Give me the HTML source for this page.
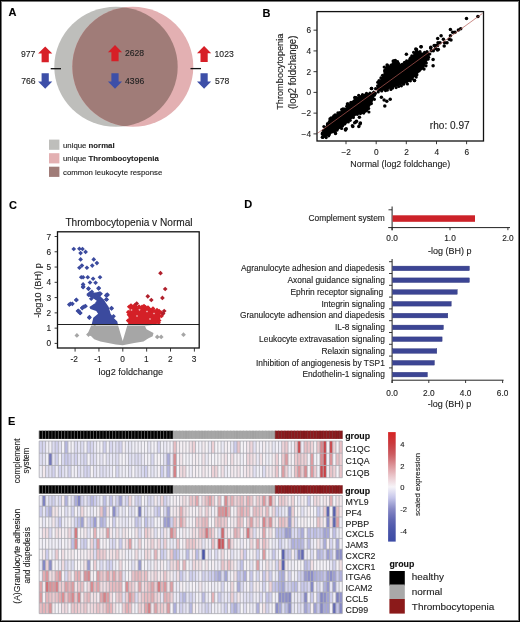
<!DOCTYPE html>
<html><head><meta charset="utf-8"><style>
html,body{margin:0;padding:0;background:#fff;}
body{width:520px;height:622px;overflow:hidden;}
svg{display:block;will-change:transform;}
svg text{font-family:"Liberation Sans",sans-serif;}
</style></head><body>
<svg width="520" height="622" viewBox="0 0 520 622"><rect x="0" y="0" width="520" height="622" fill="#fff"/><text x="8.6" y="16.4" font-size="11" text-anchor="start" fill="#000" stroke="#000" stroke-width="0.12" font-weight="bold">A</text><text x="262.4" y="16.5" font-size="11" text-anchor="start" fill="#000" stroke="#000" stroke-width="0.12" font-weight="bold">B</text><text x="8.9" y="208.6" font-size="11" text-anchor="start" fill="#000" stroke="#000" stroke-width="0.12" font-weight="bold">C</text><text x="244.3" y="208.4" font-size="11" text-anchor="start" fill="#000" stroke="#000" stroke-width="0.12" font-weight="bold">D</text><text x="8.0" y="424.6" font-size="11" text-anchor="start" fill="#000" stroke="#000" stroke-width="0.12" font-weight="bold">E</text><defs><clipPath id="cg"><ellipse cx="116" cy="66.8" rx="61.7" ry="60"/></clipPath></defs><ellipse cx="116" cy="66.8" rx="61.7" ry="60" fill="#bebebb"/><ellipse cx="132.8" cy="66.8" rx="60.5" ry="60" fill="#e3b0b2"/><ellipse cx="132.8" cy="66.8" rx="60.5" ry="60" fill="#a07c78" clip-path="url(#cg)"/><path d="M38.10,53.60 L45.20,46.40 L52.30,53.60 L48.80,53.60 L48.80,62.20 L41.60,62.20 L41.60,53.60 Z" fill="#d71f27"/><path d="M41.60,73.20 L48.80,73.20 L48.80,81.60 L52.30,81.60 L45.20,88.80 L38.10,81.60 L41.60,81.60 Z" fill="#3d4fa8"/><path d="M107.90,52.20 L115.00,45.00 L122.10,52.20 L118.60,52.20 L118.60,61.30 L111.40,61.30 L111.40,52.20 Z" fill="#d71f27"/><path d="M111.40,73.20 L118.60,73.20 L118.60,81.60 L122.10,81.60 L115.00,88.80 L107.90,81.60 L111.40,81.60 Z" fill="#3d4fa8"/><path d="M197.00,53.20 L204.10,46.00 L211.20,53.20 L207.70,53.20 L207.70,61.90 L200.50,61.90 L200.50,53.20 Z" fill="#d71f27"/><path d="M200.50,73.20 L207.70,73.20 L207.70,81.60 L211.20,81.60 L204.10,88.80 L197.00,81.60 L200.50,81.60 Z" fill="#3d4fa8"/><text x="21.0" y="56.9" font-size="8.6" text-anchor="start" fill="#222" stroke="#222" stroke-width="0.12">977</text><text x="21.3" y="84.0" font-size="8.6" text-anchor="start" fill="#222" stroke="#222" stroke-width="0.12">766</text><text x="124.9" y="56.2" font-size="8.6" text-anchor="start" fill="#222" stroke="#222" stroke-width="0.12">2628</text><text x="125.1" y="83.9" font-size="8.6" text-anchor="start" fill="#222" stroke="#222" stroke-width="0.12">4396</text><text x="214.6" y="56.7" font-size="8.6" text-anchor="start" fill="#222" stroke="#222" stroke-width="0.12">1023</text><text x="214.9" y="84.0" font-size="8.6" text-anchor="start" fill="#222" stroke="#222" stroke-width="0.12">578</text><line x1="50.7" y1="68.7" x2="61" y2="68.7" stroke="#111" stroke-width="1.3"/><line x1="190.5" y1="68.6" x2="201" y2="68.6" stroke="#111" stroke-width="1.3"/><rect x="49.00" y="139.60" width="10.40" height="10.20" fill="#bebebb"/><rect x="49.00" y="153.20" width="10.40" height="10.20" fill="#e3b0b2"/><rect x="49.00" y="166.70" width="10.40" height="10.20" fill="#a07c78"/><text x="63" y="147.8" font-size="7.8" fill="#222" stroke="#222" stroke-width="0.12">unique <tspan font-weight="bold">normal</tspan></text><text x="63" y="161.3" font-size="7.8" fill="#222" stroke="#222" stroke-width="0.12">unique <tspan font-weight="bold">Thrombocytopenia</tspan></text><text x="63" y="174.7" font-size="7.8" fill="#222" stroke="#222" stroke-width="0.12">common leukocyte response</text><g id="scatter"><polygon points="375.5,93.3 372.9,92.3 367.1,93.3 362.3,94.2 359.4,95.7 354.6,98.1 350.8,103.2 347.9,104.8 345.3,109.5 342.4,109.6 337.8,114.2 335.1,114.6 333.5,117.3 329.7,118.1 327.8,124.2 324.3,127.3 321.6,134.2 322.0,136.9 323.2,137.7 325.5,137.7 330.1,134.2 334.7,132.4 337.8,130.4 340.8,127.9 345.5,124.8 350.1,120.4 354.0,117.0 358.0,114.0 364.2,113.5 368.1,111.5 369.0,107.7 371.9,103.8 373.8,99.0 375.3,94.2" fill="#000"/><polygon points="376.1,89.1 378.1,83.1 381.4,77.7 384.1,73.0 384.8,67.6 386.8,64.9 391.5,65.6 393.6,60.2 396.9,61.5 398.9,64.2 403.0,63.6 407.0,60.2 410.4,58.2 414.4,52.8 416.4,48.7 419.8,52.1 423.8,52.8 427.9,52.1 429.9,54.8 429.2,57.5 426.5,62.2 423.8,68.9 419.8,71.6 415.8,76.3 410.4,80.4 407.7,83.1 401.0,85.1 392.9,87.8 384.8,90.5 378.1,91.8" fill="#000"/><circle cx="375.4" cy="93.4" r="1.6" fill="#000"/><circle cx="373.7" cy="92.2" r="1.6" fill="#000"/><circle cx="370.0" cy="93.0" r="1.6" fill="#000"/><circle cx="366.5" cy="93.3" r="1.6" fill="#000"/><circle cx="362.5" cy="94.7" r="1.6" fill="#000"/><circle cx="358.7" cy="95.3" r="1.6" fill="#000"/><circle cx="356.3" cy="97.5" r="1.6" fill="#000"/><circle cx="354.9" cy="97.3" r="1.6" fill="#000"/><circle cx="353.6" cy="101.5" r="1.6" fill="#000"/><circle cx="351.1" cy="103.4" r="1.6" fill="#000"/><circle cx="347.3" cy="103.9" r="1.6" fill="#000"/><circle cx="346.7" cy="106.4" r="1.6" fill="#000"/><circle cx="344.7" cy="109.0" r="1.6" fill="#000"/><circle cx="341.6" cy="109.5" r="1.6" fill="#000"/><circle cx="340.0" cy="112.5" r="1.6" fill="#000"/><circle cx="337.8" cy="114.5" r="1.6" fill="#000"/><circle cx="335.1" cy="114.9" r="1.6" fill="#000"/><circle cx="333.4" cy="116.9" r="1.6" fill="#000"/><circle cx="330.6" cy="119.0" r="1.6" fill="#000"/><circle cx="329.4" cy="121.5" r="1.6" fill="#000"/><circle cx="327.5" cy="123.7" r="1.6" fill="#000"/><circle cx="323.9" cy="126.5" r="1.6" fill="#000"/><circle cx="323.4" cy="130.6" r="1.6" fill="#000"/><circle cx="322.2" cy="134.0" r="1.6" fill="#000"/><circle cx="322.8" cy="137.5" r="1.6" fill="#000"/><circle cx="322.3" cy="137.2" r="1.6" fill="#000"/><circle cx="326.2" cy="137.6" r="1.6" fill="#000"/><circle cx="328.7" cy="135.8" r="1.6" fill="#000"/><circle cx="329.3" cy="134.4" r="1.6" fill="#000"/><circle cx="335.2" cy="132.0" r="1.6" fill="#000"/><circle cx="337.1" cy="130.1" r="1.6" fill="#000"/><circle cx="341.6" cy="128.4" r="1.6" fill="#000"/><circle cx="342.5" cy="125.9" r="1.6" fill="#000"/><circle cx="344.8" cy="124.0" r="1.6" fill="#000"/><circle cx="348.3" cy="122.0" r="1.6" fill="#000"/><circle cx="350.2" cy="120.3" r="1.6" fill="#000"/><circle cx="353.4" cy="117.4" r="1.6" fill="#000"/><circle cx="357.3" cy="114.3" r="1.6" fill="#000"/><circle cx="360.4" cy="113.6" r="1.6" fill="#000"/><circle cx="363.7" cy="113.1" r="1.6" fill="#000"/><circle cx="368.9" cy="112.0" r="1.6" fill="#000"/><circle cx="368.6" cy="108.4" r="1.6" fill="#000"/><circle cx="371.4" cy="103.6" r="1.6" fill="#000"/><circle cx="374.4" cy="99.3" r="1.6" fill="#000"/><circle cx="374.6" cy="95.1" r="1.6" fill="#000"/><circle cx="375.6" cy="88.7" r="1.6" fill="#000"/><circle cx="377.6" cy="85.8" r="1.6" fill="#000"/><circle cx="377.7" cy="82.3" r="1.6" fill="#000"/><circle cx="379.0" cy="80.5" r="1.6" fill="#000"/><circle cx="380.9" cy="77.9" r="1.6" fill="#000"/><circle cx="382.5" cy="75.3" r="1.6" fill="#000"/><circle cx="384.9" cy="73.0" r="1.6" fill="#000"/><circle cx="384.6" cy="71.0" r="1.6" fill="#000"/><circle cx="384.2" cy="67.0" r="1.6" fill="#000"/><circle cx="387.5" cy="65.5" r="1.6" fill="#000"/><circle cx="391.0" cy="65.0" r="1.6" fill="#000"/><circle cx="393.0" cy="63.7" r="1.6" fill="#000"/><circle cx="393.1" cy="61.0" r="1.6" fill="#000"/><circle cx="397.6" cy="61.7" r="1.6" fill="#000"/><circle cx="398.8" cy="63.5" r="1.6" fill="#000"/><circle cx="402.2" cy="64.4" r="1.6" fill="#000"/><circle cx="404.5" cy="62.3" r="1.6" fill="#000"/><circle cx="406.6" cy="60.8" r="1.6" fill="#000"/><circle cx="410.6" cy="57.8" r="1.6" fill="#000"/><circle cx="411.8" cy="55.9" r="1.6" fill="#000"/><circle cx="413.6" cy="52.3" r="1.6" fill="#000"/><circle cx="416.5" cy="49.3" r="1.6" fill="#000"/><circle cx="420.0" cy="51.7" r="1.6" fill="#000"/><circle cx="424.6" cy="52.3" r="1.6" fill="#000"/><circle cx="427.0" cy="51.7" r="1.6" fill="#000"/><circle cx="429.8" cy="54.0" r="1.6" fill="#000"/><circle cx="428.6" cy="57.3" r="1.6" fill="#000"/><circle cx="428.0" cy="59.2" r="1.6" fill="#000"/><circle cx="426.3" cy="62.9" r="1.6" fill="#000"/><circle cx="426.0" cy="65.8" r="1.6" fill="#000"/><circle cx="424.1" cy="69.1" r="1.6" fill="#000"/><circle cx="419.2" cy="70.8" r="1.6" fill="#000"/><circle cx="416.9" cy="74.7" r="1.6" fill="#000"/><circle cx="416.2" cy="77.1" r="1.6" fill="#000"/><circle cx="412.2" cy="78.6" r="1.6" fill="#000"/><circle cx="410.4" cy="80.8" r="1.6" fill="#000"/><circle cx="407.4" cy="84.0" r="1.6" fill="#000"/><circle cx="403.6" cy="84.2" r="1.6" fill="#000"/><circle cx="401.4" cy="85.8" r="1.6" fill="#000"/><circle cx="398.7" cy="86.4" r="1.6" fill="#000"/><circle cx="396.1" cy="87.6" r="1.6" fill="#000"/><circle cx="392.6" cy="88.1" r="1.6" fill="#000"/><circle cx="390.9" cy="89.4" r="1.6" fill="#000"/><circle cx="387.4" cy="90.1" r="1.6" fill="#000"/><circle cx="385.5" cy="90.6" r="1.6" fill="#000"/><circle cx="381.7" cy="90.9" r="1.6" fill="#000"/><circle cx="378.2" cy="92.0" r="1.6" fill="#000"/><circle cx="352.4" cy="125.8" r="1.75" fill="#000"/><circle cx="354.7" cy="122.7" r="1.75" fill="#000"/><circle cx="345.5" cy="130" r="1.75" fill="#000"/><circle cx="346.2" cy="128.8" r="1.75" fill="#000"/><circle cx="335.5" cy="133.5" r="1.75" fill="#000"/><circle cx="359.4" cy="117.3" r="1.75" fill="#000"/><circle cx="361.8" cy="112.5" r="1.75" fill="#000"/><circle cx="356.5" cy="121.2" r="1.75" fill="#000"/><circle cx="360.4" cy="123.1" r="1.75" fill="#000"/><circle cx="371.4" cy="88.5" r="1.75" fill="#000"/><circle cx="331.2" cy="118.1" r="1.75" fill="#000"/><circle cx="355.8" cy="122.1" r="1.75" fill="#000"/><circle cx="352.8" cy="126.4" r="1.75" fill="#000"/><circle cx="360" cy="124" r="1.75" fill="#000"/><circle cx="358.8" cy="126.4" r="1.75" fill="#000"/><circle cx="345.5" cy="129.4" r="1.75" fill="#000"/><circle cx="406.4" cy="54.3" r="1.75" fill="#000"/><circle cx="414.5" cy="80.6" r="1.75" fill="#000"/><circle cx="395.3" cy="60.6" r="1.75" fill="#000"/><circle cx="387.1" cy="64.9" r="1.75" fill="#000"/><circle cx="466.5" cy="18.5" r="1.75" fill="#000"/><circle cx="477.9" cy="16.4" r="1.75" fill="#000"/><circle cx="421" cy="46.7" r="1.75" fill="#000"/><circle cx="415.8" cy="49" r="1.75" fill="#000"/><circle cx="416.9" cy="51.9" r="1.75" fill="#000"/><circle cx="430.8" cy="47.3" r="1.75" fill="#000"/><circle cx="431.3" cy="50.8" r="1.75" fill="#000"/><circle cx="434.2" cy="45.6" r="1.75" fill="#000"/><circle cx="437.7" cy="38.6" r="1.75" fill="#000"/><circle cx="441.1" cy="35.8" r="1.75" fill="#000"/><circle cx="443.4" cy="39.2" r="1.75" fill="#000"/><circle cx="444.6" cy="42.7" r="1.75" fill="#000"/><circle cx="440" cy="42.7" r="1.75" fill="#000"/><circle cx="438.3" cy="49.6" r="1.75" fill="#000"/><circle cx="435.4" cy="48.4" r="1.75" fill="#000"/><circle cx="450.4" cy="29.4" r="1.75" fill="#000"/><circle cx="452.7" cy="32.3" r="1.75" fill="#000"/><circle cx="450.4" cy="35.8" r="1.75" fill="#000"/><circle cx="449.2" cy="39.2" r="1.75" fill="#000"/><circle cx="455" cy="32.3" r="1.75" fill="#000"/><circle cx="458.4" cy="30" r="1.75" fill="#000"/><circle cx="460.7" cy="28.8" r="1.75" fill="#000"/><circle cx="433.1" cy="59.4" r="1.75" fill="#000"/><circle cx="433.1" cy="65.7" r="1.75" fill="#000"/><circle cx="427.3" cy="53.1" r="1.75" fill="#000"/><circle cx="425" cy="54.8" r="1.75" fill="#000"/><circle cx="324" cy="136" r="1.75" fill="#000"/><circle cx="322.5" cy="133" r="1.75" fill="#000"/><circle cx="327.5" cy="125" r="1.75" fill="#000"/><circle cx="330" cy="119" r="1.75" fill="#000"/><circle cx="334" cy="116" r="1.75" fill="#000"/><circle cx="338" cy="113" r="1.75" fill="#000"/><circle cx="343" cy="109" r="1.75" fill="#000"/><circle cx="348" cy="104" r="1.75" fill="#000"/><circle cx="351" cy="102.5" r="1.75" fill="#000"/><circle cx="355" cy="98" r="1.75" fill="#000"/><circle cx="385" cy="70" r="1.75" fill="#000"/><circle cx="393.6" cy="61" r="1.75" fill="#000"/><circle cx="410" cy="59" r="1.75" fill="#000"/><circle cx="416.4" cy="50" r="1.75" fill="#000"/><circle cx="421.1" cy="46.7" r="1.75" fill="#000"/><circle cx="430.6" cy="48.1" r="1.75" fill="#000"/><circle cx="436" cy="45.4" r="1.75" fill="#000"/><circle cx="438" cy="42.7" r="1.75" fill="#000"/><circle cx="433.3" cy="50.8" r="1.75" fill="#000"/><circle cx="414.4" cy="80.4" r="1.75" fill="#000"/><circle cx="371.6" cy="88.5" r="1.75" fill="#000"/><circle cx="386.8" cy="101.2" r="1.75" fill="#000"/><circle cx="384.1" cy="99.9" r="1.75" fill="#000"/><circle cx="381.4" cy="97.2" r="1.75" fill="#000"/><circle cx="390.2" cy="99.2" r="1.75" fill="#000"/><circle cx="384.8" cy="106" r="1.75" fill="#000"/><circle cx="437.5" cy="45.4" r="1.75" fill="#000"/><circle cx="444.2" cy="46" r="1.75" fill="#000"/><circle cx="437.5" cy="50" r="1.75" fill="#000"/><circle cx="451" cy="40" r="1.75" fill="#000"/><circle cx="447" cy="42.7" r="1.75" fill="#000"/></g><line x1="317.6" y1="133.2" x2="482.5" y2="13.4" stroke="#b45a55" stroke-width="0.7"/><rect x="317" y="11.6" width="166.5" height="129.4" fill="none" stroke="#111" stroke-width="1.3"/><line x1="346.0" y1="141" x2="346.0" y2="144.2" stroke="#222" stroke-width="0.9"/><text x="346.2" y="154.6" font-size="8.3" text-anchor="middle" fill="#222" stroke="#222" stroke-width="0.12">&#8722;2</text><line x1="376.2" y1="141" x2="376.2" y2="144.2" stroke="#222" stroke-width="0.9"/><text x="376.4" y="154.6" font-size="8.3" text-anchor="middle" fill="#222" stroke="#222" stroke-width="0.12">0</text><line x1="406.3" y1="141" x2="406.3" y2="144.2" stroke="#222" stroke-width="0.9"/><text x="406.5" y="154.6" font-size="8.3" text-anchor="middle" fill="#222" stroke="#222" stroke-width="0.12">2</text><line x1="436.5" y1="141" x2="436.5" y2="144.2" stroke="#222" stroke-width="0.9"/><text x="436.7" y="154.6" font-size="8.3" text-anchor="middle" fill="#222" stroke="#222" stroke-width="0.12">4</text><line x1="466.6" y1="141" x2="466.6" y2="144.2" stroke="#222" stroke-width="0.9"/><text x="466.8" y="154.6" font-size="8.3" text-anchor="middle" fill="#222" stroke="#222" stroke-width="0.12">6</text><line x1="313.5" y1="30.180000000000007" x2="317" y2="30.180000000000007" stroke="#222" stroke-width="0.9"/><text x="311.0" y="33.18000000000001" font-size="8.3" text-anchor="end" fill="#222" stroke="#222" stroke-width="0.12">6</text><line x1="313.5" y1="50.92000000000001" x2="317" y2="50.92000000000001" stroke="#222" stroke-width="0.9"/><text x="311.0" y="53.92000000000001" font-size="8.3" text-anchor="end" fill="#222" stroke="#222" stroke-width="0.12">4</text><line x1="313.5" y1="71.66000000000001" x2="317" y2="71.66000000000001" stroke="#222" stroke-width="0.9"/><text x="311.0" y="74.66000000000001" font-size="8.3" text-anchor="end" fill="#222" stroke="#222" stroke-width="0.12">2</text><line x1="313.5" y1="92.4" x2="317" y2="92.4" stroke="#222" stroke-width="0.9"/><text x="311.0" y="95.4" font-size="8.3" text-anchor="end" fill="#222" stroke="#222" stroke-width="0.12">0</text><line x1="313.5" y1="113.14" x2="317" y2="113.14" stroke="#222" stroke-width="0.9"/><text x="311.0" y="116.14" font-size="8.3" text-anchor="end" fill="#222" stroke="#222" stroke-width="0.12">&#8722;2</text><line x1="313.5" y1="133.88" x2="317" y2="133.88" stroke="#222" stroke-width="0.9"/><text x="311.0" y="136.88" font-size="8.3" text-anchor="end" fill="#222" stroke="#222" stroke-width="0.12">&#8722;4</text><text x="400.3" y="167.2" font-size="9.5" text-anchor="middle" fill="#222" stroke="#222" stroke-width="0.12" textLength="99.9" lengthAdjust="spacingAndGlyphs">Normal (log2 foldchange)</text><text x="282.6" y="71.7" font-size="9.7" text-anchor="middle" fill="#222" stroke="#222" stroke-width="0.12" transform="rotate(-90 282.6 71.7)" textLength="76.2" lengthAdjust="spacingAndGlyphs">Thrombocytopenia</text><text x="295.8" y="72.4" font-size="10.0" text-anchor="middle" fill="#222" stroke="#222" stroke-width="0.12" transform="rotate(-90 295.8 72.4)" textLength="73.4" lengthAdjust="spacingAndGlyphs">(log2 foldchange)</text><text x="429.8" y="128.7" font-size="10.1" text-anchor="start" fill="#222" stroke="#222" stroke-width="0.12">rho: 0.97</text><g id="volcano"><polygon points="91.2,325.4 89.6,329.2 87.3,334.6 91.2,336.2 94.2,339.2 100.4,341.5 108.1,343.1 115.8,344.6 122.7,345.2 134.2,343.1 143.5,341.5 148.1,338.5 152.7,336.2 153.5,333.1 146.5,329.2 145.0,326.2 152.7,325.4 127.3,325.4 122.7,341.0 118.1,325.4" fill="#a6a6a6"/><path d="M154.90,336.90L157.30,334.50L159.70,336.90L157.30,339.30Z" fill="#a6a6a6"/><path d="M158.80,336.90L161.20,334.50L163.60,336.90L161.20,339.30Z" fill="#a6a6a6"/><path d="M181.10,334.70L183.50,332.30L185.90,334.70L183.50,337.10Z" fill="#a6a6a6"/><path d="M74.50,335.40L76.90,333.00L79.30,335.40L76.90,337.80Z" fill="#a6a6a6"/><path d="M86.10,334.60L88.50,332.20L90.90,334.60L88.50,337.00Z" fill="#a6a6a6"/><path d="M92.30,327.00L94.70,324.60L97.10,327.00L94.70,329.40Z" fill="#a6a6a6"/><polygon points="91.8,323.9 93.3,317.7 98.1,313.8 96.2,311.0 90.4,309.0 89.4,307.1 94.2,303.8 98.1,301.8 94.2,298.9 87.5,295.6 86.5,294.1 90.4,290.8 93.3,292.7 97.1,292.2 100.0,291.3 101.9,293.7 100.5,296.5 103.8,299.4 105.8,302.8 108.7,307.1 110.6,313.8 113.5,317.7 117.3,321.5 117.8,323.9" fill="#3b4a9e"/><path d="M71.40,249.00L73.75,246.65L76.10,249.00L73.75,251.35Z" fill="#3b4a9e"/><path d="M77.05,248.75L79.40,246.40L81.75,248.75L79.40,251.10Z" fill="#3b4a9e"/><path d="M80.15,249.00L82.50,246.65L84.85,249.00L82.50,251.35Z" fill="#3b4a9e"/><path d="M78.25,253.10L80.60,250.75L82.95,253.10L80.60,255.45Z" fill="#3b4a9e"/><path d="M83.25,251.90L85.60,249.55L87.95,251.90L85.60,254.25Z" fill="#3b4a9e"/><path d="M78.25,259.40L80.60,257.05L82.95,259.40L80.60,261.75Z" fill="#3b4a9e"/><path d="M91.40,259.40L93.75,257.05L96.10,259.40L93.75,261.75Z" fill="#3b4a9e"/><path d="M94.55,263.10L96.90,260.75L99.25,263.10L96.90,265.45Z" fill="#3b4a9e"/><path d="M89.90,265.60L92.25,263.25L94.60,265.60L92.25,267.95Z" fill="#3b4a9e"/><path d="M79.55,265.60L81.90,263.25L84.25,265.60L81.90,267.95Z" fill="#3b4a9e"/><path d="M77.05,267.75L79.40,265.40L81.75,267.75L79.40,270.10Z" fill="#3b4a9e"/><path d="M84.55,267.75L86.90,265.40L89.25,267.75L86.90,270.10Z" fill="#3b4a9e"/><path d="M78.90,277.25L81.25,274.90L83.60,277.25L81.25,279.60Z" fill="#3b4a9e"/><path d="M80.75,277.25L83.10,274.90L85.45,277.25L83.10,279.60Z" fill="#3b4a9e"/><path d="M85.40,277.25L87.75,274.90L90.10,277.25L87.75,279.60Z" fill="#3b4a9e"/><path d="M90.75,278.75L93.10,276.40L95.45,278.75L93.10,281.10Z" fill="#3b4a9e"/><path d="M97.65,277.25L100.00,274.90L102.35,277.25L100.00,279.60Z" fill="#3b4a9e"/><path d="M87.65,282.50L90.00,280.15L92.35,282.50L90.00,284.85Z" fill="#3b4a9e"/><path d="M93.25,282.75L95.60,280.40L97.95,282.75L95.60,285.10Z" fill="#3b4a9e"/><path d="M80.75,284.40L83.10,282.05L85.45,284.40L83.10,286.75Z" fill="#3b4a9e"/><path d="M80.75,287.25L83.10,284.90L85.45,287.25L83.10,289.60Z" fill="#3b4a9e"/><path d="M86.15,288.50L88.50,286.15L90.85,288.50L88.50,290.85Z" fill="#3b4a9e"/><path d="M96.40,288.10L98.75,285.75L101.10,288.10L98.75,290.45Z" fill="#3b4a9e"/><path d="M89.55,291.90L91.90,289.55L94.25,291.90L91.90,294.25Z" fill="#3b4a9e"/><path d="M86.40,295.00L88.75,292.65L91.10,295.00L88.75,297.35Z" fill="#3b4a9e"/><path d="M90.75,296.25L93.10,293.90L95.45,296.25L93.10,298.60Z" fill="#3b4a9e"/><path d="M95.15,295.00L97.50,292.65L99.85,295.00L97.50,297.35Z" fill="#3b4a9e"/><path d="M98.25,293.75L100.60,291.40L102.95,293.75L100.60,296.10Z" fill="#3b4a9e"/><path d="M105.15,295.00L107.50,292.65L109.85,295.00L107.50,297.35Z" fill="#3b4a9e"/><path d="M103.90,299.40L106.25,297.05L108.60,299.40L106.25,301.75Z" fill="#3b4a9e"/><path d="M73.90,300.00L76.25,297.65L78.60,300.00L76.25,302.35Z" fill="#3b4a9e"/><path d="M68.25,303.75L70.60,301.40L72.95,303.75L70.60,306.10Z" fill="#3b4a9e"/><path d="M100.15,302.50L102.50,300.15L104.85,302.50L102.50,304.85Z" fill="#3b4a9e"/><path d="M95.15,302.50L97.50,300.15L99.85,302.50L97.50,304.85Z" fill="#3b4a9e"/><path d="M88.90,298.75L91.25,296.40L93.60,298.75L91.25,301.10Z" fill="#3b4a9e"/><path d="M80.85,286.40L83.20,284.05L85.55,286.40L83.20,288.75Z" fill="#3b4a9e"/><path d="M86.15,288.80L88.50,286.45L90.85,288.80L88.50,291.15Z" fill="#3b4a9e"/><path d="M96.25,288.40L98.60,286.05L100.95,288.40L98.60,290.75Z" fill="#3b4a9e"/><path d="M104.85,294.60L107.20,292.25L109.55,294.60L107.20,296.95Z" fill="#3b4a9e"/><path d="M104.35,299.40L106.70,297.05L109.05,299.40L106.70,301.75Z" fill="#3b4a9e"/><path d="M74.05,299.90L76.40,297.55L78.75,299.90L76.40,302.25Z" fill="#3b4a9e"/><path d="M81.75,306.60L84.10,304.25L86.45,306.60L84.10,308.95Z" fill="#3b4a9e"/><path d="M79.85,308.10L82.20,305.75L84.55,308.10L82.20,310.45Z" fill="#3b4a9e"/><path d="M75.55,311.00L77.90,308.65L80.25,311.00L77.90,313.35Z" fill="#3b4a9e"/><path d="M77.95,312.90L80.30,310.55L82.65,312.90L80.30,315.25Z" fill="#3b4a9e"/><path d="M87.05,317.20L89.40,314.85L91.75,317.20L89.40,319.55Z" fill="#3b4a9e"/><path d="M109.15,308.10L111.50,305.75L113.85,308.10L111.50,310.45Z" fill="#3b4a9e"/><path d="M111.15,316.30L113.50,313.95L115.85,316.30L113.50,318.65Z" fill="#3b4a9e"/><path d="M66.95,304.60L69.30,302.25L71.65,304.60L69.30,306.95Z" fill="#3b4a9e"/><path d="M70.05,303.80L72.40,301.45L74.75,303.80L72.40,306.15Z" fill="#3b4a9e"/><path d="M76.15,310.80L78.50,308.45L80.85,310.80L78.50,313.15Z" fill="#3b4a9e"/><path d="M77.65,313.00L80.00,310.65L82.35,313.00L80.00,315.35Z" fill="#3b4a9e"/><path d="M80.05,307.70L82.40,305.35L84.75,307.70L82.40,310.05Z" fill="#3b4a9e"/><path d="M83.15,306.20L85.50,303.85L87.85,306.20L85.50,308.55Z" fill="#3b4a9e"/><path d="M86.95,317.70L89.30,315.35L91.65,317.70L89.30,320.05Z" fill="#3b4a9e"/><path d="M103.85,295.40L106.20,293.05L108.55,295.40L106.20,297.75Z" fill="#3b4a9e"/><path d="M109.25,308.50L111.60,306.15L113.95,308.50L111.60,310.85Z" fill="#3b4a9e"/><polygon points="128.1,324.6 128.7,315.2 129.7,306.8 133.4,306.3 137.5,307.8 141.7,307.3 145.9,307.8 150.1,308.9 154.3,309.9 158.4,311.5 160.5,314.1 160.5,318.3 158.4,321.4 156.3,324.6" fill="#d42027"/><path d="M125.79,320.61L128.14,318.26L130.49,320.61L128.14,322.96Z" fill="#d42027"/><path d="M126.60,314.83L128.95,312.48L131.30,314.83L128.95,317.18Z" fill="#d42027"/><path d="M125.88,312.17L128.23,309.82L130.58,312.17L128.23,314.52Z" fill="#d42027"/><path d="M126.87,306.77L129.22,304.42L131.57,306.77L129.22,309.12Z" fill="#d42027"/><path d="M130.19,306.99L132.54,304.64L134.89,306.99L132.54,309.34Z" fill="#d42027"/><path d="M131.72,306.75L134.07,304.40L136.42,306.75L134.07,309.10Z" fill="#d42027"/><path d="M133.38,306.85L135.73,304.50L138.08,306.85L135.73,309.20Z" fill="#d42027"/><path d="M135.42,309.04L137.77,306.69L140.12,309.04L137.77,311.39Z" fill="#d42027"/><path d="M137.30,308.53L139.65,306.18L142.00,308.53L139.65,310.88Z" fill="#d42027"/><path d="M139.69,306.93L142.04,304.58L144.39,306.93L142.04,309.28Z" fill="#d42027"/><path d="M141.97,308.23L144.32,305.88L146.67,308.23L144.32,310.58Z" fill="#d42027"/><path d="M143.15,307.36L145.50,305.01L147.85,307.36L145.50,309.71Z" fill="#d42027"/><path d="M146.38,308.80L148.73,306.45L151.08,308.80L148.73,311.15Z" fill="#d42027"/><path d="M148.19,310.16L150.54,307.81L152.89,310.16L150.54,312.51Z" fill="#d42027"/><path d="M150.28,310.74L152.63,308.39L154.98,310.74L152.63,313.09Z" fill="#d42027"/><path d="M151.74,311.00L154.09,308.65L156.44,311.00L154.09,313.35Z" fill="#d42027"/><path d="M153.89,312.07L156.24,309.72L158.59,312.07L156.24,314.42Z" fill="#d42027"/><path d="M156.81,311.19L159.16,308.84L161.51,311.19L159.16,313.54Z" fill="#d42027"/><path d="M156.37,312.73L158.72,310.38L161.07,312.73L158.72,315.08Z" fill="#d42027"/><path d="M156.80,320.52L159.15,318.17L161.50,320.52L159.15,322.87Z" fill="#d42027"/><path d="M156.22,322.71L158.57,320.36L160.92,322.71L158.57,325.06Z" fill="#d42027"/><path d="M128.65,305.50L131.00,303.15L133.35,305.50L131.00,307.85Z" fill="#d42027"/><path d="M132.65,305.00L135.00,302.65L137.35,305.00L135.00,307.35Z" fill="#d42027"/><path d="M136.65,306.50L139.00,304.15L141.35,306.50L139.00,308.85Z" fill="#d42027"/><path d="M141.65,306.00L144.00,303.65L146.35,306.00L144.00,308.35Z" fill="#d42027"/><path d="M145.65,307.50L148.00,305.15L150.35,307.50L148.00,309.85Z" fill="#d42027"/><path d="M150.65,308.50L153.00,306.15L155.35,308.50L153.00,310.85Z" fill="#d42027"/><path d="M154.65,310.00L157.00,307.65L159.35,310.00L157.00,312.35Z" fill="#d42027"/><path d="M158.65,312.50L161.00,310.15L163.35,312.50L161.00,314.85Z" fill="#d42027"/><path d="M159.15,316.00L161.50,313.65L163.85,316.00L161.50,318.35Z" fill="#d42027"/><path d="M130.40,310.00L131.50,308.90L132.60,310.00L131.50,311.10Z" fill="#eeb0b0"/><path d="M138.40,309.80L139.50,308.70L140.60,309.80L139.50,310.90Z" fill="#eeb0b0"/><path d="M145.90,311.50L147.00,310.40L148.10,311.50L147.00,312.60Z" fill="#eeb0b0"/><path d="M152.90,313.50L154.00,312.40L155.10,313.50L154.00,314.60Z" fill="#eeb0b0"/><path d="M135.90,316.00L137.00,314.90L138.10,316.00L137.00,317.10Z" fill="#eeb0b0"/><path d="M148.90,319.00L150.00,317.90L151.10,319.00L150.00,320.10Z" fill="#eeb0b0"/><path d="M158.15,273.20L160.50,270.85L162.85,273.20L160.50,275.55Z" fill="#b0202c"/><path d="M162.85,289.00L165.20,286.65L167.55,289.00L165.20,291.35Z" fill="#b0202c"/><path d="M145.45,296.30L147.80,293.95L150.15,296.30L147.80,298.65Z" fill="#b0202c"/><path d="M148.95,300.00L151.30,297.65L153.65,300.00L151.30,302.35Z" fill="#b0202c"/><path d="M160.05,297.90L162.40,295.55L164.75,297.90L162.40,300.25Z" fill="#b0202c"/><path d="M134.35,303.50L136.70,301.15L139.05,303.50L136.70,305.85Z" fill="#b0202c"/><path d="M161.85,311.00L164.20,308.65L166.55,311.00L164.20,313.35Z" fill="#b0202c"/><path d="M160.75,313.60L163.10,311.25L165.45,313.60L163.10,315.95Z" fill="#b0202c"/></g><line x1="57.5" y1="324.5" x2="199.2" y2="324.5" stroke="#222" stroke-width="1.0"/><rect x="57.5" y="231.8" width="141.7" height="116.19999999999999" fill="none" stroke="#111" stroke-width="1.3"/><text x="129" y="226.4" font-size="10.15" text-anchor="middle" fill="#222" stroke="#222" stroke-width="0.12">Thrombocytopenia v Normal</text><line x1="54.6" y1="343.4" x2="57.5" y2="343.4" stroke="#222" stroke-width="0.9"/><text x="51.2" y="346.4" font-size="8.3" text-anchor="end" fill="#222" stroke="#222" stroke-width="0.12">0</text><line x1="54.6" y1="328.13" x2="57.5" y2="328.13" stroke="#222" stroke-width="0.9"/><text x="51.2" y="331.13" font-size="8.3" text-anchor="end" fill="#222" stroke="#222" stroke-width="0.12">1</text><line x1="54.6" y1="312.85999999999996" x2="57.5" y2="312.85999999999996" stroke="#222" stroke-width="0.9"/><text x="51.2" y="315.85999999999996" font-size="8.3" text-anchor="end" fill="#222" stroke="#222" stroke-width="0.12">2</text><line x1="54.6" y1="297.59" x2="57.5" y2="297.59" stroke="#222" stroke-width="0.9"/><text x="51.2" y="300.59" font-size="8.3" text-anchor="end" fill="#222" stroke="#222" stroke-width="0.12">3</text><line x1="54.6" y1="282.32" x2="57.5" y2="282.32" stroke="#222" stroke-width="0.9"/><text x="51.2" y="285.32" font-size="8.3" text-anchor="end" fill="#222" stroke="#222" stroke-width="0.12">4</text><line x1="54.6" y1="267.04999999999995" x2="57.5" y2="267.04999999999995" stroke="#222" stroke-width="0.9"/><text x="51.2" y="270.04999999999995" font-size="8.3" text-anchor="end" fill="#222" stroke="#222" stroke-width="0.12">5</text><line x1="54.6" y1="251.77999999999997" x2="57.5" y2="251.77999999999997" stroke="#222" stroke-width="0.9"/><text x="51.2" y="254.77999999999997" font-size="8.3" text-anchor="end" fill="#222" stroke="#222" stroke-width="0.12">6</text><line x1="54.6" y1="236.51" x2="57.5" y2="236.51" stroke="#222" stroke-width="0.9"/><text x="51.2" y="239.51" font-size="8.3" text-anchor="end" fill="#222" stroke="#222" stroke-width="0.12">7</text><line x1="75.08" y1="348.0" x2="75.08" y2="351.6" stroke="#222" stroke-width="0.9"/><text x="74.17999999999999" y="362.3" font-size="8.3" text-anchor="middle" fill="#222" stroke="#222" stroke-width="0.12">-2</text><line x1="98.94" y1="348.0" x2="98.94" y2="351.6" stroke="#222" stroke-width="0.9"/><text x="98.03999999999999" y="362.3" font-size="8.3" text-anchor="middle" fill="#222" stroke="#222" stroke-width="0.12">-1</text><line x1="122.8" y1="348.0" x2="122.8" y2="351.6" stroke="#222" stroke-width="0.9"/><text x="122.5" y="362.3" font-size="8.3" text-anchor="middle" fill="#222" stroke="#222" stroke-width="0.12">0</text><line x1="146.66" y1="348.0" x2="146.66" y2="351.6" stroke="#222" stroke-width="0.9"/><text x="146.35999999999999" y="362.3" font-size="8.3" text-anchor="middle" fill="#222" stroke="#222" stroke-width="0.12">1</text><line x1="170.51999999999998" y1="348.0" x2="170.51999999999998" y2="351.6" stroke="#222" stroke-width="0.9"/><text x="170.21999999999997" y="362.3" font-size="8.3" text-anchor="middle" fill="#222" stroke="#222" stroke-width="0.12">2</text><line x1="194.38" y1="348.0" x2="194.38" y2="351.6" stroke="#222" stroke-width="0.9"/><text x="194.07999999999998" y="362.3" font-size="8.3" text-anchor="middle" fill="#222" stroke="#222" stroke-width="0.12">3</text><text x="130.8" y="374.8" font-size="9.7" text-anchor="middle" fill="#222" stroke="#222" stroke-width="0.12" textLength="64.6" lengthAdjust="spacingAndGlyphs">log2 foldchange</text><text x="41.2" y="290.5" font-size="9.7" text-anchor="middle" fill="#222" stroke="#222" stroke-width="0.12" transform="rotate(-90 41.2 290.5)" textLength="54.7" lengthAdjust="spacingAndGlyphs">-log10 (BH) p</text><line x1="392.1" y1="206.5" x2="392.1" y2="230.3" stroke="#222" stroke-width="1.0"/><line x1="388.5" y1="209.8" x2="392.1" y2="209.8" stroke="#222" stroke-width="0.9"/><line x1="388.2" y1="227.6" x2="510" y2="227.6" stroke="#222" stroke-width="1.0"/><line x1="392.1" y1="227.6" x2="392.1" y2="230.2" stroke="#222" stroke-width="0.9"/><text x="392.1" y="241.3" font-size="8.3" text-anchor="middle" fill="#222" stroke="#222" stroke-width="0.12">0.0</text><line x1="450" y1="227.6" x2="450" y2="230.2" stroke="#222" stroke-width="0.9"/><text x="450" y="241.3" font-size="8.3" text-anchor="middle" fill="#222" stroke="#222" stroke-width="0.12">1.0</text><line x1="507.9" y1="227.6" x2="507.9" y2="230.2" stroke="#222" stroke-width="0.9"/><text x="507.9" y="241.3" font-size="8.3" text-anchor="middle" fill="#222" stroke="#222" stroke-width="0.12">2.0</text><rect x="392.60" y="215.30" width="82.40" height="6.50" fill="#cc2229"/><text x="384.8" y="220.8" font-size="8.4" text-anchor="end" fill="#222" stroke="#222" stroke-width="0.12">Complement system</text><text x="449.7" y="253.8" font-size="9.5" text-anchor="middle" fill="#222" stroke="#222" stroke-width="0.12" textLength="43.5" lengthAdjust="spacingAndGlyphs">-log (BH) p</text><line x1="392.1" y1="259" x2="392.1" y2="383" stroke="#222" stroke-width="1.0"/><line x1="392.1" y1="380.2" x2="503.6" y2="380.2" stroke="#222" stroke-width="1.0"/><line x1="392.1" y1="380.2" x2="392.1" y2="383" stroke="#222" stroke-width="0.9"/><text x="392.1" y="395.6" font-size="8.3" text-anchor="middle" fill="#222" stroke="#222" stroke-width="0.12">0.0</text><line x1="428.8" y1="380.2" x2="428.8" y2="383" stroke="#222" stroke-width="0.9"/><text x="428.8" y="395.6" font-size="8.3" text-anchor="middle" fill="#222" stroke="#222" stroke-width="0.12">2.0</text><line x1="465.6" y1="380.2" x2="465.6" y2="383" stroke="#222" stroke-width="0.9"/><text x="465.6" y="395.6" font-size="8.3" text-anchor="middle" fill="#222" stroke="#222" stroke-width="0.12">4.0</text><line x1="502.6" y1="380.2" x2="502.6" y2="383" stroke="#222" stroke-width="0.9"/><text x="502.6" y="395.6" font-size="8.3" text-anchor="middle" fill="#222" stroke="#222" stroke-width="0.12">6.0</text><text x="449.5" y="406.8" font-size="9.5" text-anchor="middle" fill="#222" stroke="#222" stroke-width="0.12" textLength="43.5" lengthAdjust="spacingAndGlyphs">-log (BH) p</text><line x1="389" y1="261.7" x2="392.1" y2="261.7" stroke="#222" stroke-width="0.9"/><rect x="392.60" y="266.10" width="76.80" height="4.60" fill="#3c4594" stroke="#2c3378" stroke-width="0.4"/><text x="384.8" y="271.09999999999997" font-size="8.4" text-anchor="end" fill="#222" stroke="#222" stroke-width="0.12">Agranulocyte adhesion and diapedesis</text><line x1="389" y1="273.5" x2="392.1" y2="273.5" stroke="#222" stroke-width="0.9"/><rect x="392.60" y="277.90" width="76.80" height="4.60" fill="#3c4594" stroke="#2c3378" stroke-width="0.4"/><text x="384.8" y="282.9" font-size="8.4" text-anchor="end" fill="#222" stroke="#222" stroke-width="0.12">Axonal guidance signaling</text><line x1="389" y1="285.3" x2="392.1" y2="285.3" stroke="#222" stroke-width="0.9"/><rect x="392.60" y="289.70" width="64.60" height="4.60" fill="#3c4594" stroke="#2c3378" stroke-width="0.4"/><text x="383.2" y="294.7" font-size="8.4" text-anchor="end" fill="#222" stroke="#222" stroke-width="0.12">Ephrin receptor signaling</text><line x1="389" y1="297.1" x2="392.1" y2="297.1" stroke="#222" stroke-width="0.9"/><rect x="392.60" y="301.50" width="58.60" height="4.60" fill="#3c4594" stroke="#2c3378" stroke-width="0.4"/><text x="384.8" y="306.5" font-size="8.4" text-anchor="end" fill="#222" stroke="#222" stroke-width="0.12">Integrin signaling</text><line x1="389" y1="308.9" x2="392.1" y2="308.9" stroke="#222" stroke-width="0.9"/><rect x="392.60" y="313.30" width="55.20" height="4.60" fill="#3c4594" stroke="#2c3378" stroke-width="0.4"/><text x="384.8" y="318.29999999999995" font-size="8.4" text-anchor="end" fill="#222" stroke="#222" stroke-width="0.12">Granulocyte adhension and diapedesis</text><line x1="389" y1="320.7" x2="392.1" y2="320.7" stroke="#222" stroke-width="0.9"/><rect x="392.60" y="325.10" width="50.80" height="4.60" fill="#3c4594" stroke="#2c3378" stroke-width="0.4"/><text x="384.8" y="330.09999999999997" font-size="8.4" text-anchor="end" fill="#222" stroke="#222" stroke-width="0.12">IL-8 signaling</text><line x1="389" y1="332.5" x2="392.1" y2="332.5" stroke="#222" stroke-width="0.9"/><rect x="392.60" y="336.90" width="49.50" height="4.60" fill="#3c4594" stroke="#2c3378" stroke-width="0.4"/><text x="384.8" y="341.9" font-size="8.4" text-anchor="end" fill="#222" stroke="#222" stroke-width="0.12">Leukocyte extravasation signaling</text><line x1="389" y1="344.3" x2="392.1" y2="344.3" stroke="#222" stroke-width="0.9"/><rect x="392.60" y="348.70" width="44.20" height="4.60" fill="#3c4594" stroke="#2c3378" stroke-width="0.4"/><text x="384.8" y="353.7" font-size="8.4" text-anchor="end" fill="#222" stroke="#222" stroke-width="0.12">Relaxin signaling</text><line x1="389" y1="356.1" x2="392.1" y2="356.1" stroke="#222" stroke-width="0.9"/><rect x="392.60" y="360.50" width="41.80" height="4.60" fill="#3c4594" stroke="#2c3378" stroke-width="0.4"/><text x="384.8" y="365.5" font-size="8.4" text-anchor="end" fill="#222" stroke="#222" stroke-width="0.12">Inhibition of angiogenesis by TSP1</text><line x1="389" y1="367.9" x2="392.1" y2="367.9" stroke="#222" stroke-width="0.9"/><rect x="392.60" y="372.30" width="34.80" height="4.60" fill="#3c4594" stroke="#2c3378" stroke-width="0.4"/><text x="384.8" y="377.29999999999995" font-size="8.4" text-anchor="end" fill="#222" stroke="#222" stroke-width="0.12">Endothelin-1 signaling</text><g id="heat"><rect x="39.20" y="430.7" width="3.19" height="8.2" fill="#000000"/><rect x="42.39" y="430.7" width="3.19" height="8.2" fill="#000000"/><rect x="45.58" y="430.7" width="3.19" height="8.2" fill="#000000"/><rect x="48.77" y="430.7" width="3.19" height="8.2" fill="#000000"/><rect x="51.96" y="430.7" width="3.19" height="8.2" fill="#000000"/><rect x="55.15" y="430.7" width="3.19" height="8.2" fill="#000000"/><rect x="58.34" y="430.7" width="3.19" height="8.2" fill="#000000"/><rect x="61.53" y="430.7" width="3.19" height="8.2" fill="#000000"/><rect x="64.72" y="430.7" width="3.19" height="8.2" fill="#000000"/><rect x="67.91" y="430.7" width="3.19" height="8.2" fill="#000000"/><rect x="71.11" y="430.7" width="3.19" height="8.2" fill="#000000"/><rect x="74.30" y="430.7" width="3.19" height="8.2" fill="#000000"/><rect x="77.49" y="430.7" width="3.19" height="8.2" fill="#000000"/><rect x="80.68" y="430.7" width="3.19" height="8.2" fill="#000000"/><rect x="83.87" y="430.7" width="3.19" height="8.2" fill="#000000"/><rect x="87.06" y="430.7" width="3.19" height="8.2" fill="#000000"/><rect x="90.25" y="430.7" width="3.19" height="8.2" fill="#000000"/><rect x="93.44" y="430.7" width="3.19" height="8.2" fill="#000000"/><rect x="96.63" y="430.7" width="3.19" height="8.2" fill="#000000"/><rect x="99.82" y="430.7" width="3.19" height="8.2" fill="#000000"/><rect x="103.01" y="430.7" width="3.19" height="8.2" fill="#000000"/><rect x="106.20" y="430.7" width="3.19" height="8.2" fill="#000000"/><rect x="109.39" y="430.7" width="3.19" height="8.2" fill="#000000"/><rect x="112.58" y="430.7" width="3.19" height="8.2" fill="#000000"/><rect x="115.77" y="430.7" width="3.19" height="8.2" fill="#000000"/><rect x="118.96" y="430.7" width="3.19" height="8.2" fill="#000000"/><rect x="122.15" y="430.7" width="3.19" height="8.2" fill="#000000"/><rect x="125.34" y="430.7" width="3.19" height="8.2" fill="#000000"/><rect x="128.53" y="430.7" width="3.19" height="8.2" fill="#000000"/><rect x="131.73" y="430.7" width="3.19" height="8.2" fill="#000000"/><rect x="134.92" y="430.7" width="3.19" height="8.2" fill="#000000"/><rect x="138.11" y="430.7" width="3.19" height="8.2" fill="#000000"/><rect x="141.30" y="430.7" width="3.19" height="8.2" fill="#000000"/><rect x="144.49" y="430.7" width="3.19" height="8.2" fill="#000000"/><rect x="147.68" y="430.7" width="3.19" height="8.2" fill="#000000"/><rect x="150.87" y="430.7" width="3.19" height="8.2" fill="#000000"/><rect x="154.06" y="430.7" width="3.19" height="8.2" fill="#000000"/><rect x="157.25" y="430.7" width="3.19" height="8.2" fill="#000000"/><rect x="160.44" y="430.7" width="3.19" height="8.2" fill="#000000"/><rect x="163.63" y="430.7" width="3.19" height="8.2" fill="#000000"/><rect x="166.82" y="430.7" width="3.19" height="8.2" fill="#000000"/><rect x="170.01" y="430.7" width="3.19" height="8.2" fill="#000000"/><rect x="173.20" y="430.7" width="3.19" height="8.2" fill="#a6a6a6"/><rect x="176.39" y="430.7" width="3.19" height="8.2" fill="#a6a6a6"/><rect x="179.58" y="430.7" width="3.19" height="8.2" fill="#a6a6a6"/><rect x="182.77" y="430.7" width="3.19" height="8.2" fill="#a6a6a6"/><rect x="185.96" y="430.7" width="3.19" height="8.2" fill="#a6a6a6"/><rect x="189.15" y="430.7" width="3.19" height="8.2" fill="#a6a6a6"/><rect x="192.35" y="430.7" width="3.19" height="8.2" fill="#a6a6a6"/><rect x="195.54" y="430.7" width="3.19" height="8.2" fill="#a6a6a6"/><rect x="198.73" y="430.7" width="3.19" height="8.2" fill="#a6a6a6"/><rect x="201.92" y="430.7" width="3.19" height="8.2" fill="#a6a6a6"/><rect x="205.11" y="430.7" width="3.19" height="8.2" fill="#a6a6a6"/><rect x="208.30" y="430.7" width="3.19" height="8.2" fill="#a6a6a6"/><rect x="211.49" y="430.7" width="3.19" height="8.2" fill="#a6a6a6"/><rect x="214.68" y="430.7" width="3.19" height="8.2" fill="#a6a6a6"/><rect x="217.87" y="430.7" width="3.19" height="8.2" fill="#a6a6a6"/><rect x="221.06" y="430.7" width="3.19" height="8.2" fill="#a6a6a6"/><rect x="224.25" y="430.7" width="3.19" height="8.2" fill="#a6a6a6"/><rect x="227.44" y="430.7" width="3.19" height="8.2" fill="#a6a6a6"/><rect x="230.63" y="430.7" width="3.19" height="8.2" fill="#a6a6a6"/><rect x="233.82" y="430.7" width="3.19" height="8.2" fill="#a6a6a6"/><rect x="237.01" y="430.7" width="3.19" height="8.2" fill="#a6a6a6"/><rect x="240.20" y="430.7" width="3.19" height="8.2" fill="#a6a6a6"/><rect x="243.39" y="430.7" width="3.19" height="8.2" fill="#a6a6a6"/><rect x="246.58" y="430.7" width="3.19" height="8.2" fill="#a6a6a6"/><rect x="249.77" y="430.7" width="3.19" height="8.2" fill="#a6a6a6"/><rect x="252.97" y="430.7" width="3.19" height="8.2" fill="#a6a6a6"/><rect x="256.16" y="430.7" width="3.19" height="8.2" fill="#a6a6a6"/><rect x="259.35" y="430.7" width="3.19" height="8.2" fill="#a6a6a6"/><rect x="262.54" y="430.7" width="3.19" height="8.2" fill="#a6a6a6"/><rect x="265.73" y="430.7" width="3.19" height="8.2" fill="#a6a6a6"/><rect x="268.92" y="430.7" width="3.19" height="8.2" fill="#a6a6a6"/><rect x="272.11" y="430.7" width="3.19" height="8.2" fill="#a6a6a6"/><rect x="275.30" y="430.7" width="3.19" height="8.2" fill="#8b1a1e"/><rect x="278.49" y="430.7" width="3.19" height="8.2" fill="#8b1a1e"/><rect x="281.68" y="430.7" width="3.19" height="8.2" fill="#8b1a1e"/><rect x="284.87" y="430.7" width="3.19" height="8.2" fill="#8b1a1e"/><rect x="288.06" y="430.7" width="3.19" height="8.2" fill="#8b1a1e"/><rect x="291.25" y="430.7" width="3.19" height="8.2" fill="#8b1a1e"/><rect x="294.44" y="430.7" width="3.19" height="8.2" fill="#8b1a1e"/><rect x="297.63" y="430.7" width="3.19" height="8.2" fill="#8b1a1e"/><rect x="300.82" y="430.7" width="3.19" height="8.2" fill="#8b1a1e"/><rect x="304.01" y="430.7" width="3.19" height="8.2" fill="#8b1a1e"/><rect x="307.20" y="430.7" width="3.19" height="8.2" fill="#8b1a1e"/><rect x="310.39" y="430.7" width="3.19" height="8.2" fill="#8b1a1e"/><rect x="313.59" y="430.7" width="3.19" height="8.2" fill="#8b1a1e"/><rect x="316.78" y="430.7" width="3.19" height="8.2" fill="#8b1a1e"/><rect x="319.97" y="430.7" width="3.19" height="8.2" fill="#8b1a1e"/><rect x="323.16" y="430.7" width="3.19" height="8.2" fill="#8b1a1e"/><rect x="326.35" y="430.7" width="3.19" height="8.2" fill="#8b1a1e"/><rect x="329.54" y="430.7" width="3.19" height="8.2" fill="#8b1a1e"/><rect x="332.73" y="430.7" width="3.19" height="8.2" fill="#8b1a1e"/><rect x="335.92" y="430.7" width="3.19" height="8.2" fill="#8b1a1e"/><rect x="339.11" y="430.7" width="3.19" height="8.2" fill="#8b1a1e"/><line x1="39.20" y1="430.7" x2="39.20" y2="438.9" stroke="#5a5a5a" stroke-width="0.7"/><line x1="42.39" y1="430.7" x2="42.39" y2="438.9" stroke="#5a5a5a" stroke-width="0.7"/><line x1="45.58" y1="430.7" x2="45.58" y2="438.9" stroke="#5a5a5a" stroke-width="0.7"/><line x1="48.77" y1="430.7" x2="48.77" y2="438.9" stroke="#5a5a5a" stroke-width="0.7"/><line x1="51.96" y1="430.7" x2="51.96" y2="438.9" stroke="#5a5a5a" stroke-width="0.7"/><line x1="55.15" y1="430.7" x2="55.15" y2="438.9" stroke="#5a5a5a" stroke-width="0.7"/><line x1="58.34" y1="430.7" x2="58.34" y2="438.9" stroke="#5a5a5a" stroke-width="0.7"/><line x1="61.53" y1="430.7" x2="61.53" y2="438.9" stroke="#5a5a5a" stroke-width="0.7"/><line x1="64.72" y1="430.7" x2="64.72" y2="438.9" stroke="#5a5a5a" stroke-width="0.7"/><line x1="67.91" y1="430.7" x2="67.91" y2="438.9" stroke="#5a5a5a" stroke-width="0.7"/><line x1="71.11" y1="430.7" x2="71.11" y2="438.9" stroke="#5a5a5a" stroke-width="0.7"/><line x1="74.30" y1="430.7" x2="74.30" y2="438.9" stroke="#5a5a5a" stroke-width="0.7"/><line x1="77.49" y1="430.7" x2="77.49" y2="438.9" stroke="#5a5a5a" stroke-width="0.7"/><line x1="80.68" y1="430.7" x2="80.68" y2="438.9" stroke="#5a5a5a" stroke-width="0.7"/><line x1="83.87" y1="430.7" x2="83.87" y2="438.9" stroke="#5a5a5a" stroke-width="0.7"/><line x1="87.06" y1="430.7" x2="87.06" y2="438.9" stroke="#5a5a5a" stroke-width="0.7"/><line x1="90.25" y1="430.7" x2="90.25" y2="438.9" stroke="#5a5a5a" stroke-width="0.7"/><line x1="93.44" y1="430.7" x2="93.44" y2="438.9" stroke="#5a5a5a" stroke-width="0.7"/><line x1="96.63" y1="430.7" x2="96.63" y2="438.9" stroke="#5a5a5a" stroke-width="0.7"/><line x1="99.82" y1="430.7" x2="99.82" y2="438.9" stroke="#5a5a5a" stroke-width="0.7"/><line x1="103.01" y1="430.7" x2="103.01" y2="438.9" stroke="#5a5a5a" stroke-width="0.7"/><line x1="106.20" y1="430.7" x2="106.20" y2="438.9" stroke="#5a5a5a" stroke-width="0.7"/><line x1="109.39" y1="430.7" x2="109.39" y2="438.9" stroke="#5a5a5a" stroke-width="0.7"/><line x1="112.58" y1="430.7" x2="112.58" y2="438.9" stroke="#5a5a5a" stroke-width="0.7"/><line x1="115.77" y1="430.7" x2="115.77" y2="438.9" stroke="#5a5a5a" stroke-width="0.7"/><line x1="118.96" y1="430.7" x2="118.96" y2="438.9" stroke="#5a5a5a" stroke-width="0.7"/><line x1="122.15" y1="430.7" x2="122.15" y2="438.9" stroke="#5a5a5a" stroke-width="0.7"/><line x1="125.34" y1="430.7" x2="125.34" y2="438.9" stroke="#5a5a5a" stroke-width="0.7"/><line x1="128.53" y1="430.7" x2="128.53" y2="438.9" stroke="#5a5a5a" stroke-width="0.7"/><line x1="131.73" y1="430.7" x2="131.73" y2="438.9" stroke="#5a5a5a" stroke-width="0.7"/><line x1="134.92" y1="430.7" x2="134.92" y2="438.9" stroke="#5a5a5a" stroke-width="0.7"/><line x1="138.11" y1="430.7" x2="138.11" y2="438.9" stroke="#5a5a5a" stroke-width="0.7"/><line x1="141.30" y1="430.7" x2="141.30" y2="438.9" stroke="#5a5a5a" stroke-width="0.7"/><line x1="144.49" y1="430.7" x2="144.49" y2="438.9" stroke="#5a5a5a" stroke-width="0.7"/><line x1="147.68" y1="430.7" x2="147.68" y2="438.9" stroke="#5a5a5a" stroke-width="0.7"/><line x1="150.87" y1="430.7" x2="150.87" y2="438.9" stroke="#5a5a5a" stroke-width="0.7"/><line x1="154.06" y1="430.7" x2="154.06" y2="438.9" stroke="#5a5a5a" stroke-width="0.7"/><line x1="157.25" y1="430.7" x2="157.25" y2="438.9" stroke="#5a5a5a" stroke-width="0.7"/><line x1="160.44" y1="430.7" x2="160.44" y2="438.9" stroke="#5a5a5a" stroke-width="0.7"/><line x1="163.63" y1="430.7" x2="163.63" y2="438.9" stroke="#5a5a5a" stroke-width="0.7"/><line x1="166.82" y1="430.7" x2="166.82" y2="438.9" stroke="#5a5a5a" stroke-width="0.7"/><line x1="170.01" y1="430.7" x2="170.01" y2="438.9" stroke="#5a5a5a" stroke-width="0.7"/><line x1="173.20" y1="430.7" x2="173.20" y2="438.9" stroke="#9a9a9a" stroke-width="0.7"/><line x1="176.39" y1="430.7" x2="176.39" y2="438.9" stroke="#9a9a9a" stroke-width="0.7"/><line x1="179.58" y1="430.7" x2="179.58" y2="438.9" stroke="#9a9a9a" stroke-width="0.7"/><line x1="182.77" y1="430.7" x2="182.77" y2="438.9" stroke="#9a9a9a" stroke-width="0.7"/><line x1="185.96" y1="430.7" x2="185.96" y2="438.9" stroke="#9a9a9a" stroke-width="0.7"/><line x1="189.15" y1="430.7" x2="189.15" y2="438.9" stroke="#9a9a9a" stroke-width="0.7"/><line x1="192.35" y1="430.7" x2="192.35" y2="438.9" stroke="#9a9a9a" stroke-width="0.7"/><line x1="195.54" y1="430.7" x2="195.54" y2="438.9" stroke="#9a9a9a" stroke-width="0.7"/><line x1="198.73" y1="430.7" x2="198.73" y2="438.9" stroke="#9a9a9a" stroke-width="0.7"/><line x1="201.92" y1="430.7" x2="201.92" y2="438.9" stroke="#9a9a9a" stroke-width="0.7"/><line x1="205.11" y1="430.7" x2="205.11" y2="438.9" stroke="#9a9a9a" stroke-width="0.7"/><line x1="208.30" y1="430.7" x2="208.30" y2="438.9" stroke="#9a9a9a" stroke-width="0.7"/><line x1="211.49" y1="430.7" x2="211.49" y2="438.9" stroke="#9a9a9a" stroke-width="0.7"/><line x1="214.68" y1="430.7" x2="214.68" y2="438.9" stroke="#9a9a9a" stroke-width="0.7"/><line x1="217.87" y1="430.7" x2="217.87" y2="438.9" stroke="#9a9a9a" stroke-width="0.7"/><line x1="221.06" y1="430.7" x2="221.06" y2="438.9" stroke="#9a9a9a" stroke-width="0.7"/><line x1="224.25" y1="430.7" x2="224.25" y2="438.9" stroke="#9a9a9a" stroke-width="0.7"/><line x1="227.44" y1="430.7" x2="227.44" y2="438.9" stroke="#9a9a9a" stroke-width="0.7"/><line x1="230.63" y1="430.7" x2="230.63" y2="438.9" stroke="#9a9a9a" stroke-width="0.7"/><line x1="233.82" y1="430.7" x2="233.82" y2="438.9" stroke="#9a9a9a" stroke-width="0.7"/><line x1="237.01" y1="430.7" x2="237.01" y2="438.9" stroke="#9a9a9a" stroke-width="0.7"/><line x1="240.20" y1="430.7" x2="240.20" y2="438.9" stroke="#9a9a9a" stroke-width="0.7"/><line x1="243.39" y1="430.7" x2="243.39" y2="438.9" stroke="#9a9a9a" stroke-width="0.7"/><line x1="246.58" y1="430.7" x2="246.58" y2="438.9" stroke="#9a9a9a" stroke-width="0.7"/><line x1="249.77" y1="430.7" x2="249.77" y2="438.9" stroke="#9a9a9a" stroke-width="0.7"/><line x1="252.97" y1="430.7" x2="252.97" y2="438.9" stroke="#9a9a9a" stroke-width="0.7"/><line x1="256.16" y1="430.7" x2="256.16" y2="438.9" stroke="#9a9a9a" stroke-width="0.7"/><line x1="259.35" y1="430.7" x2="259.35" y2="438.9" stroke="#9a9a9a" stroke-width="0.7"/><line x1="262.54" y1="430.7" x2="262.54" y2="438.9" stroke="#9a9a9a" stroke-width="0.7"/><line x1="265.73" y1="430.7" x2="265.73" y2="438.9" stroke="#9a9a9a" stroke-width="0.7"/><line x1="268.92" y1="430.7" x2="268.92" y2="438.9" stroke="#9a9a9a" stroke-width="0.7"/><line x1="272.11" y1="430.7" x2="272.11" y2="438.9" stroke="#9a9a9a" stroke-width="0.7"/><line x1="275.30" y1="430.7" x2="275.30" y2="438.9" stroke="#6a1a1a" stroke-width="0.7"/><line x1="278.49" y1="430.7" x2="278.49" y2="438.9" stroke="#6a1a1a" stroke-width="0.7"/><line x1="281.68" y1="430.7" x2="281.68" y2="438.9" stroke="#6a1a1a" stroke-width="0.7"/><line x1="284.87" y1="430.7" x2="284.87" y2="438.9" stroke="#6a1a1a" stroke-width="0.7"/><line x1="288.06" y1="430.7" x2="288.06" y2="438.9" stroke="#6a1a1a" stroke-width="0.7"/><line x1="291.25" y1="430.7" x2="291.25" y2="438.9" stroke="#6a1a1a" stroke-width="0.7"/><line x1="294.44" y1="430.7" x2="294.44" y2="438.9" stroke="#6a1a1a" stroke-width="0.7"/><line x1="297.63" y1="430.7" x2="297.63" y2="438.9" stroke="#6a1a1a" stroke-width="0.7"/><line x1="300.82" y1="430.7" x2="300.82" y2="438.9" stroke="#6a1a1a" stroke-width="0.7"/><line x1="304.01" y1="430.7" x2="304.01" y2="438.9" stroke="#6a1a1a" stroke-width="0.7"/><line x1="307.20" y1="430.7" x2="307.20" y2="438.9" stroke="#6a1a1a" stroke-width="0.7"/><line x1="310.39" y1="430.7" x2="310.39" y2="438.9" stroke="#6a1a1a" stroke-width="0.7"/><line x1="313.59" y1="430.7" x2="313.59" y2="438.9" stroke="#6a1a1a" stroke-width="0.7"/><line x1="316.78" y1="430.7" x2="316.78" y2="438.9" stroke="#6a1a1a" stroke-width="0.7"/><line x1="319.97" y1="430.7" x2="319.97" y2="438.9" stroke="#6a1a1a" stroke-width="0.7"/><line x1="323.16" y1="430.7" x2="323.16" y2="438.9" stroke="#6a1a1a" stroke-width="0.7"/><line x1="326.35" y1="430.7" x2="326.35" y2="438.9" stroke="#6a1a1a" stroke-width="0.7"/><line x1="329.54" y1="430.7" x2="329.54" y2="438.9" stroke="#6a1a1a" stroke-width="0.7"/><line x1="332.73" y1="430.7" x2="332.73" y2="438.9" stroke="#6a1a1a" stroke-width="0.7"/><line x1="335.92" y1="430.7" x2="335.92" y2="438.9" stroke="#6a1a1a" stroke-width="0.7"/><line x1="339.11" y1="430.7" x2="339.11" y2="438.9" stroke="#6a1a1a" stroke-width="0.7"/><line x1="342.30" y1="430.7" x2="342.30" y2="438.9" stroke="#6a1a1a" stroke-width="0.7"/><rect x="39.20" y="441.00" width="3.19" height="12.23" fill="#d3d3ee"/><rect x="42.39" y="441.00" width="3.19" height="12.23" fill="#d8d7ef"/><rect x="45.58" y="441.00" width="3.19" height="12.23" fill="#efedf6"/><rect x="48.77" y="441.00" width="3.19" height="12.23" fill="#f1eff7"/><rect x="51.96" y="441.00" width="3.19" height="12.23" fill="#dcdbf1"/><rect x="55.15" y="441.00" width="3.19" height="12.23" fill="#d0cfed"/><rect x="58.34" y="441.00" width="3.19" height="12.23" fill="#dfdef1"/><rect x="61.53" y="441.00" width="3.19" height="12.23" fill="#f4f2f8"/><rect x="64.72" y="441.00" width="3.19" height="12.23" fill="#b6b7e0"/><rect x="67.91" y="441.00" width="3.19" height="12.23" fill="#f2f0f7"/><rect x="71.11" y="441.00" width="3.19" height="12.23" fill="#f2f0f7"/><rect x="74.30" y="441.00" width="3.19" height="12.23" fill="#dbdaf0"/><rect x="77.49" y="441.00" width="3.19" height="12.23" fill="#e5e4f3"/><rect x="80.68" y="441.00" width="3.19" height="12.23" fill="#ddddf1"/><rect x="83.87" y="441.00" width="3.19" height="12.23" fill="#f3f1f7"/><rect x="87.06" y="441.00" width="3.19" height="12.23" fill="#d1d1ee"/><rect x="90.25" y="441.00" width="3.19" height="12.23" fill="#d7d6ef"/><rect x="93.44" y="441.00" width="3.19" height="12.23" fill="#e7e6f4"/><rect x="96.63" y="441.00" width="3.19" height="12.23" fill="#f3f1f7"/><rect x="99.82" y="441.00" width="3.19" height="12.23" fill="#f3f1f7"/><rect x="103.01" y="441.00" width="3.19" height="12.23" fill="#d0d0ed"/><rect x="106.20" y="441.00" width="3.19" height="12.23" fill="#f2f0f7"/><rect x="109.39" y="441.00" width="3.19" height="12.23" fill="#d7d6ef"/><rect x="112.58" y="441.00" width="3.19" height="12.23" fill="#e7e6f4"/><rect x="115.77" y="441.00" width="3.19" height="12.23" fill="#dcdbf1"/><rect x="118.96" y="441.00" width="3.19" height="12.23" fill="#d3d2ee"/><rect x="122.15" y="441.00" width="3.19" height="12.23" fill="#f5eff3"/><rect x="125.34" y="441.00" width="3.19" height="12.23" fill="#eae9f5"/><rect x="128.53" y="441.00" width="3.19" height="12.23" fill="#e5e4f3"/><rect x="131.73" y="441.00" width="3.19" height="12.23" fill="#efeef6"/><rect x="134.92" y="441.00" width="3.19" height="12.23" fill="#f1eff7"/><rect x="138.11" y="441.00" width="3.19" height="12.23" fill="#f1eff7"/><rect x="141.30" y="441.00" width="3.19" height="12.23" fill="#f3f1f7"/><rect x="144.49" y="441.00" width="3.19" height="12.23" fill="#f4f2f7"/><rect x="147.68" y="441.00" width="3.19" height="12.23" fill="#e5e4f3"/><rect x="150.87" y="441.00" width="3.19" height="12.23" fill="#f3f1f7"/><rect x="154.06" y="441.00" width="3.19" height="12.23" fill="#f4f2f8"/><rect x="157.25" y="441.00" width="3.19" height="12.23" fill="#d5d4ef"/><rect x="160.44" y="441.00" width="3.19" height="12.23" fill="#f0eff6"/><rect x="163.63" y="441.00" width="3.19" height="12.23" fill="#ebeaf5"/><rect x="166.82" y="441.00" width="3.19" height="12.23" fill="#f0eef6"/><rect x="170.01" y="441.00" width="3.19" height="12.23" fill="#f2f0f7"/><rect x="173.20" y="441.00" width="3.19" height="12.23" fill="#e8bec3"/><rect x="176.39" y="441.00" width="3.19" height="12.23" fill="#f3e8ec"/><rect x="179.58" y="441.00" width="3.19" height="12.23" fill="#f5f0f4"/><rect x="182.77" y="441.00" width="3.19" height="12.23" fill="#f5eff3"/><rect x="185.96" y="441.00" width="3.19" height="12.23" fill="#f5f1f5"/><rect x="189.15" y="441.00" width="3.19" height="12.23" fill="#f1e0e5"/><rect x="192.35" y="441.00" width="3.19" height="12.23" fill="#edcfd4"/><rect x="195.54" y="441.00" width="3.19" height="12.23" fill="#f3f1f7"/><rect x="198.73" y="441.00" width="3.19" height="12.23" fill="#f1eff7"/><rect x="201.92" y="441.00" width="3.19" height="12.23" fill="#f3eaee"/><rect x="205.11" y="441.00" width="3.19" height="12.23" fill="#f6f3f7"/><rect x="208.30" y="441.00" width="3.19" height="12.23" fill="#e8e7f4"/><rect x="211.49" y="441.00" width="3.19" height="12.23" fill="#edd0d4"/><rect x="214.68" y="441.00" width="3.19" height="12.23" fill="#f5f3f8"/><rect x="217.87" y="441.00" width="3.19" height="12.23" fill="#f6f3f7"/><rect x="221.06" y="441.00" width="3.19" height="12.23" fill="#ebeaf5"/><rect x="224.25" y="441.00" width="3.19" height="12.23" fill="#f4eef2"/><rect x="227.44" y="441.00" width="3.19" height="12.23" fill="#f5f1f5"/><rect x="230.63" y="441.00" width="3.19" height="12.23" fill="#e8e7f4"/><rect x="233.82" y="441.00" width="3.19" height="12.23" fill="#cdcdec"/><rect x="237.01" y="441.00" width="3.19" height="12.23" fill="#eac6cb"/><rect x="240.20" y="441.00" width="3.19" height="12.23" fill="#f6f4f8"/><rect x="243.39" y="441.00" width="3.19" height="12.23" fill="#f6f3f7"/><rect x="246.58" y="441.00" width="3.19" height="12.23" fill="#f3e6eb"/><rect x="249.77" y="441.00" width="3.19" height="12.23" fill="#efd6db"/><rect x="252.97" y="441.00" width="3.19" height="12.23" fill="#e4e2f3"/><rect x="256.16" y="441.00" width="3.19" height="12.23" fill="#f5f0f4"/><rect x="259.35" y="441.00" width="3.19" height="12.23" fill="#f1eff7"/><rect x="262.54" y="441.00" width="3.19" height="12.23" fill="#f4ecf0"/><rect x="265.73" y="441.00" width="3.19" height="12.23" fill="#f0eff6"/><rect x="268.92" y="441.00" width="3.19" height="12.23" fill="#f4eef2"/><rect x="272.11" y="441.00" width="3.19" height="12.23" fill="#e8e7f4"/><rect x="275.30" y="441.00" width="3.19" height="12.23" fill="#f2f0f7"/><rect x="278.49" y="441.00" width="3.19" height="12.23" fill="#ecebf5"/><rect x="281.68" y="441.00" width="3.19" height="12.23" fill="#edd2d7"/><rect x="284.87" y="441.00" width="3.19" height="12.23" fill="#ebc9ce"/><rect x="288.06" y="441.00" width="3.19" height="12.23" fill="#f4f2f8"/><rect x="291.25" y="441.00" width="3.19" height="12.23" fill="#f0eef6"/><rect x="294.44" y="441.00" width="3.19" height="12.23" fill="#eac6cb"/><rect x="297.63" y="441.00" width="3.19" height="12.23" fill="#cb4e53"/><rect x="300.82" y="441.00" width="3.19" height="12.23" fill="#eeecf6"/><rect x="304.01" y="441.00" width="3.19" height="12.23" fill="#e9c0c5"/><rect x="307.20" y="441.00" width="3.19" height="12.23" fill="#eac5ca"/><rect x="310.39" y="441.00" width="3.19" height="12.23" fill="#edd2d6"/><rect x="313.59" y="441.00" width="3.19" height="12.23" fill="#f5f0f4"/><rect x="316.78" y="441.00" width="3.19" height="12.23" fill="#eac6cb"/><rect x="319.97" y="441.00" width="3.19" height="12.23" fill="#d8888d"/><rect x="323.16" y="441.00" width="3.19" height="12.23" fill="#c9454a"/><rect x="326.35" y="441.00" width="3.19" height="12.23" fill="#f5eff3"/><rect x="329.54" y="441.00" width="3.19" height="12.23" fill="#ca4d52"/><rect x="332.73" y="441.00" width="3.19" height="12.23" fill="#edd0d4"/><rect x="335.92" y="441.00" width="3.19" height="12.23" fill="#f5f0f4"/><rect x="339.11" y="441.00" width="3.19" height="12.23" fill="#e8bfc4"/><rect x="39.20" y="453.23" width="3.19" height="12.23" fill="#deddf1"/><rect x="42.39" y="453.23" width="3.19" height="12.23" fill="#e2e1f2"/><rect x="45.58" y="453.23" width="3.19" height="12.23" fill="#f2f0f7"/><rect x="48.77" y="453.23" width="3.19" height="12.23" fill="#7478bc"/><rect x="51.96" y="453.23" width="3.19" height="12.23" fill="#e5e3f3"/><rect x="55.15" y="453.23" width="3.19" height="12.23" fill="#d1d1ee"/><rect x="58.34" y="453.23" width="3.19" height="12.23" fill="#f1f0f7"/><rect x="61.53" y="453.23" width="3.19" height="12.23" fill="#d8d8f0"/><rect x="64.72" y="453.23" width="3.19" height="12.23" fill="#c8c8eb"/><rect x="67.91" y="453.23" width="3.19" height="12.23" fill="#d1d0ed"/><rect x="71.11" y="453.23" width="3.19" height="12.23" fill="#e0dff2"/><rect x="74.30" y="453.23" width="3.19" height="12.23" fill="#d1d0ed"/><rect x="77.49" y="453.23" width="3.19" height="12.23" fill="#e7e6f4"/><rect x="80.68" y="453.23" width="3.19" height="12.23" fill="#dcdbf1"/><rect x="83.87" y="453.23" width="3.19" height="12.23" fill="#d4d4ee"/><rect x="87.06" y="453.23" width="3.19" height="12.23" fill="#f4f2f7"/><rect x="90.25" y="453.23" width="3.19" height="12.23" fill="#dad9f0"/><rect x="93.44" y="453.23" width="3.19" height="12.23" fill="#e0dff2"/><rect x="96.63" y="453.23" width="3.19" height="12.23" fill="#f2f0f7"/><rect x="99.82" y="453.23" width="3.19" height="12.23" fill="#e6e4f3"/><rect x="103.01" y="453.23" width="3.19" height="12.23" fill="#f3f1f7"/><rect x="106.20" y="453.23" width="3.19" height="12.23" fill="#e2e0f2"/><rect x="109.39" y="453.23" width="3.19" height="12.23" fill="#e6e5f4"/><rect x="112.58" y="453.23" width="3.19" height="12.23" fill="#e7e6f4"/><rect x="115.77" y="453.23" width="3.19" height="12.23" fill="#dddcf1"/><rect x="118.96" y="453.23" width="3.19" height="12.23" fill="#f2f0f7"/><rect x="122.15" y="453.23" width="3.19" height="12.23" fill="#f6f4f8"/><rect x="125.34" y="453.23" width="3.19" height="12.23" fill="#eeecf6"/><rect x="128.53" y="453.23" width="3.19" height="12.23" fill="#ddddf1"/><rect x="131.73" y="453.23" width="3.19" height="12.23" fill="#e5e4f3"/><rect x="134.92" y="453.23" width="3.19" height="12.23" fill="#dbdaf0"/><rect x="138.11" y="453.23" width="3.19" height="12.23" fill="#dddcf1"/><rect x="141.30" y="453.23" width="3.19" height="12.23" fill="#e9e7f4"/><rect x="144.49" y="453.23" width="3.19" height="12.23" fill="#f2f0f7"/><rect x="147.68" y="453.23" width="3.19" height="12.23" fill="#f2f0f7"/><rect x="150.87" y="453.23" width="3.19" height="12.23" fill="#d8d8f0"/><rect x="154.06" y="453.23" width="3.19" height="12.23" fill="#f5f3f8"/><rect x="157.25" y="453.23" width="3.19" height="12.23" fill="#f6f2f6"/><rect x="160.44" y="453.23" width="3.19" height="12.23" fill="#f1f0f7"/><rect x="163.63" y="453.23" width="3.19" height="12.23" fill="#e1e0f2"/><rect x="166.82" y="453.23" width="3.19" height="12.23" fill="#aaabda"/><rect x="170.01" y="453.23" width="3.19" height="12.23" fill="#ebe9f5"/><rect x="173.20" y="453.23" width="3.19" height="12.23" fill="#d98b90"/><rect x="176.39" y="453.23" width="3.19" height="12.23" fill="#f5f0f4"/><rect x="179.58" y="453.23" width="3.19" height="12.23" fill="#f2e6ea"/><rect x="182.77" y="453.23" width="3.19" height="12.23" fill="#f6f4f8"/><rect x="185.96" y="453.23" width="3.19" height="12.23" fill="#f3f1f7"/><rect x="189.15" y="453.23" width="3.19" height="12.23" fill="#f4f2f8"/><rect x="192.35" y="453.23" width="3.19" height="12.23" fill="#f4edf1"/><rect x="195.54" y="453.23" width="3.19" height="12.23" fill="#f4edf1"/><rect x="198.73" y="453.23" width="3.19" height="12.23" fill="#f5f3f8"/><rect x="201.92" y="453.23" width="3.19" height="12.23" fill="#f2e3e7"/><rect x="205.11" y="453.23" width="3.19" height="12.23" fill="#ebeaf5"/><rect x="208.30" y="453.23" width="3.19" height="12.23" fill="#f5f1f5"/><rect x="211.49" y="453.23" width="3.19" height="12.23" fill="#f4f2f7"/><rect x="214.68" y="453.23" width="3.19" height="12.23" fill="#f6f3f7"/><rect x="217.87" y="453.23" width="3.19" height="12.23" fill="#f5f1f5"/><rect x="221.06" y="453.23" width="3.19" height="12.23" fill="#f4ebef"/><rect x="224.25" y="453.23" width="3.19" height="12.23" fill="#f1e1e6"/><rect x="227.44" y="453.23" width="3.19" height="12.23" fill="#f6f4f8"/><rect x="230.63" y="453.23" width="3.19" height="12.23" fill="#f0dce0"/><rect x="233.82" y="453.23" width="3.19" height="12.23" fill="#f5f0f5"/><rect x="237.01" y="453.23" width="3.19" height="12.23" fill="#f5eef2"/><rect x="240.20" y="453.23" width="3.19" height="12.23" fill="#efeef6"/><rect x="243.39" y="453.23" width="3.19" height="12.23" fill="#f6f3f7"/><rect x="246.58" y="453.23" width="3.19" height="12.23" fill="#efd6db"/><rect x="249.77" y="453.23" width="3.19" height="12.23" fill="#f0dbe0"/><rect x="252.97" y="453.23" width="3.19" height="12.23" fill="#f3e7eb"/><rect x="256.16" y="453.23" width="3.19" height="12.23" fill="#ebe9f5"/><rect x="259.35" y="453.23" width="3.19" height="12.23" fill="#f1e0e4"/><rect x="262.54" y="453.23" width="3.19" height="12.23" fill="#f5f1f5"/><rect x="265.73" y="453.23" width="3.19" height="12.23" fill="#eeedf6"/><rect x="268.92" y="453.23" width="3.19" height="12.23" fill="#f4f2f7"/><rect x="272.11" y="453.23" width="3.19" height="12.23" fill="#f4ebef"/><rect x="275.30" y="453.23" width="3.19" height="12.23" fill="#edd0d5"/><rect x="278.49" y="453.23" width="3.19" height="12.23" fill="#f6f3f7"/><rect x="281.68" y="453.23" width="3.19" height="12.23" fill="#ebc8cd"/><rect x="284.87" y="453.23" width="3.19" height="12.23" fill="#de9ca1"/><rect x="288.06" y="453.23" width="3.19" height="12.23" fill="#f4edf1"/><rect x="291.25" y="453.23" width="3.19" height="12.23" fill="#f5f1f5"/><rect x="294.44" y="453.23" width="3.19" height="12.23" fill="#eccacf"/><rect x="297.63" y="453.23" width="3.19" height="12.23" fill="#e8bfc4"/><rect x="300.82" y="453.23" width="3.19" height="12.23" fill="#edd0d5"/><rect x="304.01" y="453.23" width="3.19" height="12.23" fill="#edcfd4"/><rect x="307.20" y="453.23" width="3.19" height="12.23" fill="#f3f1f7"/><rect x="310.39" y="453.23" width="3.19" height="12.23" fill="#de9ca1"/><rect x="313.59" y="453.23" width="3.19" height="12.23" fill="#f4f2f8"/><rect x="316.78" y="453.23" width="3.19" height="12.23" fill="#f5f3f8"/><rect x="319.97" y="453.23" width="3.19" height="12.23" fill="#d98b90"/><rect x="323.16" y="453.23" width="3.19" height="12.23" fill="#c9464b"/><rect x="326.35" y="453.23" width="3.19" height="12.23" fill="#f1eff7"/><rect x="329.54" y="453.23" width="3.19" height="12.23" fill="#db9398"/><rect x="332.73" y="453.23" width="3.19" height="12.23" fill="#f6f4f8"/><rect x="335.92" y="453.23" width="3.19" height="12.23" fill="#e9c1c6"/><rect x="339.11" y="453.23" width="3.19" height="12.23" fill="#ecccd1"/><rect x="39.20" y="465.46" width="3.19" height="12.23" fill="#eeedf6"/><rect x="42.39" y="465.46" width="3.19" height="12.23" fill="#f3e8ec"/><rect x="45.58" y="465.46" width="3.19" height="12.23" fill="#dfdef1"/><rect x="48.77" y="465.46" width="3.19" height="12.23" fill="#deddf1"/><rect x="51.96" y="465.46" width="3.19" height="12.23" fill="#d3d2ee"/><rect x="55.15" y="465.46" width="3.19" height="12.23" fill="#efedf6"/><rect x="58.34" y="465.46" width="3.19" height="12.23" fill="#d2d2ee"/><rect x="61.53" y="465.46" width="3.19" height="12.23" fill="#dfdef2"/><rect x="64.72" y="465.46" width="3.19" height="12.23" fill="#e9e8f4"/><rect x="67.91" y="465.46" width="3.19" height="12.23" fill="#d2d2ee"/><rect x="71.11" y="465.46" width="3.19" height="12.23" fill="#f1eff7"/><rect x="74.30" y="465.46" width="3.19" height="12.23" fill="#f0eef6"/><rect x="77.49" y="465.46" width="3.19" height="12.23" fill="#dddcf1"/><rect x="80.68" y="465.46" width="3.19" height="12.23" fill="#e6e5f3"/><rect x="83.87" y="465.46" width="3.19" height="12.23" fill="#d5d4ef"/><rect x="87.06" y="465.46" width="3.19" height="12.23" fill="#d4d4ee"/><rect x="90.25" y="465.46" width="3.19" height="12.23" fill="#f5f2f6"/><rect x="93.44" y="465.46" width="3.19" height="12.23" fill="#e2e1f2"/><rect x="96.63" y="465.46" width="3.19" height="12.23" fill="#eeedf6"/><rect x="99.82" y="465.46" width="3.19" height="12.23" fill="#dddcf1"/><rect x="103.01" y="465.46" width="3.19" height="12.23" fill="#e1e0f2"/><rect x="106.20" y="465.46" width="3.19" height="12.23" fill="#e6e5f4"/><rect x="109.39" y="465.46" width="3.19" height="12.23" fill="#e7e6f4"/><rect x="112.58" y="465.46" width="3.19" height="12.23" fill="#f6f4f8"/><rect x="115.77" y="465.46" width="3.19" height="12.23" fill="#d6d6ef"/><rect x="118.96" y="465.46" width="3.19" height="12.23" fill="#ebeaf5"/><rect x="122.15" y="465.46" width="3.19" height="12.23" fill="#efedf6"/><rect x="125.34" y="465.46" width="3.19" height="12.23" fill="#efeef6"/><rect x="128.53" y="465.46" width="3.19" height="12.23" fill="#e1e0f2"/><rect x="131.73" y="465.46" width="3.19" height="12.23" fill="#f6f3f8"/><rect x="134.92" y="465.46" width="3.19" height="12.23" fill="#e6e5f3"/><rect x="138.11" y="465.46" width="3.19" height="12.23" fill="#e2e1f2"/><rect x="141.30" y="465.46" width="3.19" height="12.23" fill="#dadaf0"/><rect x="144.49" y="465.46" width="3.19" height="12.23" fill="#cfcfed"/><rect x="147.68" y="465.46" width="3.19" height="12.23" fill="#efedf6"/><rect x="150.87" y="465.46" width="3.19" height="12.23" fill="#e4e3f3"/><rect x="154.06" y="465.46" width="3.19" height="12.23" fill="#ecebf5"/><rect x="157.25" y="465.46" width="3.19" height="12.23" fill="#f5f1f6"/><rect x="160.44" y="465.46" width="3.19" height="12.23" fill="#cacaec"/><rect x="163.63" y="465.46" width="3.19" height="12.23" fill="#e7e6f4"/><rect x="166.82" y="465.46" width="3.19" height="12.23" fill="#b6b7e0"/><rect x="170.01" y="465.46" width="3.19" height="12.23" fill="#f4f2f7"/><rect x="173.20" y="465.46" width="3.19" height="12.23" fill="#d68085"/><rect x="176.39" y="465.46" width="3.19" height="12.23" fill="#f6f4f8"/><rect x="179.58" y="465.46" width="3.19" height="12.23" fill="#efdade"/><rect x="182.77" y="465.46" width="3.19" height="12.23" fill="#efd7dc"/><rect x="185.96" y="465.46" width="3.19" height="12.23" fill="#f6f3f7"/><rect x="189.15" y="465.46" width="3.19" height="12.23" fill="#eeecf6"/><rect x="192.35" y="465.46" width="3.19" height="12.23" fill="#f5eef2"/><rect x="195.54" y="465.46" width="3.19" height="12.23" fill="#f5eff3"/><rect x="198.73" y="465.46" width="3.19" height="12.23" fill="#f6f3f7"/><rect x="201.92" y="465.46" width="3.19" height="12.23" fill="#f3e6eb"/><rect x="205.11" y="465.46" width="3.19" height="12.23" fill="#f5eff3"/><rect x="208.30" y="465.46" width="3.19" height="12.23" fill="#f5f0f5"/><rect x="211.49" y="465.46" width="3.19" height="12.23" fill="#eed2d7"/><rect x="214.68" y="465.46" width="3.19" height="12.23" fill="#eed4d9"/><rect x="217.87" y="465.46" width="3.19" height="12.23" fill="#f6f4f8"/><rect x="221.06" y="465.46" width="3.19" height="12.23" fill="#f1dfe4"/><rect x="224.25" y="465.46" width="3.19" height="12.23" fill="#eceaf5"/><rect x="227.44" y="465.46" width="3.19" height="12.23" fill="#f1f0f7"/><rect x="230.63" y="465.46" width="3.19" height="12.23" fill="#f3e8ec"/><rect x="233.82" y="465.46" width="3.19" height="12.23" fill="#f4edf1"/><rect x="237.01" y="465.46" width="3.19" height="12.23" fill="#f2e3e8"/><rect x="240.20" y="465.46" width="3.19" height="12.23" fill="#f5f3f8"/><rect x="243.39" y="465.46" width="3.19" height="12.23" fill="#f3e9ee"/><rect x="246.58" y="465.46" width="3.19" height="12.23" fill="#f1e0e4"/><rect x="249.77" y="465.46" width="3.19" height="12.23" fill="#f3e6ea"/><rect x="252.97" y="465.46" width="3.19" height="12.23" fill="#e3e1f3"/><rect x="256.16" y="465.46" width="3.19" height="12.23" fill="#f1f0f7"/><rect x="259.35" y="465.46" width="3.19" height="12.23" fill="#f2f0f7"/><rect x="262.54" y="465.46" width="3.19" height="12.23" fill="#dddcf1"/><rect x="265.73" y="465.46" width="3.19" height="12.23" fill="#f3e7eb"/><rect x="268.92" y="465.46" width="3.19" height="12.23" fill="#f4ebf0"/><rect x="272.11" y="465.46" width="3.19" height="12.23" fill="#f2e3e8"/><rect x="275.30" y="465.46" width="3.19" height="12.23" fill="#eac4c9"/><rect x="278.49" y="465.46" width="3.19" height="12.23" fill="#f3f1f7"/><rect x="281.68" y="465.46" width="3.19" height="12.23" fill="#de9da2"/><rect x="284.87" y="465.46" width="3.19" height="12.23" fill="#edd1d6"/><rect x="288.06" y="465.46" width="3.19" height="12.23" fill="#edecf6"/><rect x="291.25" y="465.46" width="3.19" height="12.23" fill="#f4eaee"/><rect x="294.44" y="465.46" width="3.19" height="12.23" fill="#e7bcc1"/><rect x="297.63" y="465.46" width="3.19" height="12.23" fill="#dc969b"/><rect x="300.82" y="465.46" width="3.19" height="12.23" fill="#ecccd1"/><rect x="304.01" y="465.46" width="3.19" height="12.23" fill="#da8e93"/><rect x="307.20" y="465.46" width="3.19" height="12.23" fill="#f6f3f7"/><rect x="310.39" y="465.46" width="3.19" height="12.23" fill="#dd989d"/><rect x="313.59" y="465.46" width="3.19" height="12.23" fill="#ecccd1"/><rect x="316.78" y="465.46" width="3.19" height="12.23" fill="#f1f0f7"/><rect x="319.97" y="465.46" width="3.19" height="12.23" fill="#ca4b50"/><rect x="323.16" y="465.46" width="3.19" height="12.23" fill="#c94045"/><rect x="326.35" y="465.46" width="3.19" height="12.23" fill="#f3e9ee"/><rect x="329.54" y="465.46" width="3.19" height="12.23" fill="#e9c2c7"/><rect x="332.73" y="465.46" width="3.19" height="12.23" fill="#eed2d7"/><rect x="335.92" y="465.46" width="3.19" height="12.23" fill="#f6f2f6"/><rect x="339.11" y="465.46" width="3.19" height="12.23" fill="#eac3c8"/><line x1="39.20" y1="441.0" x2="39.20" y2="477.69" stroke="#a8a8b0" stroke-width="0.8"/><line x1="42.39" y1="441.0" x2="42.39" y2="477.69" stroke="#a8a8b0" stroke-width="0.8"/><line x1="45.58" y1="441.0" x2="45.58" y2="477.69" stroke="#a8a8b0" stroke-width="0.8"/><line x1="48.77" y1="441.0" x2="48.77" y2="477.69" stroke="#a8a8b0" stroke-width="0.8"/><line x1="51.96" y1="441.0" x2="51.96" y2="477.69" stroke="#a8a8b0" stroke-width="0.8"/><line x1="55.15" y1="441.0" x2="55.15" y2="477.69" stroke="#a8a8b0" stroke-width="0.8"/><line x1="58.34" y1="441.0" x2="58.34" y2="477.69" stroke="#a8a8b0" stroke-width="0.8"/><line x1="61.53" y1="441.0" x2="61.53" y2="477.69" stroke="#a8a8b0" stroke-width="0.8"/><line x1="64.72" y1="441.0" x2="64.72" y2="477.69" stroke="#a8a8b0" stroke-width="0.8"/><line x1="67.91" y1="441.0" x2="67.91" y2="477.69" stroke="#a8a8b0" stroke-width="0.8"/><line x1="71.11" y1="441.0" x2="71.11" y2="477.69" stroke="#a8a8b0" stroke-width="0.8"/><line x1="74.30" y1="441.0" x2="74.30" y2="477.69" stroke="#a8a8b0" stroke-width="0.8"/><line x1="77.49" y1="441.0" x2="77.49" y2="477.69" stroke="#a8a8b0" stroke-width="0.8"/><line x1="80.68" y1="441.0" x2="80.68" y2="477.69" stroke="#a8a8b0" stroke-width="0.8"/><line x1="83.87" y1="441.0" x2="83.87" y2="477.69" stroke="#a8a8b0" stroke-width="0.8"/><line x1="87.06" y1="441.0" x2="87.06" y2="477.69" stroke="#a8a8b0" stroke-width="0.8"/><line x1="90.25" y1="441.0" x2="90.25" y2="477.69" stroke="#a8a8b0" stroke-width="0.8"/><line x1="93.44" y1="441.0" x2="93.44" y2="477.69" stroke="#a8a8b0" stroke-width="0.8"/><line x1="96.63" y1="441.0" x2="96.63" y2="477.69" stroke="#a8a8b0" stroke-width="0.8"/><line x1="99.82" y1="441.0" x2="99.82" y2="477.69" stroke="#a8a8b0" stroke-width="0.8"/><line x1="103.01" y1="441.0" x2="103.01" y2="477.69" stroke="#a8a8b0" stroke-width="0.8"/><line x1="106.20" y1="441.0" x2="106.20" y2="477.69" stroke="#a8a8b0" stroke-width="0.8"/><line x1="109.39" y1="441.0" x2="109.39" y2="477.69" stroke="#a8a8b0" stroke-width="0.8"/><line x1="112.58" y1="441.0" x2="112.58" y2="477.69" stroke="#a8a8b0" stroke-width="0.8"/><line x1="115.77" y1="441.0" x2="115.77" y2="477.69" stroke="#a8a8b0" stroke-width="0.8"/><line x1="118.96" y1="441.0" x2="118.96" y2="477.69" stroke="#a8a8b0" stroke-width="0.8"/><line x1="122.15" y1="441.0" x2="122.15" y2="477.69" stroke="#a8a8b0" stroke-width="0.8"/><line x1="125.34" y1="441.0" x2="125.34" y2="477.69" stroke="#a8a8b0" stroke-width="0.8"/><line x1="128.53" y1="441.0" x2="128.53" y2="477.69" stroke="#a8a8b0" stroke-width="0.8"/><line x1="131.73" y1="441.0" x2="131.73" y2="477.69" stroke="#a8a8b0" stroke-width="0.8"/><line x1="134.92" y1="441.0" x2="134.92" y2="477.69" stroke="#a8a8b0" stroke-width="0.8"/><line x1="138.11" y1="441.0" x2="138.11" y2="477.69" stroke="#a8a8b0" stroke-width="0.8"/><line x1="141.30" y1="441.0" x2="141.30" y2="477.69" stroke="#a8a8b0" stroke-width="0.8"/><line x1="144.49" y1="441.0" x2="144.49" y2="477.69" stroke="#a8a8b0" stroke-width="0.8"/><line x1="147.68" y1="441.0" x2="147.68" y2="477.69" stroke="#a8a8b0" stroke-width="0.8"/><line x1="150.87" y1="441.0" x2="150.87" y2="477.69" stroke="#a8a8b0" stroke-width="0.8"/><line x1="154.06" y1="441.0" x2="154.06" y2="477.69" stroke="#a8a8b0" stroke-width="0.8"/><line x1="157.25" y1="441.0" x2="157.25" y2="477.69" stroke="#a8a8b0" stroke-width="0.8"/><line x1="160.44" y1="441.0" x2="160.44" y2="477.69" stroke="#a8a8b0" stroke-width="0.8"/><line x1="163.63" y1="441.0" x2="163.63" y2="477.69" stroke="#a8a8b0" stroke-width="0.8"/><line x1="166.82" y1="441.0" x2="166.82" y2="477.69" stroke="#a8a8b0" stroke-width="0.8"/><line x1="170.01" y1="441.0" x2="170.01" y2="477.69" stroke="#a8a8b0" stroke-width="0.8"/><line x1="173.20" y1="441.0" x2="173.20" y2="477.69" stroke="#a8a8b0" stroke-width="0.8"/><line x1="176.39" y1="441.0" x2="176.39" y2="477.69" stroke="#a8a8b0" stroke-width="0.8"/><line x1="179.58" y1="441.0" x2="179.58" y2="477.69" stroke="#a8a8b0" stroke-width="0.8"/><line x1="182.77" y1="441.0" x2="182.77" y2="477.69" stroke="#a8a8b0" stroke-width="0.8"/><line x1="185.96" y1="441.0" x2="185.96" y2="477.69" stroke="#a8a8b0" stroke-width="0.8"/><line x1="189.15" y1="441.0" x2="189.15" y2="477.69" stroke="#a8a8b0" stroke-width="0.8"/><line x1="192.35" y1="441.0" x2="192.35" y2="477.69" stroke="#a8a8b0" stroke-width="0.8"/><line x1="195.54" y1="441.0" x2="195.54" y2="477.69" stroke="#a8a8b0" stroke-width="0.8"/><line x1="198.73" y1="441.0" x2="198.73" y2="477.69" stroke="#a8a8b0" stroke-width="0.8"/><line x1="201.92" y1="441.0" x2="201.92" y2="477.69" stroke="#a8a8b0" stroke-width="0.8"/><line x1="205.11" y1="441.0" x2="205.11" y2="477.69" stroke="#a8a8b0" stroke-width="0.8"/><line x1="208.30" y1="441.0" x2="208.30" y2="477.69" stroke="#a8a8b0" stroke-width="0.8"/><line x1="211.49" y1="441.0" x2="211.49" y2="477.69" stroke="#a8a8b0" stroke-width="0.8"/><line x1="214.68" y1="441.0" x2="214.68" y2="477.69" stroke="#a8a8b0" stroke-width="0.8"/><line x1="217.87" y1="441.0" x2="217.87" y2="477.69" stroke="#a8a8b0" stroke-width="0.8"/><line x1="221.06" y1="441.0" x2="221.06" y2="477.69" stroke="#a8a8b0" stroke-width="0.8"/><line x1="224.25" y1="441.0" x2="224.25" y2="477.69" stroke="#a8a8b0" stroke-width="0.8"/><line x1="227.44" y1="441.0" x2="227.44" y2="477.69" stroke="#a8a8b0" stroke-width="0.8"/><line x1="230.63" y1="441.0" x2="230.63" y2="477.69" stroke="#a8a8b0" stroke-width="0.8"/><line x1="233.82" y1="441.0" x2="233.82" y2="477.69" stroke="#a8a8b0" stroke-width="0.8"/><line x1="237.01" y1="441.0" x2="237.01" y2="477.69" stroke="#a8a8b0" stroke-width="0.8"/><line x1="240.20" y1="441.0" x2="240.20" y2="477.69" stroke="#a8a8b0" stroke-width="0.8"/><line x1="243.39" y1="441.0" x2="243.39" y2="477.69" stroke="#a8a8b0" stroke-width="0.8"/><line x1="246.58" y1="441.0" x2="246.58" y2="477.69" stroke="#a8a8b0" stroke-width="0.8"/><line x1="249.77" y1="441.0" x2="249.77" y2="477.69" stroke="#a8a8b0" stroke-width="0.8"/><line x1="252.97" y1="441.0" x2="252.97" y2="477.69" stroke="#a8a8b0" stroke-width="0.8"/><line x1="256.16" y1="441.0" x2="256.16" y2="477.69" stroke="#a8a8b0" stroke-width="0.8"/><line x1="259.35" y1="441.0" x2="259.35" y2="477.69" stroke="#a8a8b0" stroke-width="0.8"/><line x1="262.54" y1="441.0" x2="262.54" y2="477.69" stroke="#a8a8b0" stroke-width="0.8"/><line x1="265.73" y1="441.0" x2="265.73" y2="477.69" stroke="#a8a8b0" stroke-width="0.8"/><line x1="268.92" y1="441.0" x2="268.92" y2="477.69" stroke="#a8a8b0" stroke-width="0.8"/><line x1="272.11" y1="441.0" x2="272.11" y2="477.69" stroke="#a8a8b0" stroke-width="0.8"/><line x1="275.30" y1="441.0" x2="275.30" y2="477.69" stroke="#a8a8b0" stroke-width="0.8"/><line x1="278.49" y1="441.0" x2="278.49" y2="477.69" stroke="#a8a8b0" stroke-width="0.8"/><line x1="281.68" y1="441.0" x2="281.68" y2="477.69" stroke="#a8a8b0" stroke-width="0.8"/><line x1="284.87" y1="441.0" x2="284.87" y2="477.69" stroke="#a8a8b0" stroke-width="0.8"/><line x1="288.06" y1="441.0" x2="288.06" y2="477.69" stroke="#a8a8b0" stroke-width="0.8"/><line x1="291.25" y1="441.0" x2="291.25" y2="477.69" stroke="#a8a8b0" stroke-width="0.8"/><line x1="294.44" y1="441.0" x2="294.44" y2="477.69" stroke="#a8a8b0" stroke-width="0.8"/><line x1="297.63" y1="441.0" x2="297.63" y2="477.69" stroke="#a8a8b0" stroke-width="0.8"/><line x1="300.82" y1="441.0" x2="300.82" y2="477.69" stroke="#a8a8b0" stroke-width="0.8"/><line x1="304.01" y1="441.0" x2="304.01" y2="477.69" stroke="#a8a8b0" stroke-width="0.8"/><line x1="307.20" y1="441.0" x2="307.20" y2="477.69" stroke="#a8a8b0" stroke-width="0.8"/><line x1="310.39" y1="441.0" x2="310.39" y2="477.69" stroke="#a8a8b0" stroke-width="0.8"/><line x1="313.59" y1="441.0" x2="313.59" y2="477.69" stroke="#a8a8b0" stroke-width="0.8"/><line x1="316.78" y1="441.0" x2="316.78" y2="477.69" stroke="#a8a8b0" stroke-width="0.8"/><line x1="319.97" y1="441.0" x2="319.97" y2="477.69" stroke="#a8a8b0" stroke-width="0.8"/><line x1="323.16" y1="441.0" x2="323.16" y2="477.69" stroke="#a8a8b0" stroke-width="0.8"/><line x1="326.35" y1="441.0" x2="326.35" y2="477.69" stroke="#a8a8b0" stroke-width="0.8"/><line x1="329.54" y1="441.0" x2="329.54" y2="477.69" stroke="#a8a8b0" stroke-width="0.8"/><line x1="332.73" y1="441.0" x2="332.73" y2="477.69" stroke="#a8a8b0" stroke-width="0.8"/><line x1="335.92" y1="441.0" x2="335.92" y2="477.69" stroke="#a8a8b0" stroke-width="0.8"/><line x1="339.11" y1="441.0" x2="339.11" y2="477.69" stroke="#a8a8b0" stroke-width="0.8"/><line x1="342.30" y1="441.0" x2="342.30" y2="477.69" stroke="#a8a8b0" stroke-width="0.8"/><line x1="39.2" y1="441.00" x2="342.3" y2="441.00" stroke="#a8a8b0" stroke-width="0.8"/><line x1="39.2" y1="453.23" x2="342.3" y2="453.23" stroke="#a8a8b0" stroke-width="0.8"/><line x1="39.2" y1="465.46" x2="342.3" y2="465.46" stroke="#a8a8b0" stroke-width="0.8"/><line x1="39.2" y1="477.69" x2="342.3" y2="477.69" stroke="#a8a8b0" stroke-width="0.8"/><rect x="39.20" y="485.3" width="3.19" height="8.3" fill="#000000"/><rect x="42.39" y="485.3" width="3.19" height="8.3" fill="#000000"/><rect x="45.58" y="485.3" width="3.19" height="8.3" fill="#000000"/><rect x="48.77" y="485.3" width="3.19" height="8.3" fill="#000000"/><rect x="51.96" y="485.3" width="3.19" height="8.3" fill="#000000"/><rect x="55.15" y="485.3" width="3.19" height="8.3" fill="#000000"/><rect x="58.34" y="485.3" width="3.19" height="8.3" fill="#000000"/><rect x="61.53" y="485.3" width="3.19" height="8.3" fill="#000000"/><rect x="64.72" y="485.3" width="3.19" height="8.3" fill="#000000"/><rect x="67.91" y="485.3" width="3.19" height="8.3" fill="#000000"/><rect x="71.11" y="485.3" width="3.19" height="8.3" fill="#000000"/><rect x="74.30" y="485.3" width="3.19" height="8.3" fill="#000000"/><rect x="77.49" y="485.3" width="3.19" height="8.3" fill="#000000"/><rect x="80.68" y="485.3" width="3.19" height="8.3" fill="#000000"/><rect x="83.87" y="485.3" width="3.19" height="8.3" fill="#000000"/><rect x="87.06" y="485.3" width="3.19" height="8.3" fill="#000000"/><rect x="90.25" y="485.3" width="3.19" height="8.3" fill="#000000"/><rect x="93.44" y="485.3" width="3.19" height="8.3" fill="#000000"/><rect x="96.63" y="485.3" width="3.19" height="8.3" fill="#000000"/><rect x="99.82" y="485.3" width="3.19" height="8.3" fill="#000000"/><rect x="103.01" y="485.3" width="3.19" height="8.3" fill="#000000"/><rect x="106.20" y="485.3" width="3.19" height="8.3" fill="#000000"/><rect x="109.39" y="485.3" width="3.19" height="8.3" fill="#000000"/><rect x="112.58" y="485.3" width="3.19" height="8.3" fill="#000000"/><rect x="115.77" y="485.3" width="3.19" height="8.3" fill="#000000"/><rect x="118.96" y="485.3" width="3.19" height="8.3" fill="#000000"/><rect x="122.15" y="485.3" width="3.19" height="8.3" fill="#000000"/><rect x="125.34" y="485.3" width="3.19" height="8.3" fill="#000000"/><rect x="128.53" y="485.3" width="3.19" height="8.3" fill="#000000"/><rect x="131.73" y="485.3" width="3.19" height="8.3" fill="#000000"/><rect x="134.92" y="485.3" width="3.19" height="8.3" fill="#000000"/><rect x="138.11" y="485.3" width="3.19" height="8.3" fill="#000000"/><rect x="141.30" y="485.3" width="3.19" height="8.3" fill="#000000"/><rect x="144.49" y="485.3" width="3.19" height="8.3" fill="#000000"/><rect x="147.68" y="485.3" width="3.19" height="8.3" fill="#000000"/><rect x="150.87" y="485.3" width="3.19" height="8.3" fill="#000000"/><rect x="154.06" y="485.3" width="3.19" height="8.3" fill="#000000"/><rect x="157.25" y="485.3" width="3.19" height="8.3" fill="#000000"/><rect x="160.44" y="485.3" width="3.19" height="8.3" fill="#000000"/><rect x="163.63" y="485.3" width="3.19" height="8.3" fill="#000000"/><rect x="166.82" y="485.3" width="3.19" height="8.3" fill="#000000"/><rect x="170.01" y="485.3" width="3.19" height="8.3" fill="#000000"/><rect x="173.20" y="485.3" width="3.19" height="8.3" fill="#a6a6a6"/><rect x="176.39" y="485.3" width="3.19" height="8.3" fill="#a6a6a6"/><rect x="179.58" y="485.3" width="3.19" height="8.3" fill="#a6a6a6"/><rect x="182.77" y="485.3" width="3.19" height="8.3" fill="#a6a6a6"/><rect x="185.96" y="485.3" width="3.19" height="8.3" fill="#a6a6a6"/><rect x="189.15" y="485.3" width="3.19" height="8.3" fill="#a6a6a6"/><rect x="192.35" y="485.3" width="3.19" height="8.3" fill="#a6a6a6"/><rect x="195.54" y="485.3" width="3.19" height="8.3" fill="#a6a6a6"/><rect x="198.73" y="485.3" width="3.19" height="8.3" fill="#a6a6a6"/><rect x="201.92" y="485.3" width="3.19" height="8.3" fill="#a6a6a6"/><rect x="205.11" y="485.3" width="3.19" height="8.3" fill="#a6a6a6"/><rect x="208.30" y="485.3" width="3.19" height="8.3" fill="#a6a6a6"/><rect x="211.49" y="485.3" width="3.19" height="8.3" fill="#a6a6a6"/><rect x="214.68" y="485.3" width="3.19" height="8.3" fill="#a6a6a6"/><rect x="217.87" y="485.3" width="3.19" height="8.3" fill="#a6a6a6"/><rect x="221.06" y="485.3" width="3.19" height="8.3" fill="#a6a6a6"/><rect x="224.25" y="485.3" width="3.19" height="8.3" fill="#a6a6a6"/><rect x="227.44" y="485.3" width="3.19" height="8.3" fill="#a6a6a6"/><rect x="230.63" y="485.3" width="3.19" height="8.3" fill="#a6a6a6"/><rect x="233.82" y="485.3" width="3.19" height="8.3" fill="#a6a6a6"/><rect x="237.01" y="485.3" width="3.19" height="8.3" fill="#a6a6a6"/><rect x="240.20" y="485.3" width="3.19" height="8.3" fill="#a6a6a6"/><rect x="243.39" y="485.3" width="3.19" height="8.3" fill="#a6a6a6"/><rect x="246.58" y="485.3" width="3.19" height="8.3" fill="#a6a6a6"/><rect x="249.77" y="485.3" width="3.19" height="8.3" fill="#a6a6a6"/><rect x="252.97" y="485.3" width="3.19" height="8.3" fill="#a6a6a6"/><rect x="256.16" y="485.3" width="3.19" height="8.3" fill="#a6a6a6"/><rect x="259.35" y="485.3" width="3.19" height="8.3" fill="#a6a6a6"/><rect x="262.54" y="485.3" width="3.19" height="8.3" fill="#a6a6a6"/><rect x="265.73" y="485.3" width="3.19" height="8.3" fill="#a6a6a6"/><rect x="268.92" y="485.3" width="3.19" height="8.3" fill="#a6a6a6"/><rect x="272.11" y="485.3" width="3.19" height="8.3" fill="#a6a6a6"/><rect x="275.30" y="485.3" width="3.19" height="8.3" fill="#8b1a1e"/><rect x="278.49" y="485.3" width="3.19" height="8.3" fill="#8b1a1e"/><rect x="281.68" y="485.3" width="3.19" height="8.3" fill="#8b1a1e"/><rect x="284.87" y="485.3" width="3.19" height="8.3" fill="#8b1a1e"/><rect x="288.06" y="485.3" width="3.19" height="8.3" fill="#8b1a1e"/><rect x="291.25" y="485.3" width="3.19" height="8.3" fill="#8b1a1e"/><rect x="294.44" y="485.3" width="3.19" height="8.3" fill="#8b1a1e"/><rect x="297.63" y="485.3" width="3.19" height="8.3" fill="#8b1a1e"/><rect x="300.82" y="485.3" width="3.19" height="8.3" fill="#8b1a1e"/><rect x="304.01" y="485.3" width="3.19" height="8.3" fill="#8b1a1e"/><rect x="307.20" y="485.3" width="3.19" height="8.3" fill="#8b1a1e"/><rect x="310.39" y="485.3" width="3.19" height="8.3" fill="#8b1a1e"/><rect x="313.59" y="485.3" width="3.19" height="8.3" fill="#8b1a1e"/><rect x="316.78" y="485.3" width="3.19" height="8.3" fill="#8b1a1e"/><rect x="319.97" y="485.3" width="3.19" height="8.3" fill="#8b1a1e"/><rect x="323.16" y="485.3" width="3.19" height="8.3" fill="#8b1a1e"/><rect x="326.35" y="485.3" width="3.19" height="8.3" fill="#8b1a1e"/><rect x="329.54" y="485.3" width="3.19" height="8.3" fill="#8b1a1e"/><rect x="332.73" y="485.3" width="3.19" height="8.3" fill="#8b1a1e"/><rect x="335.92" y="485.3" width="3.19" height="8.3" fill="#8b1a1e"/><rect x="339.11" y="485.3" width="3.19" height="8.3" fill="#8b1a1e"/><line x1="39.20" y1="485.3" x2="39.20" y2="493.6" stroke="#5a5a5a" stroke-width="0.7"/><line x1="42.39" y1="485.3" x2="42.39" y2="493.6" stroke="#5a5a5a" stroke-width="0.7"/><line x1="45.58" y1="485.3" x2="45.58" y2="493.6" stroke="#5a5a5a" stroke-width="0.7"/><line x1="48.77" y1="485.3" x2="48.77" y2="493.6" stroke="#5a5a5a" stroke-width="0.7"/><line x1="51.96" y1="485.3" x2="51.96" y2="493.6" stroke="#5a5a5a" stroke-width="0.7"/><line x1="55.15" y1="485.3" x2="55.15" y2="493.6" stroke="#5a5a5a" stroke-width="0.7"/><line x1="58.34" y1="485.3" x2="58.34" y2="493.6" stroke="#5a5a5a" stroke-width="0.7"/><line x1="61.53" y1="485.3" x2="61.53" y2="493.6" stroke="#5a5a5a" stroke-width="0.7"/><line x1="64.72" y1="485.3" x2="64.72" y2="493.6" stroke="#5a5a5a" stroke-width="0.7"/><line x1="67.91" y1="485.3" x2="67.91" y2="493.6" stroke="#5a5a5a" stroke-width="0.7"/><line x1="71.11" y1="485.3" x2="71.11" y2="493.6" stroke="#5a5a5a" stroke-width="0.7"/><line x1="74.30" y1="485.3" x2="74.30" y2="493.6" stroke="#5a5a5a" stroke-width="0.7"/><line x1="77.49" y1="485.3" x2="77.49" y2="493.6" stroke="#5a5a5a" stroke-width="0.7"/><line x1="80.68" y1="485.3" x2="80.68" y2="493.6" stroke="#5a5a5a" stroke-width="0.7"/><line x1="83.87" y1="485.3" x2="83.87" y2="493.6" stroke="#5a5a5a" stroke-width="0.7"/><line x1="87.06" y1="485.3" x2="87.06" y2="493.6" stroke="#5a5a5a" stroke-width="0.7"/><line x1="90.25" y1="485.3" x2="90.25" y2="493.6" stroke="#5a5a5a" stroke-width="0.7"/><line x1="93.44" y1="485.3" x2="93.44" y2="493.6" stroke="#5a5a5a" stroke-width="0.7"/><line x1="96.63" y1="485.3" x2="96.63" y2="493.6" stroke="#5a5a5a" stroke-width="0.7"/><line x1="99.82" y1="485.3" x2="99.82" y2="493.6" stroke="#5a5a5a" stroke-width="0.7"/><line x1="103.01" y1="485.3" x2="103.01" y2="493.6" stroke="#5a5a5a" stroke-width="0.7"/><line x1="106.20" y1="485.3" x2="106.20" y2="493.6" stroke="#5a5a5a" stroke-width="0.7"/><line x1="109.39" y1="485.3" x2="109.39" y2="493.6" stroke="#5a5a5a" stroke-width="0.7"/><line x1="112.58" y1="485.3" x2="112.58" y2="493.6" stroke="#5a5a5a" stroke-width="0.7"/><line x1="115.77" y1="485.3" x2="115.77" y2="493.6" stroke="#5a5a5a" stroke-width="0.7"/><line x1="118.96" y1="485.3" x2="118.96" y2="493.6" stroke="#5a5a5a" stroke-width="0.7"/><line x1="122.15" y1="485.3" x2="122.15" y2="493.6" stroke="#5a5a5a" stroke-width="0.7"/><line x1="125.34" y1="485.3" x2="125.34" y2="493.6" stroke="#5a5a5a" stroke-width="0.7"/><line x1="128.53" y1="485.3" x2="128.53" y2="493.6" stroke="#5a5a5a" stroke-width="0.7"/><line x1="131.73" y1="485.3" x2="131.73" y2="493.6" stroke="#5a5a5a" stroke-width="0.7"/><line x1="134.92" y1="485.3" x2="134.92" y2="493.6" stroke="#5a5a5a" stroke-width="0.7"/><line x1="138.11" y1="485.3" x2="138.11" y2="493.6" stroke="#5a5a5a" stroke-width="0.7"/><line x1="141.30" y1="485.3" x2="141.30" y2="493.6" stroke="#5a5a5a" stroke-width="0.7"/><line x1="144.49" y1="485.3" x2="144.49" y2="493.6" stroke="#5a5a5a" stroke-width="0.7"/><line x1="147.68" y1="485.3" x2="147.68" y2="493.6" stroke="#5a5a5a" stroke-width="0.7"/><line x1="150.87" y1="485.3" x2="150.87" y2="493.6" stroke="#5a5a5a" stroke-width="0.7"/><line x1="154.06" y1="485.3" x2="154.06" y2="493.6" stroke="#5a5a5a" stroke-width="0.7"/><line x1="157.25" y1="485.3" x2="157.25" y2="493.6" stroke="#5a5a5a" stroke-width="0.7"/><line x1="160.44" y1="485.3" x2="160.44" y2="493.6" stroke="#5a5a5a" stroke-width="0.7"/><line x1="163.63" y1="485.3" x2="163.63" y2="493.6" stroke="#5a5a5a" stroke-width="0.7"/><line x1="166.82" y1="485.3" x2="166.82" y2="493.6" stroke="#5a5a5a" stroke-width="0.7"/><line x1="170.01" y1="485.3" x2="170.01" y2="493.6" stroke="#5a5a5a" stroke-width="0.7"/><line x1="173.20" y1="485.3" x2="173.20" y2="493.6" stroke="#9a9a9a" stroke-width="0.7"/><line x1="176.39" y1="485.3" x2="176.39" y2="493.6" stroke="#9a9a9a" stroke-width="0.7"/><line x1="179.58" y1="485.3" x2="179.58" y2="493.6" stroke="#9a9a9a" stroke-width="0.7"/><line x1="182.77" y1="485.3" x2="182.77" y2="493.6" stroke="#9a9a9a" stroke-width="0.7"/><line x1="185.96" y1="485.3" x2="185.96" y2="493.6" stroke="#9a9a9a" stroke-width="0.7"/><line x1="189.15" y1="485.3" x2="189.15" y2="493.6" stroke="#9a9a9a" stroke-width="0.7"/><line x1="192.35" y1="485.3" x2="192.35" y2="493.6" stroke="#9a9a9a" stroke-width="0.7"/><line x1="195.54" y1="485.3" x2="195.54" y2="493.6" stroke="#9a9a9a" stroke-width="0.7"/><line x1="198.73" y1="485.3" x2="198.73" y2="493.6" stroke="#9a9a9a" stroke-width="0.7"/><line x1="201.92" y1="485.3" x2="201.92" y2="493.6" stroke="#9a9a9a" stroke-width="0.7"/><line x1="205.11" y1="485.3" x2="205.11" y2="493.6" stroke="#9a9a9a" stroke-width="0.7"/><line x1="208.30" y1="485.3" x2="208.30" y2="493.6" stroke="#9a9a9a" stroke-width="0.7"/><line x1="211.49" y1="485.3" x2="211.49" y2="493.6" stroke="#9a9a9a" stroke-width="0.7"/><line x1="214.68" y1="485.3" x2="214.68" y2="493.6" stroke="#9a9a9a" stroke-width="0.7"/><line x1="217.87" y1="485.3" x2="217.87" y2="493.6" stroke="#9a9a9a" stroke-width="0.7"/><line x1="221.06" y1="485.3" x2="221.06" y2="493.6" stroke="#9a9a9a" stroke-width="0.7"/><line x1="224.25" y1="485.3" x2="224.25" y2="493.6" stroke="#9a9a9a" stroke-width="0.7"/><line x1="227.44" y1="485.3" x2="227.44" y2="493.6" stroke="#9a9a9a" stroke-width="0.7"/><line x1="230.63" y1="485.3" x2="230.63" y2="493.6" stroke="#9a9a9a" stroke-width="0.7"/><line x1="233.82" y1="485.3" x2="233.82" y2="493.6" stroke="#9a9a9a" stroke-width="0.7"/><line x1="237.01" y1="485.3" x2="237.01" y2="493.6" stroke="#9a9a9a" stroke-width="0.7"/><line x1="240.20" y1="485.3" x2="240.20" y2="493.6" stroke="#9a9a9a" stroke-width="0.7"/><line x1="243.39" y1="485.3" x2="243.39" y2="493.6" stroke="#9a9a9a" stroke-width="0.7"/><line x1="246.58" y1="485.3" x2="246.58" y2="493.6" stroke="#9a9a9a" stroke-width="0.7"/><line x1="249.77" y1="485.3" x2="249.77" y2="493.6" stroke="#9a9a9a" stroke-width="0.7"/><line x1="252.97" y1="485.3" x2="252.97" y2="493.6" stroke="#9a9a9a" stroke-width="0.7"/><line x1="256.16" y1="485.3" x2="256.16" y2="493.6" stroke="#9a9a9a" stroke-width="0.7"/><line x1="259.35" y1="485.3" x2="259.35" y2="493.6" stroke="#9a9a9a" stroke-width="0.7"/><line x1="262.54" y1="485.3" x2="262.54" y2="493.6" stroke="#9a9a9a" stroke-width="0.7"/><line x1="265.73" y1="485.3" x2="265.73" y2="493.6" stroke="#9a9a9a" stroke-width="0.7"/><line x1="268.92" y1="485.3" x2="268.92" y2="493.6" stroke="#9a9a9a" stroke-width="0.7"/><line x1="272.11" y1="485.3" x2="272.11" y2="493.6" stroke="#9a9a9a" stroke-width="0.7"/><line x1="275.30" y1="485.3" x2="275.30" y2="493.6" stroke="#6a1a1a" stroke-width="0.7"/><line x1="278.49" y1="485.3" x2="278.49" y2="493.6" stroke="#6a1a1a" stroke-width="0.7"/><line x1="281.68" y1="485.3" x2="281.68" y2="493.6" stroke="#6a1a1a" stroke-width="0.7"/><line x1="284.87" y1="485.3" x2="284.87" y2="493.6" stroke="#6a1a1a" stroke-width="0.7"/><line x1="288.06" y1="485.3" x2="288.06" y2="493.6" stroke="#6a1a1a" stroke-width="0.7"/><line x1="291.25" y1="485.3" x2="291.25" y2="493.6" stroke="#6a1a1a" stroke-width="0.7"/><line x1="294.44" y1="485.3" x2="294.44" y2="493.6" stroke="#6a1a1a" stroke-width="0.7"/><line x1="297.63" y1="485.3" x2="297.63" y2="493.6" stroke="#6a1a1a" stroke-width="0.7"/><line x1="300.82" y1="485.3" x2="300.82" y2="493.6" stroke="#6a1a1a" stroke-width="0.7"/><line x1="304.01" y1="485.3" x2="304.01" y2="493.6" stroke="#6a1a1a" stroke-width="0.7"/><line x1="307.20" y1="485.3" x2="307.20" y2="493.6" stroke="#6a1a1a" stroke-width="0.7"/><line x1="310.39" y1="485.3" x2="310.39" y2="493.6" stroke="#6a1a1a" stroke-width="0.7"/><line x1="313.59" y1="485.3" x2="313.59" y2="493.6" stroke="#6a1a1a" stroke-width="0.7"/><line x1="316.78" y1="485.3" x2="316.78" y2="493.6" stroke="#6a1a1a" stroke-width="0.7"/><line x1="319.97" y1="485.3" x2="319.97" y2="493.6" stroke="#6a1a1a" stroke-width="0.7"/><line x1="323.16" y1="485.3" x2="323.16" y2="493.6" stroke="#6a1a1a" stroke-width="0.7"/><line x1="326.35" y1="485.3" x2="326.35" y2="493.6" stroke="#6a1a1a" stroke-width="0.7"/><line x1="329.54" y1="485.3" x2="329.54" y2="493.6" stroke="#6a1a1a" stroke-width="0.7"/><line x1="332.73" y1="485.3" x2="332.73" y2="493.6" stroke="#6a1a1a" stroke-width="0.7"/><line x1="335.92" y1="485.3" x2="335.92" y2="493.6" stroke="#6a1a1a" stroke-width="0.7"/><line x1="339.11" y1="485.3" x2="339.11" y2="493.6" stroke="#6a1a1a" stroke-width="0.7"/><line x1="342.30" y1="485.3" x2="342.30" y2="493.6" stroke="#6a1a1a" stroke-width="0.7"/><rect x="39.20" y="495.50" width="3.19" height="10.74" fill="#e6e4f3"/><rect x="42.39" y="495.50" width="3.19" height="10.74" fill="#7e82c1"/><rect x="45.58" y="495.50" width="3.19" height="10.74" fill="#e7e6f4"/><rect x="48.77" y="495.50" width="3.19" height="10.74" fill="#d6d6ef"/><rect x="51.96" y="495.50" width="3.19" height="10.74" fill="#d0d0ed"/><rect x="55.15" y="495.50" width="3.19" height="10.74" fill="#e6e5f4"/><rect x="58.34" y="495.50" width="3.19" height="10.74" fill="#d5d5ef"/><rect x="61.53" y="495.50" width="3.19" height="10.74" fill="#f4eaee"/><rect x="64.72" y="495.50" width="3.19" height="10.74" fill="#b1b2de"/><rect x="67.91" y="495.50" width="3.19" height="10.74" fill="#eeedf6"/><rect x="71.11" y="495.50" width="3.19" height="10.74" fill="#dddcf1"/><rect x="74.30" y="495.50" width="3.19" height="10.74" fill="#abacda"/><rect x="77.49" y="495.50" width="3.19" height="10.74" fill="#8285c3"/><rect x="80.68" y="495.50" width="3.19" height="10.74" fill="#d2d1ee"/><rect x="83.87" y="495.50" width="3.19" height="10.74" fill="#e8e6f4"/><rect x="87.06" y="495.50" width="3.19" height="10.74" fill="#d3d3ee"/><rect x="90.25" y="495.50" width="3.19" height="10.74" fill="#b6b6e0"/><rect x="93.44" y="495.50" width="3.19" height="10.74" fill="#cacaec"/><rect x="96.63" y="495.50" width="3.19" height="10.74" fill="#ddddf1"/><rect x="99.82" y="495.50" width="3.19" height="10.74" fill="#edecf6"/><rect x="103.01" y="495.50" width="3.19" height="10.74" fill="#bfc0e6"/><rect x="106.20" y="495.50" width="3.19" height="10.74" fill="#e9e8f4"/><rect x="109.39" y="495.50" width="3.19" height="10.74" fill="#bebee5"/><rect x="112.58" y="495.50" width="3.19" height="10.74" fill="#e8e6f4"/><rect x="115.77" y="495.50" width="3.19" height="10.74" fill="#d1d0ed"/><rect x="118.96" y="495.50" width="3.19" height="10.74" fill="#a0a1d4"/><rect x="122.15" y="495.50" width="3.19" height="10.74" fill="#e5e3f3"/><rect x="125.34" y="495.50" width="3.19" height="10.74" fill="#d0d0ed"/><rect x="128.53" y="495.50" width="3.19" height="10.74" fill="#edd2d7"/><rect x="131.73" y="495.50" width="3.19" height="10.74" fill="#f1eff7"/><rect x="134.92" y="495.50" width="3.19" height="10.74" fill="#d4d3ee"/><rect x="138.11" y="495.50" width="3.19" height="10.74" fill="#cdcdec"/><rect x="141.30" y="495.50" width="3.19" height="10.74" fill="#f6f3f7"/><rect x="144.49" y="495.50" width="3.19" height="10.74" fill="#e9e8f4"/><rect x="147.68" y="495.50" width="3.19" height="10.74" fill="#d5d4ef"/><rect x="150.87" y="495.50" width="3.19" height="10.74" fill="#e0dff2"/><rect x="154.06" y="495.50" width="3.19" height="10.74" fill="#f3eaee"/><rect x="157.25" y="495.50" width="3.19" height="10.74" fill="#e5e3f3"/><rect x="160.44" y="495.50" width="3.19" height="10.74" fill="#edd2d7"/><rect x="163.63" y="495.50" width="3.19" height="10.74" fill="#d1d1ee"/><rect x="166.82" y="495.50" width="3.19" height="10.74" fill="#e4e2f3"/><rect x="170.01" y="495.50" width="3.19" height="10.74" fill="#f5f3f8"/><rect x="173.20" y="495.50" width="3.19" height="10.74" fill="#f5eef2"/><rect x="176.39" y="495.50" width="3.19" height="10.74" fill="#f5f1f5"/><rect x="179.58" y="495.50" width="3.19" height="10.74" fill="#f3e8ec"/><rect x="182.77" y="495.50" width="3.19" height="10.74" fill="#f0dce0"/><rect x="185.96" y="495.50" width="3.19" height="10.74" fill="#f3eaee"/><rect x="189.15" y="495.50" width="3.19" height="10.74" fill="#e9c2c7"/><rect x="192.35" y="495.50" width="3.19" height="10.74" fill="#ebc9ce"/><rect x="195.54" y="495.50" width="3.19" height="10.74" fill="#e1a6ab"/><rect x="198.73" y="495.50" width="3.19" height="10.74" fill="#f4ebef"/><rect x="201.92" y="495.50" width="3.19" height="10.74" fill="#eed5da"/><rect x="205.11" y="495.50" width="3.19" height="10.74" fill="#e7bbc0"/><rect x="208.30" y="495.50" width="3.19" height="10.74" fill="#df9fa4"/><rect x="211.49" y="495.50" width="3.19" height="10.74" fill="#eac4c9"/><rect x="214.68" y="495.50" width="3.19" height="10.74" fill="#f4eef2"/><rect x="217.87" y="495.50" width="3.19" height="10.74" fill="#e7bcc1"/><rect x="221.06" y="495.50" width="3.19" height="10.74" fill="#f6f4f8"/><rect x="224.25" y="495.50" width="3.19" height="10.74" fill="#d98c91"/><rect x="227.44" y="495.50" width="3.19" height="10.74" fill="#eac5ca"/><rect x="230.63" y="495.50" width="3.19" height="10.74" fill="#e4b0b5"/><rect x="233.82" y="495.50" width="3.19" height="10.74" fill="#eed5d9"/><rect x="237.01" y="495.50" width="3.19" height="10.74" fill="#ebc9ce"/><rect x="240.20" y="495.50" width="3.19" height="10.74" fill="#e7bbc0"/><rect x="243.39" y="495.50" width="3.19" height="10.74" fill="#eed5da"/><rect x="246.58" y="495.50" width="3.19" height="10.74" fill="#e3adb2"/><rect x="249.77" y="495.50" width="3.19" height="10.74" fill="#ebc7cc"/><rect x="252.97" y="495.50" width="3.19" height="10.74" fill="#f4ebef"/><rect x="256.16" y="495.50" width="3.19" height="10.74" fill="#eccbcf"/><rect x="259.35" y="495.50" width="3.19" height="10.74" fill="#edced3"/><rect x="262.54" y="495.50" width="3.19" height="10.74" fill="#dd989d"/><rect x="265.73" y="495.50" width="3.19" height="10.74" fill="#efd6db"/><rect x="268.92" y="495.50" width="3.19" height="10.74" fill="#d57b80"/><rect x="272.11" y="495.50" width="3.19" height="10.74" fill="#edd2d6"/><rect x="275.30" y="495.50" width="3.19" height="10.74" fill="#f2f1f7"/><rect x="278.49" y="495.50" width="3.19" height="10.74" fill="#ebc8cd"/><rect x="281.68" y="495.50" width="3.19" height="10.74" fill="#ebc8cd"/><rect x="284.87" y="495.50" width="3.19" height="10.74" fill="#efd9de"/><rect x="288.06" y="495.50" width="3.19" height="10.74" fill="#f4eaef"/><rect x="291.25" y="495.50" width="3.19" height="10.74" fill="#eed3d7"/><rect x="294.44" y="495.50" width="3.19" height="10.74" fill="#f5f3f8"/><rect x="297.63" y="495.50" width="3.19" height="10.74" fill="#eae8f5"/><rect x="300.82" y="495.50" width="3.19" height="10.74" fill="#f4ebef"/><rect x="304.01" y="495.50" width="3.19" height="10.74" fill="#f5f1f5"/><rect x="307.20" y="495.50" width="3.19" height="10.74" fill="#c6c6ea"/><rect x="310.39" y="495.50" width="3.19" height="10.74" fill="#f1eff7"/><rect x="313.59" y="495.50" width="3.19" height="10.74" fill="#efd8dc"/><rect x="316.78" y="495.50" width="3.19" height="10.74" fill="#f0dde2"/><rect x="319.97" y="495.50" width="3.19" height="10.74" fill="#f5f1f5"/><rect x="323.16" y="495.50" width="3.19" height="10.74" fill="#f3e7eb"/><rect x="326.35" y="495.50" width="3.19" height="10.74" fill="#f4eaef"/><rect x="329.54" y="495.50" width="3.19" height="10.74" fill="#e4b1b6"/><rect x="332.73" y="495.50" width="3.19" height="10.74" fill="#f5f3f8"/><rect x="335.92" y="495.50" width="3.19" height="10.74" fill="#f2e2e7"/><rect x="339.11" y="495.50" width="3.19" height="10.74" fill="#f3e7eb"/><rect x="39.20" y="506.24" width="3.19" height="10.74" fill="#cbcbec"/><rect x="42.39" y="506.24" width="3.19" height="10.74" fill="#e6e5f3"/><rect x="45.58" y="506.24" width="3.19" height="10.74" fill="#c9c9eb"/><rect x="48.77" y="506.24" width="3.19" height="10.74" fill="#adaedb"/><rect x="51.96" y="506.24" width="3.19" height="10.74" fill="#f2e3e7"/><rect x="55.15" y="506.24" width="3.19" height="10.74" fill="#f2e5e9"/><rect x="58.34" y="506.24" width="3.19" height="10.74" fill="#ebe9f5"/><rect x="61.53" y="506.24" width="3.19" height="10.74" fill="#f5f2f6"/><rect x="64.72" y="506.24" width="3.19" height="10.74" fill="#dfdef2"/><rect x="67.91" y="506.24" width="3.19" height="10.74" fill="#f0eef6"/><rect x="71.11" y="506.24" width="3.19" height="10.74" fill="#d1d1ee"/><rect x="74.30" y="506.24" width="3.19" height="10.74" fill="#f5f1f5"/><rect x="77.49" y="506.24" width="3.19" height="10.74" fill="#e5e4f3"/><rect x="80.68" y="506.24" width="3.19" height="10.74" fill="#efd7dc"/><rect x="83.87" y="506.24" width="3.19" height="10.74" fill="#f5f0f5"/><rect x="87.06" y="506.24" width="3.19" height="10.74" fill="#f3f1f7"/><rect x="90.25" y="506.24" width="3.19" height="10.74" fill="#e6e5f4"/><rect x="93.44" y="506.24" width="3.19" height="10.74" fill="#f1eff6"/><rect x="96.63" y="506.24" width="3.19" height="10.74" fill="#f4eef2"/><rect x="99.82" y="506.24" width="3.19" height="10.74" fill="#eac3c8"/><rect x="103.01" y="506.24" width="3.19" height="10.74" fill="#b1b1dd"/><rect x="106.20" y="506.24" width="3.19" height="10.74" fill="#f1e1e6"/><rect x="109.39" y="506.24" width="3.19" height="10.74" fill="#f4f2f7"/><rect x="112.58" y="506.24" width="3.19" height="10.74" fill="#8b8dc8"/><rect x="115.77" y="506.24" width="3.19" height="10.74" fill="#d0d0ed"/><rect x="118.96" y="506.24" width="3.19" height="10.74" fill="#efedf6"/><rect x="122.15" y="506.24" width="3.19" height="10.74" fill="#e5e4f3"/><rect x="125.34" y="506.24" width="3.19" height="10.74" fill="#f5f3f8"/><rect x="128.53" y="506.24" width="3.19" height="10.74" fill="#e0dff2"/><rect x="131.73" y="506.24" width="3.19" height="10.74" fill="#e3e2f3"/><rect x="134.92" y="506.24" width="3.19" height="10.74" fill="#f3f2f7"/><rect x="138.11" y="506.24" width="3.19" height="10.74" fill="#787cbe"/><rect x="141.30" y="506.24" width="3.19" height="10.74" fill="#efeef6"/><rect x="144.49" y="506.24" width="3.19" height="10.74" fill="#dcdbf1"/><rect x="147.68" y="506.24" width="3.19" height="10.74" fill="#e9e8f4"/><rect x="150.87" y="506.24" width="3.19" height="10.74" fill="#efedf6"/><rect x="154.06" y="506.24" width="3.19" height="10.74" fill="#d5d4ef"/><rect x="157.25" y="506.24" width="3.19" height="10.74" fill="#c1c1e7"/><rect x="160.44" y="506.24" width="3.19" height="10.74" fill="#f6f3f7"/><rect x="163.63" y="506.24" width="3.19" height="10.74" fill="#d8d7ef"/><rect x="166.82" y="506.24" width="3.19" height="10.74" fill="#a4a5d6"/><rect x="170.01" y="506.24" width="3.19" height="10.74" fill="#f4eef2"/><rect x="173.20" y="506.24" width="3.19" height="10.74" fill="#f3e8ed"/><rect x="176.39" y="506.24" width="3.19" height="10.74" fill="#f2e3e7"/><rect x="179.58" y="506.24" width="3.19" height="10.74" fill="#e3adb2"/><rect x="182.77" y="506.24" width="3.19" height="10.74" fill="#efd9de"/><rect x="185.96" y="506.24" width="3.19" height="10.74" fill="#f3e7eb"/><rect x="189.15" y="506.24" width="3.19" height="10.74" fill="#f5eff4"/><rect x="192.35" y="506.24" width="3.19" height="10.74" fill="#f5eef2"/><rect x="195.54" y="506.24" width="3.19" height="10.74" fill="#f4eef2"/><rect x="198.73" y="506.24" width="3.19" height="10.74" fill="#f0dce0"/><rect x="201.92" y="506.24" width="3.19" height="10.74" fill="#f5eff3"/><rect x="205.11" y="506.24" width="3.19" height="10.74" fill="#edcfd4"/><rect x="208.30" y="506.24" width="3.19" height="10.74" fill="#f2e5e9"/><rect x="211.49" y="506.24" width="3.19" height="10.74" fill="#efedf6"/><rect x="214.68" y="506.24" width="3.19" height="10.74" fill="#f4ebef"/><rect x="217.87" y="506.24" width="3.19" height="10.74" fill="#db9297"/><rect x="221.06" y="506.24" width="3.19" height="10.74" fill="#db9196"/><rect x="224.25" y="506.24" width="3.19" height="10.74" fill="#d68186"/><rect x="227.44" y="506.24" width="3.19" height="10.74" fill="#e4b0b5"/><rect x="230.63" y="506.24" width="3.19" height="10.74" fill="#f6f3f7"/><rect x="233.82" y="506.24" width="3.19" height="10.74" fill="#f4ecf0"/><rect x="237.01" y="506.24" width="3.19" height="10.74" fill="#e9c2c7"/><rect x="240.20" y="506.24" width="3.19" height="10.74" fill="#e1a8ad"/><rect x="243.39" y="506.24" width="3.19" height="10.74" fill="#e8bfc4"/><rect x="246.58" y="506.24" width="3.19" height="10.74" fill="#e5b4b9"/><rect x="249.77" y="506.24" width="3.19" height="10.74" fill="#f4edf1"/><rect x="252.97" y="506.24" width="3.19" height="10.74" fill="#e8bdc2"/><rect x="256.16" y="506.24" width="3.19" height="10.74" fill="#e9c1c6"/><rect x="259.35" y="506.24" width="3.19" height="10.74" fill="#eccdd2"/><rect x="262.54" y="506.24" width="3.19" height="10.74" fill="#f1e1e5"/><rect x="265.73" y="506.24" width="3.19" height="10.74" fill="#e7babf"/><rect x="268.92" y="506.24" width="3.19" height="10.74" fill="#f4eef2"/><rect x="272.11" y="506.24" width="3.19" height="10.74" fill="#eed4d9"/><rect x="275.30" y="506.24" width="3.19" height="10.74" fill="#d2d1ee"/><rect x="278.49" y="506.24" width="3.19" height="10.74" fill="#dddcf1"/><rect x="281.68" y="506.24" width="3.19" height="10.74" fill="#e7e6f4"/><rect x="284.87" y="506.24" width="3.19" height="10.74" fill="#efeef6"/><rect x="288.06" y="506.24" width="3.19" height="10.74" fill="#989acf"/><rect x="291.25" y="506.24" width="3.19" height="10.74" fill="#eccdd2"/><rect x="294.44" y="506.24" width="3.19" height="10.74" fill="#f6f3f7"/><rect x="297.63" y="506.24" width="3.19" height="10.74" fill="#f5f0f4"/><rect x="300.82" y="506.24" width="3.19" height="10.74" fill="#e1e0f2"/><rect x="304.01" y="506.24" width="3.19" height="10.74" fill="#f2f0f7"/><rect x="307.20" y="506.24" width="3.19" height="10.74" fill="#f5eef2"/><rect x="310.39" y="506.24" width="3.19" height="10.74" fill="#f6f3f7"/><rect x="313.59" y="506.24" width="3.19" height="10.74" fill="#f5f3f8"/><rect x="316.78" y="506.24" width="3.19" height="10.74" fill="#cacaec"/><rect x="319.97" y="506.24" width="3.19" height="10.74" fill="#eae8f5"/><rect x="323.16" y="506.24" width="3.19" height="10.74" fill="#eccdd2"/><rect x="326.35" y="506.24" width="3.19" height="10.74" fill="#5f66b2"/><rect x="329.54" y="506.24" width="3.19" height="10.74" fill="#f4f2f7"/><rect x="332.73" y="506.24" width="3.19" height="10.74" fill="#5860af"/><rect x="335.92" y="506.24" width="3.19" height="10.74" fill="#e8bec3"/><rect x="339.11" y="506.24" width="3.19" height="10.74" fill="#f2e4e8"/><rect x="39.20" y="516.98" width="3.19" height="10.74" fill="#f6f3f7"/><rect x="42.39" y="516.98" width="3.19" height="10.74" fill="#e8e7f4"/><rect x="45.58" y="516.98" width="3.19" height="10.74" fill="#f6f3f7"/><rect x="48.77" y="516.98" width="3.19" height="10.74" fill="#ecebf5"/><rect x="51.96" y="516.98" width="3.19" height="10.74" fill="#f3e6eb"/><rect x="55.15" y="516.98" width="3.19" height="10.74" fill="#e1dff2"/><rect x="58.34" y="516.98" width="3.19" height="10.74" fill="#c4c4e9"/><rect x="61.53" y="516.98" width="3.19" height="10.74" fill="#eeecf6"/><rect x="64.72" y="516.98" width="3.19" height="10.74" fill="#f0eef6"/><rect x="67.91" y="516.98" width="3.19" height="10.74" fill="#f6f2f6"/><rect x="71.11" y="516.98" width="3.19" height="10.74" fill="#ebe9f5"/><rect x="74.30" y="516.98" width="3.19" height="10.74" fill="#d2d2ee"/><rect x="77.49" y="516.98" width="3.19" height="10.74" fill="#bebfe5"/><rect x="80.68" y="516.98" width="3.19" height="10.74" fill="#9fa1d3"/><rect x="83.87" y="516.98" width="3.19" height="10.74" fill="#f4edf1"/><rect x="87.06" y="516.98" width="3.19" height="10.74" fill="#d9d8f0"/><rect x="90.25" y="516.98" width="3.19" height="10.74" fill="#c5c5e9"/><rect x="93.44" y="516.98" width="3.19" height="10.74" fill="#9b9cd1"/><rect x="96.63" y="516.98" width="3.19" height="10.74" fill="#efeef6"/><rect x="99.82" y="516.98" width="3.19" height="10.74" fill="#b1b2de"/><rect x="103.01" y="516.98" width="3.19" height="10.74" fill="#c0c0e6"/><rect x="106.20" y="516.98" width="3.19" height="10.74" fill="#f2f1f7"/><rect x="109.39" y="516.98" width="3.19" height="10.74" fill="#f5f0f4"/><rect x="112.58" y="516.98" width="3.19" height="10.74" fill="#ceceed"/><rect x="115.77" y="516.98" width="3.19" height="10.74" fill="#f5f1f5"/><rect x="118.96" y="516.98" width="3.19" height="10.74" fill="#eceaf5"/><rect x="122.15" y="516.98" width="3.19" height="10.74" fill="#eae8f5"/><rect x="125.34" y="516.98" width="3.19" height="10.74" fill="#e7e6f4"/><rect x="128.53" y="516.98" width="3.19" height="10.74" fill="#f0eef6"/><rect x="131.73" y="516.98" width="3.19" height="10.74" fill="#f1eff6"/><rect x="134.92" y="516.98" width="3.19" height="10.74" fill="#c5c5e9"/><rect x="138.11" y="516.98" width="3.19" height="10.74" fill="#d1d1ee"/><rect x="141.30" y="516.98" width="3.19" height="10.74" fill="#eeedf6"/><rect x="144.49" y="516.98" width="3.19" height="10.74" fill="#c0c0e6"/><rect x="147.68" y="516.98" width="3.19" height="10.74" fill="#dfdef2"/><rect x="150.87" y="516.98" width="3.19" height="10.74" fill="#dbdaf0"/><rect x="154.06" y="516.98" width="3.19" height="10.74" fill="#f6f4f8"/><rect x="157.25" y="516.98" width="3.19" height="10.74" fill="#f2f0f7"/><rect x="160.44" y="516.98" width="3.19" height="10.74" fill="#ecebf5"/><rect x="163.63" y="516.98" width="3.19" height="10.74" fill="#9fa0d3"/><rect x="166.82" y="516.98" width="3.19" height="10.74" fill="#9697ce"/><rect x="170.01" y="516.98" width="3.19" height="10.74" fill="#ceceed"/><rect x="173.20" y="516.98" width="3.19" height="10.74" fill="#eac3c8"/><rect x="176.39" y="516.98" width="3.19" height="10.74" fill="#f1e0e4"/><rect x="179.58" y="516.98" width="3.19" height="10.74" fill="#e0a3a8"/><rect x="182.77" y="516.98" width="3.19" height="10.74" fill="#eccacf"/><rect x="185.96" y="516.98" width="3.19" height="10.74" fill="#f5eff4"/><rect x="189.15" y="516.98" width="3.19" height="10.74" fill="#f5f1f5"/><rect x="192.35" y="516.98" width="3.19" height="10.74" fill="#f4ecf1"/><rect x="195.54" y="516.98" width="3.19" height="10.74" fill="#ebc7cc"/><rect x="198.73" y="516.98" width="3.19" height="10.74" fill="#ecccd1"/><rect x="201.92" y="516.98" width="3.19" height="10.74" fill="#e7bbc0"/><rect x="205.11" y="516.98" width="3.19" height="10.74" fill="#e6b7bc"/><rect x="208.30" y="516.98" width="3.19" height="10.74" fill="#f5f2f6"/><rect x="211.49" y="516.98" width="3.19" height="10.74" fill="#f5f0f4"/><rect x="214.68" y="516.98" width="3.19" height="10.74" fill="#eccbd0"/><rect x="217.87" y="516.98" width="3.19" height="10.74" fill="#e8bec3"/><rect x="221.06" y="516.98" width="3.19" height="10.74" fill="#ebc9ce"/><rect x="224.25" y="516.98" width="3.19" height="10.74" fill="#eccbd0"/><rect x="227.44" y="516.98" width="3.19" height="10.74" fill="#f5f3f8"/><rect x="230.63" y="516.98" width="3.19" height="10.74" fill="#f3e9ed"/><rect x="233.82" y="516.98" width="3.19" height="10.74" fill="#f3e8ec"/><rect x="237.01" y="516.98" width="3.19" height="10.74" fill="#e7babf"/><rect x="240.20" y="516.98" width="3.19" height="10.74" fill="#ebc8cd"/><rect x="243.39" y="516.98" width="3.19" height="10.74" fill="#f6f3f7"/><rect x="246.58" y="516.98" width="3.19" height="10.74" fill="#ecccd1"/><rect x="249.77" y="516.98" width="3.19" height="10.74" fill="#dfa0a5"/><rect x="252.97" y="516.98" width="3.19" height="10.74" fill="#f0dee2"/><rect x="256.16" y="516.98" width="3.19" height="10.74" fill="#eccbd0"/><rect x="259.35" y="516.98" width="3.19" height="10.74" fill="#f3e9ed"/><rect x="262.54" y="516.98" width="3.19" height="10.74" fill="#d8868b"/><rect x="265.73" y="516.98" width="3.19" height="10.74" fill="#eac3c8"/><rect x="268.92" y="516.98" width="3.19" height="10.74" fill="#db9398"/><rect x="272.11" y="516.98" width="3.19" height="10.74" fill="#f2e3e7"/><rect x="275.30" y="516.98" width="3.19" height="10.74" fill="#f3e8ed"/><rect x="278.49" y="516.98" width="3.19" height="10.74" fill="#e8bec3"/><rect x="281.68" y="516.98" width="3.19" height="10.74" fill="#e8bec3"/><rect x="284.87" y="516.98" width="3.19" height="10.74" fill="#ecced3"/><rect x="288.06" y="516.98" width="3.19" height="10.74" fill="#989acf"/><rect x="291.25" y="516.98" width="3.19" height="10.74" fill="#f0dbdf"/><rect x="294.44" y="516.98" width="3.19" height="10.74" fill="#e4e3f3"/><rect x="297.63" y="516.98" width="3.19" height="10.74" fill="#f6f4f8"/><rect x="300.82" y="516.98" width="3.19" height="10.74" fill="#f5eff3"/><rect x="304.01" y="516.98" width="3.19" height="10.74" fill="#f5f0f4"/><rect x="307.20" y="516.98" width="3.19" height="10.74" fill="#f6f4f8"/><rect x="310.39" y="516.98" width="3.19" height="10.74" fill="#f5eef2"/><rect x="313.59" y="516.98" width="3.19" height="10.74" fill="#f5f3f8"/><rect x="316.78" y="516.98" width="3.19" height="10.74" fill="#eac3c8"/><rect x="319.97" y="516.98" width="3.19" height="10.74" fill="#f2e2e7"/><rect x="323.16" y="516.98" width="3.19" height="10.74" fill="#f5eef2"/><rect x="326.35" y="516.98" width="3.19" height="10.74" fill="#8c8ec8"/><rect x="329.54" y="516.98" width="3.19" height="10.74" fill="#efd8dd"/><rect x="332.73" y="516.98" width="3.19" height="10.74" fill="#5f66b2"/><rect x="335.92" y="516.98" width="3.19" height="10.74" fill="#dfa0a5"/><rect x="339.11" y="516.98" width="3.19" height="10.74" fill="#eeecf6"/><rect x="39.20" y="527.72" width="3.19" height="10.74" fill="#f5f1f6"/><rect x="42.39" y="527.72" width="3.19" height="10.74" fill="#f1dee3"/><rect x="45.58" y="527.72" width="3.19" height="10.74" fill="#f0dce1"/><rect x="48.77" y="527.72" width="3.19" height="10.74" fill="#d9d8f0"/><rect x="51.96" y="527.72" width="3.19" height="10.74" fill="#f6f3f7"/><rect x="55.15" y="527.72" width="3.19" height="10.74" fill="#f1dfe3"/><rect x="58.34" y="527.72" width="3.19" height="10.74" fill="#f2e4e9"/><rect x="61.53" y="527.72" width="3.19" height="10.74" fill="#f4edf2"/><rect x="64.72" y="527.72" width="3.19" height="10.74" fill="#f4ecf0"/><rect x="67.91" y="527.72" width="3.19" height="10.74" fill="#eed4d9"/><rect x="71.11" y="527.72" width="3.19" height="10.74" fill="#dfdef1"/><rect x="74.30" y="527.72" width="3.19" height="10.74" fill="#d47a80"/><rect x="77.49" y="527.72" width="3.19" height="10.74" fill="#f5f0f4"/><rect x="80.68" y="527.72" width="3.19" height="10.74" fill="#f5f0f4"/><rect x="83.87" y="527.72" width="3.19" height="10.74" fill="#f3e7ec"/><rect x="87.06" y="527.72" width="3.19" height="10.74" fill="#e4e3f3"/><rect x="90.25" y="527.72" width="3.19" height="10.74" fill="#f5f0f4"/><rect x="93.44" y="527.72" width="3.19" height="10.74" fill="#e4b2b7"/><rect x="96.63" y="527.72" width="3.19" height="10.74" fill="#f6f2f6"/><rect x="99.82" y="527.72" width="3.19" height="10.74" fill="#f3eaee"/><rect x="103.01" y="527.72" width="3.19" height="10.74" fill="#f3e9ed"/><rect x="106.20" y="527.72" width="3.19" height="10.74" fill="#dfa0a5"/><rect x="109.39" y="527.72" width="3.19" height="10.74" fill="#f2e6ea"/><rect x="112.58" y="527.72" width="3.19" height="10.74" fill="#edecf6"/><rect x="115.77" y="527.72" width="3.19" height="10.74" fill="#f1e0e5"/><rect x="118.96" y="527.72" width="3.19" height="10.74" fill="#ebeaf5"/><rect x="122.15" y="527.72" width="3.19" height="10.74" fill="#f1e2e6"/><rect x="125.34" y="527.72" width="3.19" height="10.74" fill="#f3eaee"/><rect x="128.53" y="527.72" width="3.19" height="10.74" fill="#f6f3f7"/><rect x="131.73" y="527.72" width="3.19" height="10.74" fill="#f6f4f8"/><rect x="134.92" y="527.72" width="3.19" height="10.74" fill="#f2e2e7"/><rect x="138.11" y="527.72" width="3.19" height="10.74" fill="#d7d6ef"/><rect x="141.30" y="527.72" width="3.19" height="10.74" fill="#eeecf6"/><rect x="144.49" y="527.72" width="3.19" height="10.74" fill="#ebc7cc"/><rect x="147.68" y="527.72" width="3.19" height="10.74" fill="#efd8dd"/><rect x="150.87" y="527.72" width="3.19" height="10.74" fill="#f3e8ec"/><rect x="154.06" y="527.72" width="3.19" height="10.74" fill="#e2e1f2"/><rect x="157.25" y="527.72" width="3.19" height="10.74" fill="#f6f2f6"/><rect x="160.44" y="527.72" width="3.19" height="10.74" fill="#dcdbf1"/><rect x="163.63" y="527.72" width="3.19" height="10.74" fill="#f2e3e7"/><rect x="166.82" y="527.72" width="3.19" height="10.74" fill="#efedf6"/><rect x="170.01" y="527.72" width="3.19" height="10.74" fill="#d98b90"/><rect x="173.20" y="527.72" width="3.19" height="10.74" fill="#e5b3b8"/><rect x="176.39" y="527.72" width="3.19" height="10.74" fill="#f6f3f7"/><rect x="179.58" y="527.72" width="3.19" height="10.74" fill="#f0eff6"/><rect x="182.77" y="527.72" width="3.19" height="10.74" fill="#f3e8ed"/><rect x="185.96" y="527.72" width="3.19" height="10.74" fill="#f2f1f7"/><rect x="189.15" y="527.72" width="3.19" height="10.74" fill="#f3e9ee"/><rect x="192.35" y="527.72" width="3.19" height="10.74" fill="#f0dadf"/><rect x="195.54" y="527.72" width="3.19" height="10.74" fill="#f2e4e8"/><rect x="198.73" y="527.72" width="3.19" height="10.74" fill="#e8c0c5"/><rect x="201.92" y="527.72" width="3.19" height="10.74" fill="#e6b9be"/><rect x="205.11" y="527.72" width="3.19" height="10.74" fill="#d47a80"/><rect x="208.30" y="527.72" width="3.19" height="10.74" fill="#e5b5ba"/><rect x="211.49" y="527.72" width="3.19" height="10.74" fill="#edced3"/><rect x="214.68" y="527.72" width="3.19" height="10.74" fill="#f5eff3"/><rect x="217.87" y="527.72" width="3.19" height="10.74" fill="#e0dff2"/><rect x="221.06" y="527.72" width="3.19" height="10.74" fill="#d06a6f"/><rect x="224.25" y="527.72" width="3.19" height="10.74" fill="#f0dde2"/><rect x="227.44" y="527.72" width="3.19" height="10.74" fill="#f4ebef"/><rect x="230.63" y="527.72" width="3.19" height="10.74" fill="#f4ebef"/><rect x="233.82" y="527.72" width="3.19" height="10.74" fill="#e3aeb3"/><rect x="237.01" y="527.72" width="3.19" height="10.74" fill="#e9c0c5"/><rect x="240.20" y="527.72" width="3.19" height="10.74" fill="#f4f2f7"/><rect x="243.39" y="527.72" width="3.19" height="10.74" fill="#f0dce0"/><rect x="246.58" y="527.72" width="3.19" height="10.74" fill="#d47a80"/><rect x="249.77" y="527.72" width="3.19" height="10.74" fill="#edd0d5"/><rect x="252.97" y="527.72" width="3.19" height="10.74" fill="#dfdef2"/><rect x="256.16" y="527.72" width="3.19" height="10.74" fill="#f4ecf0"/><rect x="259.35" y="527.72" width="3.19" height="10.74" fill="#f3eaee"/><rect x="262.54" y="527.72" width="3.19" height="10.74" fill="#e0a5aa"/><rect x="265.73" y="527.72" width="3.19" height="10.74" fill="#f4eef2"/><rect x="268.92" y="527.72" width="3.19" height="10.74" fill="#f0dee2"/><rect x="272.11" y="527.72" width="3.19" height="10.74" fill="#f5f1f5"/><rect x="275.30" y="527.72" width="3.19" height="10.74" fill="#c2c2e7"/><rect x="278.49" y="527.72" width="3.19" height="10.74" fill="#c1c2e7"/><rect x="281.68" y="527.72" width="3.19" height="10.74" fill="#c2c2e7"/><rect x="284.87" y="527.72" width="3.19" height="10.74" fill="#999bd0"/><rect x="288.06" y="527.72" width="3.19" height="10.74" fill="#9b9cd1"/><rect x="291.25" y="527.72" width="3.19" height="10.74" fill="#d8d7f0"/><rect x="294.44" y="527.72" width="3.19" height="10.74" fill="#deddf1"/><rect x="297.63" y="527.72" width="3.19" height="10.74" fill="#c4c4e8"/><rect x="300.82" y="527.72" width="3.19" height="10.74" fill="#acaddb"/><rect x="304.01" y="527.72" width="3.19" height="10.74" fill="#f2f0f7"/><rect x="307.20" y="527.72" width="3.19" height="10.74" fill="#b8b9e2"/><rect x="310.39" y="527.72" width="3.19" height="10.74" fill="#c8c8eb"/><rect x="313.59" y="527.72" width="3.19" height="10.74" fill="#bcbde4"/><rect x="316.78" y="527.72" width="3.19" height="10.74" fill="#cbcbec"/><rect x="319.97" y="527.72" width="3.19" height="10.74" fill="#c5c5e9"/><rect x="323.16" y="527.72" width="3.19" height="10.74" fill="#a1a2d4"/><rect x="326.35" y="527.72" width="3.19" height="10.74" fill="#a7a8d8"/><rect x="329.54" y="527.72" width="3.19" height="10.74" fill="#edebf5"/><rect x="332.73" y="527.72" width="3.19" height="10.74" fill="#bfbfe6"/><rect x="335.92" y="527.72" width="3.19" height="10.74" fill="#e8e7f4"/><rect x="339.11" y="527.72" width="3.19" height="10.74" fill="#f3f1f7"/><rect x="39.20" y="538.46" width="3.19" height="10.74" fill="#f3f1f7"/><rect x="42.39" y="538.46" width="3.19" height="10.74" fill="#f2f0f7"/><rect x="45.58" y="538.46" width="3.19" height="10.74" fill="#f5f1f5"/><rect x="48.77" y="538.46" width="3.19" height="10.74" fill="#edecf6"/><rect x="51.96" y="538.46" width="3.19" height="10.74" fill="#f1eff7"/><rect x="55.15" y="538.46" width="3.19" height="10.74" fill="#f2f0f7"/><rect x="58.34" y="538.46" width="3.19" height="10.74" fill="#e8e7f4"/><rect x="61.53" y="538.46" width="3.19" height="10.74" fill="#f6f2f6"/><rect x="64.72" y="538.46" width="3.19" height="10.74" fill="#f0eff6"/><rect x="67.91" y="538.46" width="3.19" height="10.74" fill="#f4ebf0"/><rect x="71.11" y="538.46" width="3.19" height="10.74" fill="#bfbfe6"/><rect x="74.30" y="538.46" width="3.19" height="10.74" fill="#d98b90"/><rect x="77.49" y="538.46" width="3.19" height="10.74" fill="#eeecf6"/><rect x="80.68" y="538.46" width="3.19" height="10.74" fill="#d3d3ee"/><rect x="83.87" y="538.46" width="3.19" height="10.74" fill="#ccccec"/><rect x="87.06" y="538.46" width="3.19" height="10.74" fill="#f4f2f7"/><rect x="90.25" y="538.46" width="3.19" height="10.74" fill="#edd2d7"/><rect x="93.44" y="538.46" width="3.19" height="10.74" fill="#d3d2ee"/><rect x="96.63" y="538.46" width="3.19" height="10.74" fill="#dfa0a5"/><rect x="99.82" y="538.46" width="3.19" height="10.74" fill="#f6f4f8"/><rect x="103.01" y="538.46" width="3.19" height="10.74" fill="#f5eef2"/><rect x="106.20" y="538.46" width="3.19" height="10.74" fill="#f5f3f8"/><rect x="109.39" y="538.46" width="3.19" height="10.74" fill="#deddf1"/><rect x="112.58" y="538.46" width="3.19" height="10.74" fill="#d7d6ef"/><rect x="115.77" y="538.46" width="3.19" height="10.74" fill="#f5f0f4"/><rect x="118.96" y="538.46" width="3.19" height="10.74" fill="#cacaec"/><rect x="122.15" y="538.46" width="3.19" height="10.74" fill="#f4eaee"/><rect x="125.34" y="538.46" width="3.19" height="10.74" fill="#efd7dc"/><rect x="128.53" y="538.46" width="3.19" height="10.74" fill="#dfa0a5"/><rect x="131.73" y="538.46" width="3.19" height="10.74" fill="#f5f0f4"/><rect x="134.92" y="538.46" width="3.19" height="10.74" fill="#efedf6"/><rect x="138.11" y="538.46" width="3.19" height="10.74" fill="#eccdd2"/><rect x="141.30" y="538.46" width="3.19" height="10.74" fill="#f3f2f7"/><rect x="144.49" y="538.46" width="3.19" height="10.74" fill="#f3e7eb"/><rect x="147.68" y="538.46" width="3.19" height="10.74" fill="#f2e4e8"/><rect x="150.87" y="538.46" width="3.19" height="10.74" fill="#edd1d6"/><rect x="154.06" y="538.46" width="3.19" height="10.74" fill="#f4eaee"/><rect x="157.25" y="538.46" width="3.19" height="10.74" fill="#efd6db"/><rect x="160.44" y="538.46" width="3.19" height="10.74" fill="#dddcf1"/><rect x="163.63" y="538.46" width="3.19" height="10.74" fill="#eccdd2"/><rect x="166.82" y="538.46" width="3.19" height="10.74" fill="#f0eef6"/><rect x="170.01" y="538.46" width="3.19" height="10.74" fill="#e9e8f4"/><rect x="173.20" y="538.46" width="3.19" height="10.74" fill="#ebeaf5"/><rect x="176.39" y="538.46" width="3.19" height="10.74" fill="#e9c3c8"/><rect x="179.58" y="538.46" width="3.19" height="10.74" fill="#f6f4f8"/><rect x="182.77" y="538.46" width="3.19" height="10.74" fill="#f4ebf0"/><rect x="185.96" y="538.46" width="3.19" height="10.74" fill="#eac4c9"/><rect x="189.15" y="538.46" width="3.19" height="10.74" fill="#ebcacf"/><rect x="192.35" y="538.46" width="3.19" height="10.74" fill="#eac4c9"/><rect x="195.54" y="538.46" width="3.19" height="10.74" fill="#f0dce0"/><rect x="198.73" y="538.46" width="3.19" height="10.74" fill="#f1e0e5"/><rect x="201.92" y="538.46" width="3.19" height="10.74" fill="#e5e4f3"/><rect x="205.11" y="538.46" width="3.19" height="10.74" fill="#f4eef2"/><rect x="208.30" y="538.46" width="3.19" height="10.74" fill="#eeecf6"/><rect x="211.49" y="538.46" width="3.19" height="10.74" fill="#e7b9be"/><rect x="214.68" y="538.46" width="3.19" height="10.74" fill="#f2e2e7"/><rect x="217.87" y="538.46" width="3.19" height="10.74" fill="#ca4e52"/><rect x="221.06" y="538.46" width="3.19" height="10.74" fill="#cc585d"/><rect x="224.25" y="538.46" width="3.19" height="10.74" fill="#f3e9ed"/><rect x="227.44" y="538.46" width="3.19" height="10.74" fill="#d98b90"/><rect x="230.63" y="538.46" width="3.19" height="10.74" fill="#efd8dd"/><rect x="233.82" y="538.46" width="3.19" height="10.74" fill="#f5f0f4"/><rect x="237.01" y="538.46" width="3.19" height="10.74" fill="#f5f0f4"/><rect x="240.20" y="538.46" width="3.19" height="10.74" fill="#eae8f4"/><rect x="243.39" y="538.46" width="3.19" height="10.74" fill="#f5eff3"/><rect x="246.58" y="538.46" width="3.19" height="10.74" fill="#f1eff6"/><rect x="249.77" y="538.46" width="3.19" height="10.74" fill="#eed2d7"/><rect x="252.97" y="538.46" width="3.19" height="10.74" fill="#f4ecf0"/><rect x="256.16" y="538.46" width="3.19" height="10.74" fill="#e1a7ac"/><rect x="259.35" y="538.46" width="3.19" height="10.74" fill="#f2e3e7"/><rect x="262.54" y="538.46" width="3.19" height="10.74" fill="#e7bbc0"/><rect x="265.73" y="538.46" width="3.19" height="10.74" fill="#efd7dc"/><rect x="268.92" y="538.46" width="3.19" height="10.74" fill="#f4f2f7"/><rect x="272.11" y="538.46" width="3.19" height="10.74" fill="#e9e8f4"/><rect x="275.30" y="538.46" width="3.19" height="10.74" fill="#ebeaf5"/><rect x="278.49" y="538.46" width="3.19" height="10.74" fill="#cbcbec"/><rect x="281.68" y="538.46" width="3.19" height="10.74" fill="#e3e2f3"/><rect x="284.87" y="538.46" width="3.19" height="10.74" fill="#efeef6"/><rect x="288.06" y="538.46" width="3.19" height="10.74" fill="#d9d8f0"/><rect x="291.25" y="538.46" width="3.19" height="10.74" fill="#aeafdc"/><rect x="294.44" y="538.46" width="3.19" height="10.74" fill="#b7b7e1"/><rect x="297.63" y="538.46" width="3.19" height="10.74" fill="#b1b2de"/><rect x="300.82" y="538.46" width="3.19" height="10.74" fill="#b8b8e1"/><rect x="304.01" y="538.46" width="3.19" height="10.74" fill="#e8e7f4"/><rect x="307.20" y="538.46" width="3.19" height="10.74" fill="#b9b9e2"/><rect x="310.39" y="538.46" width="3.19" height="10.74" fill="#e6e5f3"/><rect x="313.59" y="538.46" width="3.19" height="10.74" fill="#f2f0f7"/><rect x="316.78" y="538.46" width="3.19" height="10.74" fill="#f2e4e8"/><rect x="319.97" y="538.46" width="3.19" height="10.74" fill="#e2e0f2"/><rect x="323.16" y="538.46" width="3.19" height="10.74" fill="#a9abd9"/><rect x="326.35" y="538.46" width="3.19" height="10.74" fill="#f4ecf1"/><rect x="329.54" y="538.46" width="3.19" height="10.74" fill="#d5d4ef"/><rect x="332.73" y="538.46" width="3.19" height="10.74" fill="#efedf6"/><rect x="335.92" y="538.46" width="3.19" height="10.74" fill="#a8a9d8"/><rect x="339.11" y="538.46" width="3.19" height="10.74" fill="#f3f1f7"/><rect x="39.20" y="549.20" width="3.19" height="10.74" fill="#f5f2f6"/><rect x="42.39" y="549.20" width="3.19" height="10.74" fill="#f2e6ea"/><rect x="45.58" y="549.20" width="3.19" height="10.74" fill="#cecded"/><rect x="48.77" y="549.20" width="3.19" height="10.74" fill="#f4f2f7"/><rect x="51.96" y="549.20" width="3.19" height="10.74" fill="#eae9f5"/><rect x="55.15" y="549.20" width="3.19" height="10.74" fill="#ebcacf"/><rect x="58.34" y="549.20" width="3.19" height="10.74" fill="#f4f2f7"/><rect x="61.53" y="549.20" width="3.19" height="10.74" fill="#f0dee2"/><rect x="64.72" y="549.20" width="3.19" height="10.74" fill="#f5f0f4"/><rect x="67.91" y="549.20" width="3.19" height="10.74" fill="#f4edf1"/><rect x="71.11" y="549.20" width="3.19" height="10.74" fill="#f3e8ec"/><rect x="74.30" y="549.20" width="3.19" height="10.74" fill="#f6f3f7"/><rect x="77.49" y="549.20" width="3.19" height="10.74" fill="#f5eef3"/><rect x="80.68" y="549.20" width="3.19" height="10.74" fill="#f4edf1"/><rect x="83.87" y="549.20" width="3.19" height="10.74" fill="#f5f0f4"/><rect x="87.06" y="549.20" width="3.19" height="10.74" fill="#f3e7ec"/><rect x="90.25" y="549.20" width="3.19" height="10.74" fill="#f0dce0"/><rect x="93.44" y="549.20" width="3.19" height="10.74" fill="#dadaf0"/><rect x="96.63" y="549.20" width="3.19" height="10.74" fill="#e8bfc4"/><rect x="99.82" y="549.20" width="3.19" height="10.74" fill="#edced3"/><rect x="103.01" y="549.20" width="3.19" height="10.74" fill="#edcfd4"/><rect x="106.20" y="549.20" width="3.19" height="10.74" fill="#f4ebef"/><rect x="109.39" y="549.20" width="3.19" height="10.74" fill="#f0dee2"/><rect x="112.58" y="549.20" width="3.19" height="10.74" fill="#f2e2e6"/><rect x="115.77" y="549.20" width="3.19" height="10.74" fill="#eccdd2"/><rect x="118.96" y="549.20" width="3.19" height="10.74" fill="#f5eef2"/><rect x="122.15" y="549.20" width="3.19" height="10.74" fill="#f4ecf0"/><rect x="125.34" y="549.20" width="3.19" height="10.74" fill="#eeedf6"/><rect x="128.53" y="549.20" width="3.19" height="10.74" fill="#ecebf5"/><rect x="131.73" y="549.20" width="3.19" height="10.74" fill="#f6f3f7"/><rect x="134.92" y="549.20" width="3.19" height="10.74" fill="#f0dbdf"/><rect x="138.11" y="549.20" width="3.19" height="10.74" fill="#eeecf6"/><rect x="141.30" y="549.20" width="3.19" height="10.74" fill="#efedf6"/><rect x="144.49" y="549.20" width="3.19" height="10.74" fill="#eed5d9"/><rect x="147.68" y="549.20" width="3.19" height="10.74" fill="#f0dbdf"/><rect x="150.87" y="549.20" width="3.19" height="10.74" fill="#f2f0f7"/><rect x="154.06" y="549.20" width="3.19" height="10.74" fill="#e5b5ba"/><rect x="157.25" y="549.20" width="3.19" height="10.74" fill="#f3eaee"/><rect x="160.44" y="549.20" width="3.19" height="10.74" fill="#c9c9eb"/><rect x="163.63" y="549.20" width="3.19" height="10.74" fill="#d6d6ef"/><rect x="166.82" y="549.20" width="3.19" height="10.74" fill="#f4edf1"/><rect x="170.01" y="549.20" width="3.19" height="10.74" fill="#ebc6cb"/><rect x="173.20" y="549.20" width="3.19" height="10.74" fill="#bcbce4"/><rect x="176.39" y="549.20" width="3.19" height="10.74" fill="#c8c8eb"/><rect x="179.58" y="549.20" width="3.19" height="10.74" fill="#ecebf5"/><rect x="182.77" y="549.20" width="3.19" height="10.74" fill="#eeedf6"/><rect x="185.96" y="549.20" width="3.19" height="10.74" fill="#bcbce4"/><rect x="189.15" y="549.20" width="3.19" height="10.74" fill="#efedf6"/><rect x="192.35" y="549.20" width="3.19" height="10.74" fill="#f2e3e7"/><rect x="195.54" y="549.20" width="3.19" height="10.74" fill="#bbbce4"/><rect x="198.73" y="549.20" width="3.19" height="10.74" fill="#e4e3f3"/><rect x="201.92" y="549.20" width="3.19" height="10.74" fill="#4b56aa"/><rect x="205.11" y="549.20" width="3.19" height="10.74" fill="#f5f1f5"/><rect x="208.30" y="549.20" width="3.19" height="10.74" fill="#dfdef1"/><rect x="211.49" y="549.20" width="3.19" height="10.74" fill="#f3f1f7"/><rect x="214.68" y="549.20" width="3.19" height="10.74" fill="#dad9f0"/><rect x="217.87" y="549.20" width="3.19" height="10.74" fill="#f1eff7"/><rect x="221.06" y="549.20" width="3.19" height="10.74" fill="#efd7db"/><rect x="224.25" y="549.20" width="3.19" height="10.74" fill="#f3f1f7"/><rect x="227.44" y="549.20" width="3.19" height="10.74" fill="#f3e8ec"/><rect x="230.63" y="549.20" width="3.19" height="10.74" fill="#e1e0f2"/><rect x="233.82" y="549.20" width="3.19" height="10.74" fill="#f0eef6"/><rect x="237.01" y="549.20" width="3.19" height="10.74" fill="#f1eff7"/><rect x="240.20" y="549.20" width="3.19" height="10.74" fill="#efd8dd"/><rect x="243.39" y="549.20" width="3.19" height="10.74" fill="#cccbec"/><rect x="246.58" y="549.20" width="3.19" height="10.74" fill="#f3f1f7"/><rect x="249.77" y="549.20" width="3.19" height="10.74" fill="#f3f2f7"/><rect x="252.97" y="549.20" width="3.19" height="10.74" fill="#f4ecf0"/><rect x="256.16" y="549.20" width="3.19" height="10.74" fill="#d1d1ee"/><rect x="259.35" y="549.20" width="3.19" height="10.74" fill="#f2f0f7"/><rect x="262.54" y="549.20" width="3.19" height="10.74" fill="#dd9ba0"/><rect x="265.73" y="549.20" width="3.19" height="10.74" fill="#f5f0f5"/><rect x="268.92" y="549.20" width="3.19" height="10.74" fill="#edecf6"/><rect x="272.11" y="549.20" width="3.19" height="10.74" fill="#c6c6ea"/><rect x="275.30" y="549.20" width="3.19" height="10.74" fill="#eae8f5"/><rect x="278.49" y="549.20" width="3.19" height="10.74" fill="#f4f2f7"/><rect x="281.68" y="549.20" width="3.19" height="10.74" fill="#5860af"/><rect x="284.87" y="549.20" width="3.19" height="10.74" fill="#c9c9eb"/><rect x="288.06" y="549.20" width="3.19" height="10.74" fill="#c9c9eb"/><rect x="291.25" y="549.20" width="3.19" height="10.74" fill="#f4ebef"/><rect x="294.44" y="549.20" width="3.19" height="10.74" fill="#d2d2ee"/><rect x="297.63" y="549.20" width="3.19" height="10.74" fill="#898bc6"/><rect x="300.82" y="549.20" width="3.19" height="10.74" fill="#646ab4"/><rect x="304.01" y="549.20" width="3.19" height="10.74" fill="#efedf6"/><rect x="307.20" y="549.20" width="3.19" height="10.74" fill="#f0eff6"/><rect x="310.39" y="549.20" width="3.19" height="10.74" fill="#d8d8f0"/><rect x="313.59" y="549.20" width="3.19" height="10.74" fill="#f5f0f4"/><rect x="316.78" y="549.20" width="3.19" height="10.74" fill="#b3b3de"/><rect x="319.97" y="549.20" width="3.19" height="10.74" fill="#bebfe5"/><rect x="323.16" y="549.20" width="3.19" height="10.74" fill="#d6d5ef"/><rect x="326.35" y="549.20" width="3.19" height="10.74" fill="#9c9dd1"/><rect x="329.54" y="549.20" width="3.19" height="10.74" fill="#b8b9e2"/><rect x="332.73" y="549.20" width="3.19" height="10.74" fill="#e9e7f4"/><rect x="335.92" y="549.20" width="3.19" height="10.74" fill="#8c8ec8"/><rect x="339.11" y="549.20" width="3.19" height="10.74" fill="#8c8ec8"/><rect x="39.20" y="559.94" width="3.19" height="10.74" fill="#e7e6f4"/><rect x="42.39" y="559.94" width="3.19" height="10.74" fill="#8487c4"/><rect x="45.58" y="559.94" width="3.19" height="10.74" fill="#edd0d5"/><rect x="48.77" y="559.94" width="3.19" height="10.74" fill="#8c8ec8"/><rect x="51.96" y="559.94" width="3.19" height="10.74" fill="#f6f3f7"/><rect x="55.15" y="559.94" width="3.19" height="10.74" fill="#f5f3f8"/><rect x="58.34" y="559.94" width="3.19" height="10.74" fill="#e7e6f4"/><rect x="61.53" y="559.94" width="3.19" height="10.74" fill="#efdade"/><rect x="64.72" y="559.94" width="3.19" height="10.74" fill="#d8d7ef"/><rect x="67.91" y="559.94" width="3.19" height="10.74" fill="#e9e7f4"/><rect x="71.11" y="559.94" width="3.19" height="10.74" fill="#dadaf0"/><rect x="74.30" y="559.94" width="3.19" height="10.74" fill="#f6f2f6"/><rect x="77.49" y="559.94" width="3.19" height="10.74" fill="#f6f2f6"/><rect x="80.68" y="559.94" width="3.19" height="10.74" fill="#f5f1f5"/><rect x="83.87" y="559.94" width="3.19" height="10.74" fill="#f1e0e4"/><rect x="87.06" y="559.94" width="3.19" height="10.74" fill="#989acf"/><rect x="90.25" y="559.94" width="3.19" height="10.74" fill="#f5f3f8"/><rect x="93.44" y="559.94" width="3.19" height="10.74" fill="#eccdd2"/><rect x="96.63" y="559.94" width="3.19" height="10.74" fill="#eeedf6"/><rect x="99.82" y="559.94" width="3.19" height="10.74" fill="#dcdbf1"/><rect x="103.01" y="559.94" width="3.19" height="10.74" fill="#edebf5"/><rect x="106.20" y="559.94" width="3.19" height="10.74" fill="#d2d1ee"/><rect x="109.39" y="559.94" width="3.19" height="10.74" fill="#d1d0ee"/><rect x="112.58" y="559.94" width="3.19" height="10.74" fill="#ebeaf5"/><rect x="115.77" y="559.94" width="3.19" height="10.74" fill="#f4f2f8"/><rect x="118.96" y="559.94" width="3.19" height="10.74" fill="#efd7dc"/><rect x="122.15" y="559.94" width="3.19" height="10.74" fill="#f6f4f8"/><rect x="125.34" y="559.94" width="3.19" height="10.74" fill="#f5f2f6"/><rect x="128.53" y="559.94" width="3.19" height="10.74" fill="#f0eef6"/><rect x="131.73" y="559.94" width="3.19" height="10.74" fill="#e1e0f2"/><rect x="134.92" y="559.94" width="3.19" height="10.74" fill="#f4ecf0"/><rect x="138.11" y="559.94" width="3.19" height="10.74" fill="#989acf"/><rect x="141.30" y="559.94" width="3.19" height="10.74" fill="#f4f2f7"/><rect x="144.49" y="559.94" width="3.19" height="10.74" fill="#f2f0f7"/><rect x="147.68" y="559.94" width="3.19" height="10.74" fill="#e7e6f4"/><rect x="150.87" y="559.94" width="3.19" height="10.74" fill="#f0eff6"/><rect x="154.06" y="559.94" width="3.19" height="10.74" fill="#f2e2e6"/><rect x="157.25" y="559.94" width="3.19" height="10.74" fill="#f1eff6"/><rect x="160.44" y="559.94" width="3.19" height="10.74" fill="#f3e8ec"/><rect x="163.63" y="559.94" width="3.19" height="10.74" fill="#f4f2f7"/><rect x="166.82" y="559.94" width="3.19" height="10.74" fill="#e2e1f2"/><rect x="170.01" y="559.94" width="3.19" height="10.74" fill="#efd7db"/><rect x="173.20" y="559.94" width="3.19" height="10.74" fill="#f0dde2"/><rect x="176.39" y="559.94" width="3.19" height="10.74" fill="#e6b9be"/><rect x="179.58" y="559.94" width="3.19" height="10.74" fill="#f5f2f6"/><rect x="182.77" y="559.94" width="3.19" height="10.74" fill="#e6b6bb"/><rect x="185.96" y="559.94" width="3.19" height="10.74" fill="#f6f3f7"/><rect x="189.15" y="559.94" width="3.19" height="10.74" fill="#ebeaf5"/><rect x="192.35" y="559.94" width="3.19" height="10.74" fill="#eed5da"/><rect x="195.54" y="559.94" width="3.19" height="10.74" fill="#f1e2e6"/><rect x="198.73" y="559.94" width="3.19" height="10.74" fill="#f1e0e4"/><rect x="201.92" y="559.94" width="3.19" height="10.74" fill="#f5f2f6"/><rect x="205.11" y="559.94" width="3.19" height="10.74" fill="#f2e3e7"/><rect x="208.30" y="559.94" width="3.19" height="10.74" fill="#f3f1f7"/><rect x="211.49" y="559.94" width="3.19" height="10.74" fill="#f4edf1"/><rect x="214.68" y="559.94" width="3.19" height="10.74" fill="#efedf6"/><rect x="217.87" y="559.94" width="3.19" height="10.74" fill="#edebf5"/><rect x="221.06" y="559.94" width="3.19" height="10.74" fill="#e9c3c8"/><rect x="224.25" y="559.94" width="3.19" height="10.74" fill="#f0dbe0"/><rect x="227.44" y="559.94" width="3.19" height="10.74" fill="#e7bcc1"/><rect x="230.63" y="559.94" width="3.19" height="10.74" fill="#f0dce0"/><rect x="233.82" y="559.94" width="3.19" height="10.74" fill="#f5eef2"/><rect x="237.01" y="559.94" width="3.19" height="10.74" fill="#e3e2f3"/><rect x="240.20" y="559.94" width="3.19" height="10.74" fill="#c0c0e6"/><rect x="243.39" y="559.94" width="3.19" height="10.74" fill="#f5f1f5"/><rect x="246.58" y="559.94" width="3.19" height="10.74" fill="#f5f0f4"/><rect x="249.77" y="559.94" width="3.19" height="10.74" fill="#e4e3f3"/><rect x="252.97" y="559.94" width="3.19" height="10.74" fill="#f5f0f4"/><rect x="256.16" y="559.94" width="3.19" height="10.74" fill="#dfa0a5"/><rect x="259.35" y="559.94" width="3.19" height="10.74" fill="#eeecf6"/><rect x="262.54" y="559.94" width="3.19" height="10.74" fill="#f5eff3"/><rect x="265.73" y="559.94" width="3.19" height="10.74" fill="#f0dde1"/><rect x="268.92" y="559.94" width="3.19" height="10.74" fill="#eae8f4"/><rect x="272.11" y="559.94" width="3.19" height="10.74" fill="#f4edf1"/><rect x="275.30" y="559.94" width="3.19" height="10.74" fill="#d2d2ee"/><rect x="278.49" y="559.94" width="3.19" height="10.74" fill="#ebc8cd"/><rect x="281.68" y="559.94" width="3.19" height="10.74" fill="#5860af"/><rect x="284.87" y="559.94" width="3.19" height="10.74" fill="#f4eaee"/><rect x="288.06" y="559.94" width="3.19" height="10.74" fill="#f3f1f7"/><rect x="291.25" y="559.94" width="3.19" height="10.74" fill="#efedf6"/><rect x="294.44" y="559.94" width="3.19" height="10.74" fill="#f4f2f7"/><rect x="297.63" y="559.94" width="3.19" height="10.74" fill="#f5f2f6"/><rect x="300.82" y="559.94" width="3.19" height="10.74" fill="#f6f4f8"/><rect x="304.01" y="559.94" width="3.19" height="10.74" fill="#babbe3"/><rect x="307.20" y="559.94" width="3.19" height="10.74" fill="#c6c6ea"/><rect x="310.39" y="559.94" width="3.19" height="10.74" fill="#f1dfe3"/><rect x="313.59" y="559.94" width="3.19" height="10.74" fill="#f5f2f6"/><rect x="316.78" y="559.94" width="3.19" height="10.74" fill="#f5f3f8"/><rect x="319.97" y="559.94" width="3.19" height="10.74" fill="#f5f3f8"/><rect x="323.16" y="559.94" width="3.19" height="10.74" fill="#f5f3f8"/><rect x="326.35" y="559.94" width="3.19" height="10.74" fill="#f2f0f7"/><rect x="329.54" y="559.94" width="3.19" height="10.74" fill="#e7e6f4"/><rect x="332.73" y="559.94" width="3.19" height="10.74" fill="#d0d0ed"/><rect x="335.92" y="559.94" width="3.19" height="10.74" fill="#f5f1f5"/><rect x="339.11" y="559.94" width="3.19" height="10.74" fill="#f1dfe3"/><rect x="39.20" y="570.68" width="3.19" height="10.74" fill="#f0eff6"/><rect x="42.39" y="570.68" width="3.19" height="10.74" fill="#e3adb2"/><rect x="45.58" y="570.68" width="3.19" height="10.74" fill="#dc979c"/><rect x="48.77" y="570.68" width="3.19" height="10.74" fill="#f0dce0"/><rect x="51.96" y="570.68" width="3.19" height="10.74" fill="#efdade"/><rect x="55.15" y="570.68" width="3.19" height="10.74" fill="#e3adb2"/><rect x="58.34" y="570.68" width="3.19" height="10.74" fill="#dd989d"/><rect x="61.53" y="570.68" width="3.19" height="10.74" fill="#f5f1f5"/><rect x="64.72" y="570.68" width="3.19" height="10.74" fill="#d8d7f0"/><rect x="67.91" y="570.68" width="3.19" height="10.74" fill="#edd2d7"/><rect x="71.11" y="570.68" width="3.19" height="10.74" fill="#f4edf2"/><rect x="74.30" y="570.68" width="3.19" height="10.74" fill="#e5b5ba"/><rect x="77.49" y="570.68" width="3.19" height="10.74" fill="#e2acb1"/><rect x="80.68" y="570.68" width="3.19" height="10.74" fill="#f3e9ed"/><rect x="83.87" y="570.68" width="3.19" height="10.74" fill="#db9499"/><rect x="87.06" y="570.68" width="3.19" height="10.74" fill="#d8888d"/><rect x="90.25" y="570.68" width="3.19" height="10.74" fill="#f4edf1"/><rect x="93.44" y="570.68" width="3.19" height="10.74" fill="#f5f0f4"/><rect x="96.63" y="570.68" width="3.19" height="10.74" fill="#de9ea3"/><rect x="99.82" y="570.68" width="3.19" height="10.74" fill="#e9c1c6"/><rect x="103.01" y="570.68" width="3.19" height="10.74" fill="#edcfd4"/><rect x="106.20" y="570.68" width="3.19" height="10.74" fill="#e0a3a8"/><rect x="109.39" y="570.68" width="3.19" height="10.74" fill="#eccacf"/><rect x="112.58" y="570.68" width="3.19" height="10.74" fill="#e0a4a9"/><rect x="115.77" y="570.68" width="3.19" height="10.74" fill="#edd0d5"/><rect x="118.96" y="570.68" width="3.19" height="10.74" fill="#e4b0b5"/><rect x="122.15" y="570.68" width="3.19" height="10.74" fill="#e5e3f3"/><rect x="125.34" y="570.68" width="3.19" height="10.74" fill="#f5f2f6"/><rect x="128.53" y="570.68" width="3.19" height="10.74" fill="#f4ecf0"/><rect x="131.73" y="570.68" width="3.19" height="10.74" fill="#e9c2c7"/><rect x="134.92" y="570.68" width="3.19" height="10.74" fill="#e6b8bd"/><rect x="138.11" y="570.68" width="3.19" height="10.74" fill="#e6b7bc"/><rect x="141.30" y="570.68" width="3.19" height="10.74" fill="#ebcacf"/><rect x="144.49" y="570.68" width="3.19" height="10.74" fill="#e8bdc2"/><rect x="147.68" y="570.68" width="3.19" height="10.74" fill="#f3e6eb"/><rect x="150.87" y="570.68" width="3.19" height="10.74" fill="#f1e2e6"/><rect x="154.06" y="570.68" width="3.19" height="10.74" fill="#edd2d7"/><rect x="157.25" y="570.68" width="3.19" height="10.74" fill="#f3e9ed"/><rect x="160.44" y="570.68" width="3.19" height="10.74" fill="#f2e2e6"/><rect x="163.63" y="570.68" width="3.19" height="10.74" fill="#eac5ca"/><rect x="166.82" y="570.68" width="3.19" height="10.74" fill="#f2e6ea"/><rect x="170.01" y="570.68" width="3.19" height="10.74" fill="#f4ecf0"/><rect x="173.20" y="570.68" width="3.19" height="10.74" fill="#eae9f5"/><rect x="176.39" y="570.68" width="3.19" height="10.74" fill="#f0dde2"/><rect x="179.58" y="570.68" width="3.19" height="10.74" fill="#c7c7ea"/><rect x="182.77" y="570.68" width="3.19" height="10.74" fill="#e0dff2"/><rect x="185.96" y="570.68" width="3.19" height="10.74" fill="#f2f0f7"/><rect x="189.15" y="570.68" width="3.19" height="10.74" fill="#ceceed"/><rect x="192.35" y="570.68" width="3.19" height="10.74" fill="#d5d5ef"/><rect x="195.54" y="570.68" width="3.19" height="10.74" fill="#e3e2f3"/><rect x="198.73" y="570.68" width="3.19" height="10.74" fill="#f1eff7"/><rect x="201.92" y="570.68" width="3.19" height="10.74" fill="#d1d1ee"/><rect x="205.11" y="570.68" width="3.19" height="10.74" fill="#deddf1"/><rect x="208.30" y="570.68" width="3.19" height="10.74" fill="#ceceed"/><rect x="211.49" y="570.68" width="3.19" height="10.74" fill="#cdccec"/><rect x="214.68" y="570.68" width="3.19" height="10.74" fill="#b7b7e1"/><rect x="217.87" y="570.68" width="3.19" height="10.74" fill="#a7a9d8"/><rect x="221.06" y="570.68" width="3.19" height="10.74" fill="#dad9f0"/><rect x="224.25" y="570.68" width="3.19" height="10.74" fill="#a3a5d6"/><rect x="227.44" y="570.68" width="3.19" height="10.74" fill="#e7e6f4"/><rect x="230.63" y="570.68" width="3.19" height="10.74" fill="#f5f0f5"/><rect x="233.82" y="570.68" width="3.19" height="10.74" fill="#f1e1e6"/><rect x="237.01" y="570.68" width="3.19" height="10.74" fill="#bfc0e6"/><rect x="240.20" y="570.68" width="3.19" height="10.74" fill="#cdcdec"/><rect x="243.39" y="570.68" width="3.19" height="10.74" fill="#acacda"/><rect x="246.58" y="570.68" width="3.19" height="10.74" fill="#f5f2f6"/><rect x="249.77" y="570.68" width="3.19" height="10.74" fill="#c7c7eb"/><rect x="252.97" y="570.68" width="3.19" height="10.74" fill="#f5f3f8"/><rect x="256.16" y="570.68" width="3.19" height="10.74" fill="#d7d7ef"/><rect x="259.35" y="570.68" width="3.19" height="10.74" fill="#f5eff3"/><rect x="262.54" y="570.68" width="3.19" height="10.74" fill="#c8c8eb"/><rect x="265.73" y="570.68" width="3.19" height="10.74" fill="#f0dde2"/><rect x="268.92" y="570.68" width="3.19" height="10.74" fill="#cdcded"/><rect x="272.11" y="570.68" width="3.19" height="10.74" fill="#f3f1f7"/><rect x="275.30" y="570.68" width="3.19" height="10.74" fill="#e6e5f3"/><rect x="278.49" y="570.68" width="3.19" height="10.74" fill="#b1b2de"/><rect x="281.68" y="570.68" width="3.19" height="10.74" fill="#a7a8d8"/><rect x="284.87" y="570.68" width="3.19" height="10.74" fill="#f5f0f4"/><rect x="288.06" y="570.68" width="3.19" height="10.74" fill="#d1d0ed"/><rect x="291.25" y="570.68" width="3.19" height="10.74" fill="#f3f1f7"/><rect x="294.44" y="570.68" width="3.19" height="10.74" fill="#ecebf5"/><rect x="297.63" y="570.68" width="3.19" height="10.74" fill="#d3d3ee"/><rect x="300.82" y="570.68" width="3.19" height="10.74" fill="#cdcded"/><rect x="304.01" y="570.68" width="3.19" height="10.74" fill="#999acf"/><rect x="307.20" y="570.68" width="3.19" height="10.74" fill="#8e90c9"/><rect x="310.39" y="570.68" width="3.19" height="10.74" fill="#8c8ec8"/><rect x="313.59" y="570.68" width="3.19" height="10.74" fill="#aaabda"/><rect x="316.78" y="570.68" width="3.19" height="10.74" fill="#b4b5df"/><rect x="319.97" y="570.68" width="3.19" height="10.74" fill="#b7b7e1"/><rect x="323.16" y="570.68" width="3.19" height="10.74" fill="#c5c5e9"/><rect x="326.35" y="570.68" width="3.19" height="10.74" fill="#9a9bd0"/><rect x="329.54" y="570.68" width="3.19" height="10.74" fill="#8c8ec8"/><rect x="332.73" y="570.68" width="3.19" height="10.74" fill="#9fa0d3"/><rect x="335.92" y="570.68" width="3.19" height="10.74" fill="#cbcbec"/><rect x="339.11" y="570.68" width="3.19" height="10.74" fill="#aeafdc"/><rect x="39.20" y="581.42" width="3.19" height="10.74" fill="#e0a5aa"/><rect x="42.39" y="581.42" width="3.19" height="10.74" fill="#f3e6ea"/><rect x="45.58" y="581.42" width="3.19" height="10.74" fill="#d27277"/><rect x="48.77" y="581.42" width="3.19" height="10.74" fill="#db9196"/><rect x="51.96" y="581.42" width="3.19" height="10.74" fill="#dd9a9f"/><rect x="55.15" y="581.42" width="3.19" height="10.74" fill="#d68186"/><rect x="58.34" y="581.42" width="3.19" height="10.74" fill="#ebc9ce"/><rect x="61.53" y="581.42" width="3.19" height="10.74" fill="#edced3"/><rect x="64.72" y="581.42" width="3.19" height="10.74" fill="#dfa0a5"/><rect x="67.91" y="581.42" width="3.19" height="10.74" fill="#e5b3b8"/><rect x="71.11" y="581.42" width="3.19" height="10.74" fill="#de9ca1"/><rect x="74.30" y="581.42" width="3.19" height="10.74" fill="#f2e3e7"/><rect x="77.49" y="581.42" width="3.19" height="10.74" fill="#ebc7cc"/><rect x="80.68" y="581.42" width="3.19" height="10.74" fill="#e8bfc4"/><rect x="83.87" y="581.42" width="3.19" height="10.74" fill="#f5eff4"/><rect x="87.06" y="581.42" width="3.19" height="10.74" fill="#efd8dd"/><rect x="90.25" y="581.42" width="3.19" height="10.74" fill="#d98b90"/><rect x="93.44" y="581.42" width="3.19" height="10.74" fill="#e7b9be"/><rect x="96.63" y="581.42" width="3.19" height="10.74" fill="#e0a2a7"/><rect x="99.82" y="581.42" width="3.19" height="10.74" fill="#f0dbdf"/><rect x="103.01" y="581.42" width="3.19" height="10.74" fill="#f1e1e6"/><rect x="106.20" y="581.42" width="3.19" height="10.74" fill="#edd2d7"/><rect x="109.39" y="581.42" width="3.19" height="10.74" fill="#e8bdc2"/><rect x="112.58" y="581.42" width="3.19" height="10.74" fill="#e7babf"/><rect x="115.77" y="581.42" width="3.19" height="10.74" fill="#e8bcc1"/><rect x="118.96" y="581.42" width="3.19" height="10.74" fill="#e4b2b7"/><rect x="122.15" y="581.42" width="3.19" height="10.74" fill="#f5f2f6"/><rect x="125.34" y="581.42" width="3.19" height="10.74" fill="#da8e93"/><rect x="128.53" y="581.42" width="3.19" height="10.74" fill="#e9c1c6"/><rect x="131.73" y="581.42" width="3.19" height="10.74" fill="#edd0d5"/><rect x="134.92" y="581.42" width="3.19" height="10.74" fill="#f3e8ec"/><rect x="138.11" y="581.42" width="3.19" height="10.74" fill="#e0a3a8"/><rect x="141.30" y="581.42" width="3.19" height="10.74" fill="#f0dbe0"/><rect x="144.49" y="581.42" width="3.19" height="10.74" fill="#eccdd2"/><rect x="147.68" y="581.42" width="3.19" height="10.74" fill="#e8bec3"/><rect x="150.87" y="581.42" width="3.19" height="10.74" fill="#e0a4a9"/><rect x="154.06" y="581.42" width="3.19" height="10.74" fill="#eccdd2"/><rect x="157.25" y="581.42" width="3.19" height="10.74" fill="#d57c81"/><rect x="160.44" y="581.42" width="3.19" height="10.74" fill="#e4b1b6"/><rect x="163.63" y="581.42" width="3.19" height="10.74" fill="#dc969b"/><rect x="166.82" y="581.42" width="3.19" height="10.74" fill="#f2e5e9"/><rect x="170.01" y="581.42" width="3.19" height="10.74" fill="#dfa1a6"/><rect x="173.20" y="581.42" width="3.19" height="10.74" fill="#f0eef6"/><rect x="176.39" y="581.42" width="3.19" height="10.74" fill="#eae9f5"/><rect x="179.58" y="581.42" width="3.19" height="10.74" fill="#f4edf2"/><rect x="182.77" y="581.42" width="3.19" height="10.74" fill="#f6f3f7"/><rect x="185.96" y="581.42" width="3.19" height="10.74" fill="#edebf5"/><rect x="189.15" y="581.42" width="3.19" height="10.74" fill="#f4f2f7"/><rect x="192.35" y="581.42" width="3.19" height="10.74" fill="#f6f2f7"/><rect x="195.54" y="581.42" width="3.19" height="10.74" fill="#efeef6"/><rect x="198.73" y="581.42" width="3.19" height="10.74" fill="#f3e7eb"/><rect x="201.92" y="581.42" width="3.19" height="10.74" fill="#edebf5"/><rect x="205.11" y="581.42" width="3.19" height="10.74" fill="#f5f3f8"/><rect x="208.30" y="581.42" width="3.19" height="10.74" fill="#f4f2f7"/><rect x="211.49" y="581.42" width="3.19" height="10.74" fill="#edebf5"/><rect x="214.68" y="581.42" width="3.19" height="10.74" fill="#f0eff6"/><rect x="217.87" y="581.42" width="3.19" height="10.74" fill="#f4f2f7"/><rect x="221.06" y="581.42" width="3.19" height="10.74" fill="#d6d5ef"/><rect x="224.25" y="581.42" width="3.19" height="10.74" fill="#f4f2f8"/><rect x="227.44" y="581.42" width="3.19" height="10.74" fill="#f0eef6"/><rect x="230.63" y="581.42" width="3.19" height="10.74" fill="#eed5da"/><rect x="233.82" y="581.42" width="3.19" height="10.74" fill="#f6f3f7"/><rect x="237.01" y="581.42" width="3.19" height="10.74" fill="#abacda"/><rect x="240.20" y="581.42" width="3.19" height="10.74" fill="#dad9f0"/><rect x="243.39" y="581.42" width="3.19" height="10.74" fill="#eceaf5"/><rect x="246.58" y="581.42" width="3.19" height="10.74" fill="#f6f2f6"/><rect x="249.77" y="581.42" width="3.19" height="10.74" fill="#d4d4ef"/><rect x="252.97" y="581.42" width="3.19" height="10.74" fill="#f4ecf0"/><rect x="256.16" y="581.42" width="3.19" height="10.74" fill="#f3eaee"/><rect x="259.35" y="581.42" width="3.19" height="10.74" fill="#edebf5"/><rect x="262.54" y="581.42" width="3.19" height="10.74" fill="#d0d0ed"/><rect x="265.73" y="581.42" width="3.19" height="10.74" fill="#f4f2f7"/><rect x="268.92" y="581.42" width="3.19" height="10.74" fill="#eed2d7"/><rect x="272.11" y="581.42" width="3.19" height="10.74" fill="#c8c8eb"/><rect x="275.30" y="581.42" width="3.19" height="10.74" fill="#c0c0e6"/><rect x="278.49" y="581.42" width="3.19" height="10.74" fill="#adaedb"/><rect x="281.68" y="581.42" width="3.19" height="10.74" fill="#9ea0d3"/><rect x="284.87" y="581.42" width="3.19" height="10.74" fill="#d8d7ef"/><rect x="288.06" y="581.42" width="3.19" height="10.74" fill="#d1d1ee"/><rect x="291.25" y="581.42" width="3.19" height="10.74" fill="#bebfe5"/><rect x="294.44" y="581.42" width="3.19" height="10.74" fill="#b8b9e2"/><rect x="297.63" y="581.42" width="3.19" height="10.74" fill="#e8e6f4"/><rect x="300.82" y="581.42" width="3.19" height="10.74" fill="#c8c8eb"/><rect x="304.01" y="581.42" width="3.19" height="10.74" fill="#cacaec"/><rect x="307.20" y="581.42" width="3.19" height="10.74" fill="#d7d6ef"/><rect x="310.39" y="581.42" width="3.19" height="10.74" fill="#8689c5"/><rect x="313.59" y="581.42" width="3.19" height="10.74" fill="#edebf5"/><rect x="316.78" y="581.42" width="3.19" height="10.74" fill="#d2d2ee"/><rect x="319.97" y="581.42" width="3.19" height="10.74" fill="#eae9f5"/><rect x="323.16" y="581.42" width="3.19" height="10.74" fill="#b0b1dd"/><rect x="326.35" y="581.42" width="3.19" height="10.74" fill="#9596cd"/><rect x="329.54" y="581.42" width="3.19" height="10.74" fill="#e8e6f4"/><rect x="332.73" y="581.42" width="3.19" height="10.74" fill="#9698ce"/><rect x="335.92" y="581.42" width="3.19" height="10.74" fill="#e8e6f4"/><rect x="339.11" y="581.42" width="3.19" height="10.74" fill="#f3f2f7"/><rect x="39.20" y="592.16" width="3.19" height="10.74" fill="#dd999e"/><rect x="42.39" y="592.16" width="3.19" height="10.74" fill="#f5f0f4"/><rect x="45.58" y="592.16" width="3.19" height="10.74" fill="#e5b3b8"/><rect x="48.77" y="592.16" width="3.19" height="10.74" fill="#e9c1c6"/><rect x="51.96" y="592.16" width="3.19" height="10.74" fill="#ecccd1"/><rect x="55.15" y="592.16" width="3.19" height="10.74" fill="#e8bfc4"/><rect x="58.34" y="592.16" width="3.19" height="10.74" fill="#e2abb0"/><rect x="61.53" y="592.16" width="3.19" height="10.74" fill="#da8d92"/><rect x="64.72" y="592.16" width="3.19" height="10.74" fill="#ebc7cc"/><rect x="67.91" y="592.16" width="3.19" height="10.74" fill="#e0a3a8"/><rect x="71.11" y="592.16" width="3.19" height="10.74" fill="#d8888d"/><rect x="74.30" y="592.16" width="3.19" height="10.74" fill="#eac5ca"/><rect x="77.49" y="592.16" width="3.19" height="10.74" fill="#d8888d"/><rect x="80.68" y="592.16" width="3.19" height="10.74" fill="#f3e8ec"/><rect x="83.87" y="592.16" width="3.19" height="10.74" fill="#eac5ca"/><rect x="87.06" y="592.16" width="3.19" height="10.74" fill="#e6b6bb"/><rect x="90.25" y="592.16" width="3.19" height="10.74" fill="#f2e3e7"/><rect x="93.44" y="592.16" width="3.19" height="10.74" fill="#f0dee2"/><rect x="96.63" y="592.16" width="3.19" height="10.74" fill="#f4eaef"/><rect x="99.82" y="592.16" width="3.19" height="10.74" fill="#e0a5aa"/><rect x="103.01" y="592.16" width="3.19" height="10.74" fill="#d78287"/><rect x="106.20" y="592.16" width="3.19" height="10.74" fill="#de9ca1"/><rect x="109.39" y="592.16" width="3.19" height="10.74" fill="#efd6db"/><rect x="112.58" y="592.16" width="3.19" height="10.74" fill="#f5f1f5"/><rect x="115.77" y="592.16" width="3.19" height="10.74" fill="#edcfd4"/><rect x="118.96" y="592.16" width="3.19" height="10.74" fill="#e9c2c7"/><rect x="122.15" y="592.16" width="3.19" height="10.74" fill="#e3e2f3"/><rect x="125.34" y="592.16" width="3.19" height="10.74" fill="#eccbd0"/><rect x="128.53" y="592.16" width="3.19" height="10.74" fill="#dc959a"/><rect x="131.73" y="592.16" width="3.19" height="10.74" fill="#e6b8bd"/><rect x="134.92" y="592.16" width="3.19" height="10.74" fill="#dcdbf1"/><rect x="138.11" y="592.16" width="3.19" height="10.74" fill="#f0dbe0"/><rect x="141.30" y="592.16" width="3.19" height="10.74" fill="#eac5ca"/><rect x="144.49" y="592.16" width="3.19" height="10.74" fill="#e7babf"/><rect x="147.68" y="592.16" width="3.19" height="10.74" fill="#e8bdc2"/><rect x="150.87" y="592.16" width="3.19" height="10.74" fill="#e2abb0"/><rect x="154.06" y="592.16" width="3.19" height="10.74" fill="#edd0d5"/><rect x="157.25" y="592.16" width="3.19" height="10.74" fill="#efd8dd"/><rect x="160.44" y="592.16" width="3.19" height="10.74" fill="#e5e4f3"/><rect x="163.63" y="592.16" width="3.19" height="10.74" fill="#e3acb1"/><rect x="166.82" y="592.16" width="3.19" height="10.74" fill="#e6b8bd"/><rect x="170.01" y="592.16" width="3.19" height="10.74" fill="#edd0d5"/><rect x="173.20" y="592.16" width="3.19" height="10.74" fill="#eceaf5"/><rect x="176.39" y="592.16" width="3.19" height="10.74" fill="#eae9f5"/><rect x="179.58" y="592.16" width="3.19" height="10.74" fill="#c9c9eb"/><rect x="182.77" y="592.16" width="3.19" height="10.74" fill="#b6b7e1"/><rect x="185.96" y="592.16" width="3.19" height="10.74" fill="#e4e3f3"/><rect x="189.15" y="592.16" width="3.19" height="10.74" fill="#d0d0ed"/><rect x="192.35" y="592.16" width="3.19" height="10.74" fill="#e0def2"/><rect x="195.54" y="592.16" width="3.19" height="10.74" fill="#f3f1f7"/><rect x="198.73" y="592.16" width="3.19" height="10.74" fill="#efedf6"/><rect x="201.92" y="592.16" width="3.19" height="10.74" fill="#bbbbe3"/><rect x="205.11" y="592.16" width="3.19" height="10.74" fill="#ebeaf5"/><rect x="208.30" y="592.16" width="3.19" height="10.74" fill="#f2f0f7"/><rect x="211.49" y="592.16" width="3.19" height="10.74" fill="#e4b2b7"/><rect x="214.68" y="592.16" width="3.19" height="10.74" fill="#f2f0f7"/><rect x="217.87" y="592.16" width="3.19" height="10.74" fill="#ccccec"/><rect x="221.06" y="592.16" width="3.19" height="10.74" fill="#e1e0f2"/><rect x="224.25" y="592.16" width="3.19" height="10.74" fill="#ebe9f5"/><rect x="227.44" y="592.16" width="3.19" height="10.74" fill="#dfdef1"/><rect x="230.63" y="592.16" width="3.19" height="10.74" fill="#eccdd2"/><rect x="233.82" y="592.16" width="3.19" height="10.74" fill="#e0dff2"/><rect x="237.01" y="592.16" width="3.19" height="10.74" fill="#f3e7eb"/><rect x="240.20" y="592.16" width="3.19" height="10.74" fill="#eeecf6"/><rect x="243.39" y="592.16" width="3.19" height="10.74" fill="#e1e0f2"/><rect x="246.58" y="592.16" width="3.19" height="10.74" fill="#e2e1f2"/><rect x="249.77" y="592.16" width="3.19" height="10.74" fill="#d7d7ef"/><rect x="252.97" y="592.16" width="3.19" height="10.74" fill="#efedf6"/><rect x="256.16" y="592.16" width="3.19" height="10.74" fill="#edebf5"/><rect x="259.35" y="592.16" width="3.19" height="10.74" fill="#d5d4ef"/><rect x="262.54" y="592.16" width="3.19" height="10.74" fill="#f1eff6"/><rect x="265.73" y="592.16" width="3.19" height="10.74" fill="#c1c1e7"/><rect x="268.92" y="592.16" width="3.19" height="10.74" fill="#d1d0ed"/><rect x="272.11" y="592.16" width="3.19" height="10.74" fill="#f6f4f8"/><rect x="275.30" y="592.16" width="3.19" height="10.74" fill="#eeecf6"/><rect x="278.49" y="592.16" width="3.19" height="10.74" fill="#8c8ec8"/><rect x="281.68" y="592.16" width="3.19" height="10.74" fill="#8e90c9"/><rect x="284.87" y="592.16" width="3.19" height="10.74" fill="#8c8ec8"/><rect x="288.06" y="592.16" width="3.19" height="10.74" fill="#8487c4"/><rect x="291.25" y="592.16" width="3.19" height="10.74" fill="#e9e8f4"/><rect x="294.44" y="592.16" width="3.19" height="10.74" fill="#e9e8f4"/><rect x="297.63" y="592.16" width="3.19" height="10.74" fill="#e6e5f3"/><rect x="300.82" y="592.16" width="3.19" height="10.74" fill="#d2d1ee"/><rect x="304.01" y="592.16" width="3.19" height="10.74" fill="#8487c4"/><rect x="307.20" y="592.16" width="3.19" height="10.74" fill="#f2f0f7"/><rect x="310.39" y="592.16" width="3.19" height="10.74" fill="#c9c9eb"/><rect x="313.59" y="592.16" width="3.19" height="10.74" fill="#f5f1f5"/><rect x="316.78" y="592.16" width="3.19" height="10.74" fill="#c0c1e7"/><rect x="319.97" y="592.16" width="3.19" height="10.74" fill="#8487c4"/><rect x="323.16" y="592.16" width="3.19" height="10.74" fill="#8c8ec8"/><rect x="326.35" y="592.16" width="3.19" height="10.74" fill="#a0a2d4"/><rect x="329.54" y="592.16" width="3.19" height="10.74" fill="#ceceed"/><rect x="332.73" y="592.16" width="3.19" height="10.74" fill="#f1eff7"/><rect x="335.92" y="592.16" width="3.19" height="10.74" fill="#7d80c0"/><rect x="339.11" y="592.16" width="3.19" height="10.74" fill="#9193cb"/><rect x="39.20" y="602.90" width="3.19" height="10.74" fill="#e7bcc1"/><rect x="42.39" y="602.90" width="3.19" height="10.74" fill="#e4b2b7"/><rect x="45.58" y="602.90" width="3.19" height="10.74" fill="#e7bcc1"/><rect x="48.77" y="602.90" width="3.19" height="10.74" fill="#dc959a"/><rect x="51.96" y="602.90" width="3.19" height="10.74" fill="#f3e9ed"/><rect x="55.15" y="602.90" width="3.19" height="10.74" fill="#f6f3f7"/><rect x="58.34" y="602.90" width="3.19" height="10.74" fill="#f4edf2"/><rect x="61.53" y="602.90" width="3.19" height="10.74" fill="#f0dce1"/><rect x="64.72" y="602.90" width="3.19" height="10.74" fill="#efd9de"/><rect x="67.91" y="602.90" width="3.19" height="10.74" fill="#f6f3f7"/><rect x="71.11" y="602.90" width="3.19" height="10.74" fill="#eac5ca"/><rect x="74.30" y="602.90" width="3.19" height="10.74" fill="#eac5ca"/><rect x="77.49" y="602.90" width="3.19" height="10.74" fill="#edcfd3"/><rect x="80.68" y="602.90" width="3.19" height="10.74" fill="#eed5da"/><rect x="83.87" y="602.90" width="3.19" height="10.74" fill="#eac6cb"/><rect x="87.06" y="602.90" width="3.19" height="10.74" fill="#f2e4e8"/><rect x="90.25" y="602.90" width="3.19" height="10.74" fill="#efd8dd"/><rect x="93.44" y="602.90" width="3.19" height="10.74" fill="#eed5da"/><rect x="96.63" y="602.90" width="3.19" height="10.74" fill="#e9c1c6"/><rect x="99.82" y="602.90" width="3.19" height="10.74" fill="#efd7dc"/><rect x="103.01" y="602.90" width="3.19" height="10.74" fill="#edced3"/><rect x="106.20" y="602.90" width="3.19" height="10.74" fill="#e2aaaf"/><rect x="109.39" y="602.90" width="3.19" height="10.74" fill="#e5b4b9"/><rect x="112.58" y="602.90" width="3.19" height="10.74" fill="#f0dde2"/><rect x="115.77" y="602.90" width="3.19" height="10.74" fill="#f4edf1"/><rect x="118.96" y="602.90" width="3.19" height="10.74" fill="#f6f3f7"/><rect x="122.15" y="602.90" width="3.19" height="10.74" fill="#eccdd2"/><rect x="125.34" y="602.90" width="3.19" height="10.74" fill="#e3acb1"/><rect x="128.53" y="602.90" width="3.19" height="10.74" fill="#e7bbc0"/><rect x="131.73" y="602.90" width="3.19" height="10.74" fill="#f4eef2"/><rect x="134.92" y="602.90" width="3.19" height="10.74" fill="#f1f0f7"/><rect x="138.11" y="602.90" width="3.19" height="10.74" fill="#eccdd1"/><rect x="141.30" y="602.90" width="3.19" height="10.74" fill="#efd7dc"/><rect x="144.49" y="602.90" width="3.19" height="10.74" fill="#e0a4a9"/><rect x="147.68" y="602.90" width="3.19" height="10.74" fill="#d68186"/><rect x="150.87" y="602.90" width="3.19" height="10.74" fill="#f2e5ea"/><rect x="154.06" y="602.90" width="3.19" height="10.74" fill="#dfa1a6"/><rect x="157.25" y="602.90" width="3.19" height="10.74" fill="#ecced2"/><rect x="160.44" y="602.90" width="3.19" height="10.74" fill="#ebc6cb"/><rect x="163.63" y="602.90" width="3.19" height="10.74" fill="#efd8dc"/><rect x="166.82" y="602.90" width="3.19" height="10.74" fill="#dd9ba0"/><rect x="170.01" y="602.90" width="3.19" height="10.74" fill="#f6f4f8"/><rect x="173.20" y="602.90" width="3.19" height="10.74" fill="#adaedb"/><rect x="176.39" y="602.90" width="3.19" height="10.74" fill="#e9e8f4"/><rect x="179.58" y="602.90" width="3.19" height="10.74" fill="#d0cfed"/><rect x="182.77" y="602.90" width="3.19" height="10.74" fill="#e1dff2"/><rect x="185.96" y="602.90" width="3.19" height="10.74" fill="#e8e7f4"/><rect x="189.15" y="602.90" width="3.19" height="10.74" fill="#b7b8e1"/><rect x="192.35" y="602.90" width="3.19" height="10.74" fill="#f4ebef"/><rect x="195.54" y="602.90" width="3.19" height="10.74" fill="#f5f1f6"/><rect x="198.73" y="602.90" width="3.19" height="10.74" fill="#e8e6f4"/><rect x="201.92" y="602.90" width="3.19" height="10.74" fill="#e1e0f2"/><rect x="205.11" y="602.90" width="3.19" height="10.74" fill="#cfcfed"/><rect x="208.30" y="602.90" width="3.19" height="10.74" fill="#dcdbf1"/><rect x="211.49" y="602.90" width="3.19" height="10.74" fill="#f0eef6"/><rect x="214.68" y="602.90" width="3.19" height="10.74" fill="#eeedf6"/><rect x="217.87" y="602.90" width="3.19" height="10.74" fill="#f0eef6"/><rect x="221.06" y="602.90" width="3.19" height="10.74" fill="#e3e1f3"/><rect x="224.25" y="602.90" width="3.19" height="10.74" fill="#cbcbec"/><rect x="227.44" y="602.90" width="3.19" height="10.74" fill="#efedf6"/><rect x="230.63" y="602.90" width="3.19" height="10.74" fill="#c0c1e7"/><rect x="233.82" y="602.90" width="3.19" height="10.74" fill="#aaabd9"/><rect x="237.01" y="602.90" width="3.19" height="10.74" fill="#d2d2ee"/><rect x="240.20" y="602.90" width="3.19" height="10.74" fill="#f6f4f8"/><rect x="243.39" y="602.90" width="3.19" height="10.74" fill="#dfdef2"/><rect x="246.58" y="602.90" width="3.19" height="10.74" fill="#f5f2f6"/><rect x="249.77" y="602.90" width="3.19" height="10.74" fill="#e9e8f4"/><rect x="252.97" y="602.90" width="3.19" height="10.74" fill="#efedf6"/><rect x="256.16" y="602.90" width="3.19" height="10.74" fill="#aeafdc"/><rect x="259.35" y="602.90" width="3.19" height="10.74" fill="#f5eff3"/><rect x="262.54" y="602.90" width="3.19" height="10.74" fill="#f1dfe3"/><rect x="265.73" y="602.90" width="3.19" height="10.74" fill="#d4d3ee"/><rect x="268.92" y="602.90" width="3.19" height="10.74" fill="#efeef6"/><rect x="272.11" y="602.90" width="3.19" height="10.74" fill="#f6f3f7"/><rect x="275.30" y="602.90" width="3.19" height="10.74" fill="#8c8ec8"/><rect x="278.49" y="602.90" width="3.19" height="10.74" fill="#a3a5d6"/><rect x="281.68" y="602.90" width="3.19" height="10.74" fill="#dadaf0"/><rect x="284.87" y="602.90" width="3.19" height="10.74" fill="#bcbde4"/><rect x="288.06" y="602.90" width="3.19" height="10.74" fill="#8c8ec8"/><rect x="291.25" y="602.90" width="3.19" height="10.74" fill="#e1e0f2"/><rect x="294.44" y="602.90" width="3.19" height="10.74" fill="#ecebf5"/><rect x="297.63" y="602.90" width="3.19" height="10.74" fill="#dcdbf1"/><rect x="300.82" y="602.90" width="3.19" height="10.74" fill="#e4e3f3"/><rect x="304.01" y="602.90" width="3.19" height="10.74" fill="#a1a2d4"/><rect x="307.20" y="602.90" width="3.19" height="10.74" fill="#bfbfe6"/><rect x="310.39" y="602.90" width="3.19" height="10.74" fill="#f4edf1"/><rect x="313.59" y="602.90" width="3.19" height="10.74" fill="#9fa0d3"/><rect x="316.78" y="602.90" width="3.19" height="10.74" fill="#c9c9eb"/><rect x="319.97" y="602.90" width="3.19" height="10.74" fill="#8487c4"/><rect x="323.16" y="602.90" width="3.19" height="10.74" fill="#a7a8d8"/><rect x="326.35" y="602.90" width="3.19" height="10.74" fill="#a4a5d6"/><rect x="329.54" y="602.90" width="3.19" height="10.74" fill="#f2f0f7"/><rect x="332.73" y="602.90" width="3.19" height="10.74" fill="#646ab4"/><rect x="335.92" y="602.90" width="3.19" height="10.74" fill="#c4c4e9"/><rect x="339.11" y="602.90" width="3.19" height="10.74" fill="#8487c4"/><line x1="39.20" y1="495.5" x2="39.20" y2="613.64" stroke="#a8a8b0" stroke-width="0.8"/><line x1="42.39" y1="495.5" x2="42.39" y2="613.64" stroke="#a8a8b0" stroke-width="0.8"/><line x1="45.58" y1="495.5" x2="45.58" y2="613.64" stroke="#a8a8b0" stroke-width="0.8"/><line x1="48.77" y1="495.5" x2="48.77" y2="613.64" stroke="#a8a8b0" stroke-width="0.8"/><line x1="51.96" y1="495.5" x2="51.96" y2="613.64" stroke="#a8a8b0" stroke-width="0.8"/><line x1="55.15" y1="495.5" x2="55.15" y2="613.64" stroke="#a8a8b0" stroke-width="0.8"/><line x1="58.34" y1="495.5" x2="58.34" y2="613.64" stroke="#a8a8b0" stroke-width="0.8"/><line x1="61.53" y1="495.5" x2="61.53" y2="613.64" stroke="#a8a8b0" stroke-width="0.8"/><line x1="64.72" y1="495.5" x2="64.72" y2="613.64" stroke="#a8a8b0" stroke-width="0.8"/><line x1="67.91" y1="495.5" x2="67.91" y2="613.64" stroke="#a8a8b0" stroke-width="0.8"/><line x1="71.11" y1="495.5" x2="71.11" y2="613.64" stroke="#a8a8b0" stroke-width="0.8"/><line x1="74.30" y1="495.5" x2="74.30" y2="613.64" stroke="#a8a8b0" stroke-width="0.8"/><line x1="77.49" y1="495.5" x2="77.49" y2="613.64" stroke="#a8a8b0" stroke-width="0.8"/><line x1="80.68" y1="495.5" x2="80.68" y2="613.64" stroke="#a8a8b0" stroke-width="0.8"/><line x1="83.87" y1="495.5" x2="83.87" y2="613.64" stroke="#a8a8b0" stroke-width="0.8"/><line x1="87.06" y1="495.5" x2="87.06" y2="613.64" stroke="#a8a8b0" stroke-width="0.8"/><line x1="90.25" y1="495.5" x2="90.25" y2="613.64" stroke="#a8a8b0" stroke-width="0.8"/><line x1="93.44" y1="495.5" x2="93.44" y2="613.64" stroke="#a8a8b0" stroke-width="0.8"/><line x1="96.63" y1="495.5" x2="96.63" y2="613.64" stroke="#a8a8b0" stroke-width="0.8"/><line x1="99.82" y1="495.5" x2="99.82" y2="613.64" stroke="#a8a8b0" stroke-width="0.8"/><line x1="103.01" y1="495.5" x2="103.01" y2="613.64" stroke="#a8a8b0" stroke-width="0.8"/><line x1="106.20" y1="495.5" x2="106.20" y2="613.64" stroke="#a8a8b0" stroke-width="0.8"/><line x1="109.39" y1="495.5" x2="109.39" y2="613.64" stroke="#a8a8b0" stroke-width="0.8"/><line x1="112.58" y1="495.5" x2="112.58" y2="613.64" stroke="#a8a8b0" stroke-width="0.8"/><line x1="115.77" y1="495.5" x2="115.77" y2="613.64" stroke="#a8a8b0" stroke-width="0.8"/><line x1="118.96" y1="495.5" x2="118.96" y2="613.64" stroke="#a8a8b0" stroke-width="0.8"/><line x1="122.15" y1="495.5" x2="122.15" y2="613.64" stroke="#a8a8b0" stroke-width="0.8"/><line x1="125.34" y1="495.5" x2="125.34" y2="613.64" stroke="#a8a8b0" stroke-width="0.8"/><line x1="128.53" y1="495.5" x2="128.53" y2="613.64" stroke="#a8a8b0" stroke-width="0.8"/><line x1="131.73" y1="495.5" x2="131.73" y2="613.64" stroke="#a8a8b0" stroke-width="0.8"/><line x1="134.92" y1="495.5" x2="134.92" y2="613.64" stroke="#a8a8b0" stroke-width="0.8"/><line x1="138.11" y1="495.5" x2="138.11" y2="613.64" stroke="#a8a8b0" stroke-width="0.8"/><line x1="141.30" y1="495.5" x2="141.30" y2="613.64" stroke="#a8a8b0" stroke-width="0.8"/><line x1="144.49" y1="495.5" x2="144.49" y2="613.64" stroke="#a8a8b0" stroke-width="0.8"/><line x1="147.68" y1="495.5" x2="147.68" y2="613.64" stroke="#a8a8b0" stroke-width="0.8"/><line x1="150.87" y1="495.5" x2="150.87" y2="613.64" stroke="#a8a8b0" stroke-width="0.8"/><line x1="154.06" y1="495.5" x2="154.06" y2="613.64" stroke="#a8a8b0" stroke-width="0.8"/><line x1="157.25" y1="495.5" x2="157.25" y2="613.64" stroke="#a8a8b0" stroke-width="0.8"/><line x1="160.44" y1="495.5" x2="160.44" y2="613.64" stroke="#a8a8b0" stroke-width="0.8"/><line x1="163.63" y1="495.5" x2="163.63" y2="613.64" stroke="#a8a8b0" stroke-width="0.8"/><line x1="166.82" y1="495.5" x2="166.82" y2="613.64" stroke="#a8a8b0" stroke-width="0.8"/><line x1="170.01" y1="495.5" x2="170.01" y2="613.64" stroke="#a8a8b0" stroke-width="0.8"/><line x1="173.20" y1="495.5" x2="173.20" y2="613.64" stroke="#a8a8b0" stroke-width="0.8"/><line x1="176.39" y1="495.5" x2="176.39" y2="613.64" stroke="#a8a8b0" stroke-width="0.8"/><line x1="179.58" y1="495.5" x2="179.58" y2="613.64" stroke="#a8a8b0" stroke-width="0.8"/><line x1="182.77" y1="495.5" x2="182.77" y2="613.64" stroke="#a8a8b0" stroke-width="0.8"/><line x1="185.96" y1="495.5" x2="185.96" y2="613.64" stroke="#a8a8b0" stroke-width="0.8"/><line x1="189.15" y1="495.5" x2="189.15" y2="613.64" stroke="#a8a8b0" stroke-width="0.8"/><line x1="192.35" y1="495.5" x2="192.35" y2="613.64" stroke="#a8a8b0" stroke-width="0.8"/><line x1="195.54" y1="495.5" x2="195.54" y2="613.64" stroke="#a8a8b0" stroke-width="0.8"/><line x1="198.73" y1="495.5" x2="198.73" y2="613.64" stroke="#a8a8b0" stroke-width="0.8"/><line x1="201.92" y1="495.5" x2="201.92" y2="613.64" stroke="#a8a8b0" stroke-width="0.8"/><line x1="205.11" y1="495.5" x2="205.11" y2="613.64" stroke="#a8a8b0" stroke-width="0.8"/><line x1="208.30" y1="495.5" x2="208.30" y2="613.64" stroke="#a8a8b0" stroke-width="0.8"/><line x1="211.49" y1="495.5" x2="211.49" y2="613.64" stroke="#a8a8b0" stroke-width="0.8"/><line x1="214.68" y1="495.5" x2="214.68" y2="613.64" stroke="#a8a8b0" stroke-width="0.8"/><line x1="217.87" y1="495.5" x2="217.87" y2="613.64" stroke="#a8a8b0" stroke-width="0.8"/><line x1="221.06" y1="495.5" x2="221.06" y2="613.64" stroke="#a8a8b0" stroke-width="0.8"/><line x1="224.25" y1="495.5" x2="224.25" y2="613.64" stroke="#a8a8b0" stroke-width="0.8"/><line x1="227.44" y1="495.5" x2="227.44" y2="613.64" stroke="#a8a8b0" stroke-width="0.8"/><line x1="230.63" y1="495.5" x2="230.63" y2="613.64" stroke="#a8a8b0" stroke-width="0.8"/><line x1="233.82" y1="495.5" x2="233.82" y2="613.64" stroke="#a8a8b0" stroke-width="0.8"/><line x1="237.01" y1="495.5" x2="237.01" y2="613.64" stroke="#a8a8b0" stroke-width="0.8"/><line x1="240.20" y1="495.5" x2="240.20" y2="613.64" stroke="#a8a8b0" stroke-width="0.8"/><line x1="243.39" y1="495.5" x2="243.39" y2="613.64" stroke="#a8a8b0" stroke-width="0.8"/><line x1="246.58" y1="495.5" x2="246.58" y2="613.64" stroke="#a8a8b0" stroke-width="0.8"/><line x1="249.77" y1="495.5" x2="249.77" y2="613.64" stroke="#a8a8b0" stroke-width="0.8"/><line x1="252.97" y1="495.5" x2="252.97" y2="613.64" stroke="#a8a8b0" stroke-width="0.8"/><line x1="256.16" y1="495.5" x2="256.16" y2="613.64" stroke="#a8a8b0" stroke-width="0.8"/><line x1="259.35" y1="495.5" x2="259.35" y2="613.64" stroke="#a8a8b0" stroke-width="0.8"/><line x1="262.54" y1="495.5" x2="262.54" y2="613.64" stroke="#a8a8b0" stroke-width="0.8"/><line x1="265.73" y1="495.5" x2="265.73" y2="613.64" stroke="#a8a8b0" stroke-width="0.8"/><line x1="268.92" y1="495.5" x2="268.92" y2="613.64" stroke="#a8a8b0" stroke-width="0.8"/><line x1="272.11" y1="495.5" x2="272.11" y2="613.64" stroke="#a8a8b0" stroke-width="0.8"/><line x1="275.30" y1="495.5" x2="275.30" y2="613.64" stroke="#a8a8b0" stroke-width="0.8"/><line x1="278.49" y1="495.5" x2="278.49" y2="613.64" stroke="#a8a8b0" stroke-width="0.8"/><line x1="281.68" y1="495.5" x2="281.68" y2="613.64" stroke="#a8a8b0" stroke-width="0.8"/><line x1="284.87" y1="495.5" x2="284.87" y2="613.64" stroke="#a8a8b0" stroke-width="0.8"/><line x1="288.06" y1="495.5" x2="288.06" y2="613.64" stroke="#a8a8b0" stroke-width="0.8"/><line x1="291.25" y1="495.5" x2="291.25" y2="613.64" stroke="#a8a8b0" stroke-width="0.8"/><line x1="294.44" y1="495.5" x2="294.44" y2="613.64" stroke="#a8a8b0" stroke-width="0.8"/><line x1="297.63" y1="495.5" x2="297.63" y2="613.64" stroke="#a8a8b0" stroke-width="0.8"/><line x1="300.82" y1="495.5" x2="300.82" y2="613.64" stroke="#a8a8b0" stroke-width="0.8"/><line x1="304.01" y1="495.5" x2="304.01" y2="613.64" stroke="#a8a8b0" stroke-width="0.8"/><line x1="307.20" y1="495.5" x2="307.20" y2="613.64" stroke="#a8a8b0" stroke-width="0.8"/><line x1="310.39" y1="495.5" x2="310.39" y2="613.64" stroke="#a8a8b0" stroke-width="0.8"/><line x1="313.59" y1="495.5" x2="313.59" y2="613.64" stroke="#a8a8b0" stroke-width="0.8"/><line x1="316.78" y1="495.5" x2="316.78" y2="613.64" stroke="#a8a8b0" stroke-width="0.8"/><line x1="319.97" y1="495.5" x2="319.97" y2="613.64" stroke="#a8a8b0" stroke-width="0.8"/><line x1="323.16" y1="495.5" x2="323.16" y2="613.64" stroke="#a8a8b0" stroke-width="0.8"/><line x1="326.35" y1="495.5" x2="326.35" y2="613.64" stroke="#a8a8b0" stroke-width="0.8"/><line x1="329.54" y1="495.5" x2="329.54" y2="613.64" stroke="#a8a8b0" stroke-width="0.8"/><line x1="332.73" y1="495.5" x2="332.73" y2="613.64" stroke="#a8a8b0" stroke-width="0.8"/><line x1="335.92" y1="495.5" x2="335.92" y2="613.64" stroke="#a8a8b0" stroke-width="0.8"/><line x1="339.11" y1="495.5" x2="339.11" y2="613.64" stroke="#a8a8b0" stroke-width="0.8"/><line x1="342.30" y1="495.5" x2="342.30" y2="613.64" stroke="#a8a8b0" stroke-width="0.8"/><line x1="39.2" y1="495.50" x2="342.3" y2="495.50" stroke="#a8a8b0" stroke-width="0.8"/><line x1="39.2" y1="506.24" x2="342.3" y2="506.24" stroke="#a8a8b0" stroke-width="0.8"/><line x1="39.2" y1="516.98" x2="342.3" y2="516.98" stroke="#a8a8b0" stroke-width="0.8"/><line x1="39.2" y1="527.72" x2="342.3" y2="527.72" stroke="#a8a8b0" stroke-width="0.8"/><line x1="39.2" y1="538.46" x2="342.3" y2="538.46" stroke="#a8a8b0" stroke-width="0.8"/><line x1="39.2" y1="549.20" x2="342.3" y2="549.20" stroke="#a8a8b0" stroke-width="0.8"/><line x1="39.2" y1="559.94" x2="342.3" y2="559.94" stroke="#a8a8b0" stroke-width="0.8"/><line x1="39.2" y1="570.68" x2="342.3" y2="570.68" stroke="#a8a8b0" stroke-width="0.8"/><line x1="39.2" y1="581.42" x2="342.3" y2="581.42" stroke="#a8a8b0" stroke-width="0.8"/><line x1="39.2" y1="592.16" x2="342.3" y2="592.16" stroke="#a8a8b0" stroke-width="0.8"/><line x1="39.2" y1="602.90" x2="342.3" y2="602.90" stroke="#a8a8b0" stroke-width="0.8"/><line x1="39.2" y1="613.64" x2="342.3" y2="613.64" stroke="#a8a8b0" stroke-width="0.8"/></g><text x="20.3" y="460.85" font-size="8.2" text-anchor="middle" fill="#222" stroke="#222" stroke-width="0.12" transform="rotate(-90 20.3 460.85)">complement</text><text x="29.5" y="460.6" font-size="8.2" text-anchor="middle" fill="#222" stroke="#222" stroke-width="0.12" transform="rotate(-90 29.5 460.6)">system</text><text x="20.0" y="556.2" font-size="8.6" text-anchor="middle" fill="#222" stroke="#222" stroke-width="0.12" transform="rotate(-90 20.0 556.2)">(A)Granulocyte adhesion</text><text x="29.6" y="555.3" font-size="8.4" text-anchor="middle" fill="#222" stroke="#222" stroke-width="0.12" transform="rotate(-90 29.6 555.3)">and diapedesis</text><text x="345.2" y="439.2" font-size="8.8" text-anchor="start" fill="#111" stroke="#111" stroke-width="0.12" font-weight="bold">group</text><text x="345.6" y="452.0" font-size="8.8" text-anchor="start" fill="#222" stroke="#222" stroke-width="0.12">C1QC</text><text x="345.6" y="464.2" font-size="8.8" text-anchor="start" fill="#222" stroke="#222" stroke-width="0.12">C1QA</text><text x="345.6" y="476.4" font-size="8.8" text-anchor="start" fill="#222" stroke="#222" stroke-width="0.12">C1QB</text><text x="345.2" y="493.5" font-size="8.8" text-anchor="start" fill="#111" stroke="#111" stroke-width="0.12" font-weight="bold">group</text><text x="345.6" y="505.27" font-size="8.8" text-anchor="start" fill="#222" stroke="#222" stroke-width="0.12">MYL9</text><text x="345.6" y="516.01" font-size="8.8" text-anchor="start" fill="#222" stroke="#222" stroke-width="0.12">PF4</text><text x="345.6" y="526.75" font-size="8.8" text-anchor="start" fill="#222" stroke="#222" stroke-width="0.12">PPBP</text><text x="345.6" y="537.49" font-size="8.8" text-anchor="start" fill="#222" stroke="#222" stroke-width="0.12">CXCL5</text><text x="345.6" y="548.23" font-size="8.8" text-anchor="start" fill="#222" stroke="#222" stroke-width="0.12">JAM3</text><text x="345.6" y="558.97" font-size="8.8" text-anchor="start" fill="#222" stroke="#222" stroke-width="0.12">CXCR2</text><text x="345.6" y="569.7099999999999" font-size="8.8" text-anchor="start" fill="#222" stroke="#222" stroke-width="0.12">CXCR1</text><text x="345.6" y="580.4499999999999" font-size="8.8" text-anchor="start" fill="#222" stroke="#222" stroke-width="0.12">ITGA6</text><text x="345.6" y="591.1899999999999" font-size="8.8" text-anchor="start" fill="#222" stroke="#222" stroke-width="0.12">ICAM2</text><text x="345.6" y="601.93" font-size="8.8" text-anchor="start" fill="#222" stroke="#222" stroke-width="0.12">CCL5</text><text x="345.6" y="612.67" font-size="8.8" text-anchor="start" fill="#222" stroke="#222" stroke-width="0.12">CD99</text><defs><linearGradient id="cb" x1="0" y1="0" x2="0" y2="1"><stop offset="0.000" stop-color="#d72323"/><stop offset="0.050" stop-color="#d02e30"/><stop offset="0.100" stop-color="#ca393d"/><stop offset="0.150" stop-color="#ca494e"/><stop offset="0.200" stop-color="#cc5b60"/><stop offset="0.250" stop-color="#d3757a"/><stop offset="0.300" stop-color="#db9297"/><stop offset="0.350" stop-color="#e3acb1"/><stop offset="0.400" stop-color="#eac6cb"/><stop offset="0.450" stop-color="#f0dde2"/><stop offset="0.500" stop-color="#f6f4f8"/><stop offset="0.550" stop-color="#deddf1"/><stop offset="0.600" stop-color="#c6c6ea"/><stop offset="0.650" stop-color="#a6a8d7"/><stop offset="0.700" stop-color="#898bc6"/><stop offset="0.750" stop-color="#7478bc"/><stop offset="0.800" stop-color="#6168b3"/><stop offset="0.850" stop-color="#545dae"/><stop offset="0.900" stop-color="#4955a9"/><stop offset="0.950" stop-color="#4350a7"/><stop offset="1.000" stop-color="#3c4ba5"/></linearGradient></defs><rect x="388.10" y="432.10" width="7.60" height="109.50" fill="url(#cb)"/><text x="400.2" y="447.0" font-size="7.6" text-anchor="start" fill="#222" stroke="#222" stroke-width="0.12">4</text><text x="400.2" y="468.7" font-size="7.6" text-anchor="start" fill="#222" stroke="#222" stroke-width="0.12">2</text><text x="400.2" y="490.4" font-size="7.6" text-anchor="start" fill="#222" stroke="#222" stroke-width="0.12">0</text><text x="400.2" y="512.1" font-size="7.6" text-anchor="start" fill="#222" stroke="#222" stroke-width="0.12">-2</text><text x="400.2" y="533.8000000000001" font-size="7.6" text-anchor="start" fill="#222" stroke="#222" stroke-width="0.12">-4</text><text x="420.4" y="484.4" font-size="7.9" text-anchor="middle" fill="#222" stroke="#222" stroke-width="0.12" transform="rotate(-90 420.4 484.4)">scaled expression</text><text x="389.4" y="567.4" font-size="8.8" text-anchor="start" fill="#111" stroke="#111" stroke-width="0.12" font-weight="bold">group</text><rect x="389.40" y="571.00" width="15.40" height="14.60" fill="#000000"/><rect x="389.40" y="584.50" width="15.40" height="14.60" fill="#a9a9a9"/><rect x="389.40" y="599.00" width="15.40" height="14.60" fill="#8b1a1a"/><text x="411.8" y="579.6" font-size="9.96" text-anchor="start" fill="#222" stroke="#222" stroke-width="0.12">healthy</text><text x="411.8" y="595.2" font-size="9.96" text-anchor="start" fill="#222" stroke="#222" stroke-width="0.12">normal</text><text x="411.8" y="610.0" font-size="9.96" text-anchor="start" fill="#222" stroke="#222" stroke-width="0.12">Thrombocytopenia</text>
<rect x="0.5" y="0.5" width="519" height="621" fill="none" stroke="#000" stroke-width="1"/>
<rect x="1.5" y="1.5" width="517" height="619" fill="none" stroke="#777" stroke-width="1"/>
</svg></body></html>
